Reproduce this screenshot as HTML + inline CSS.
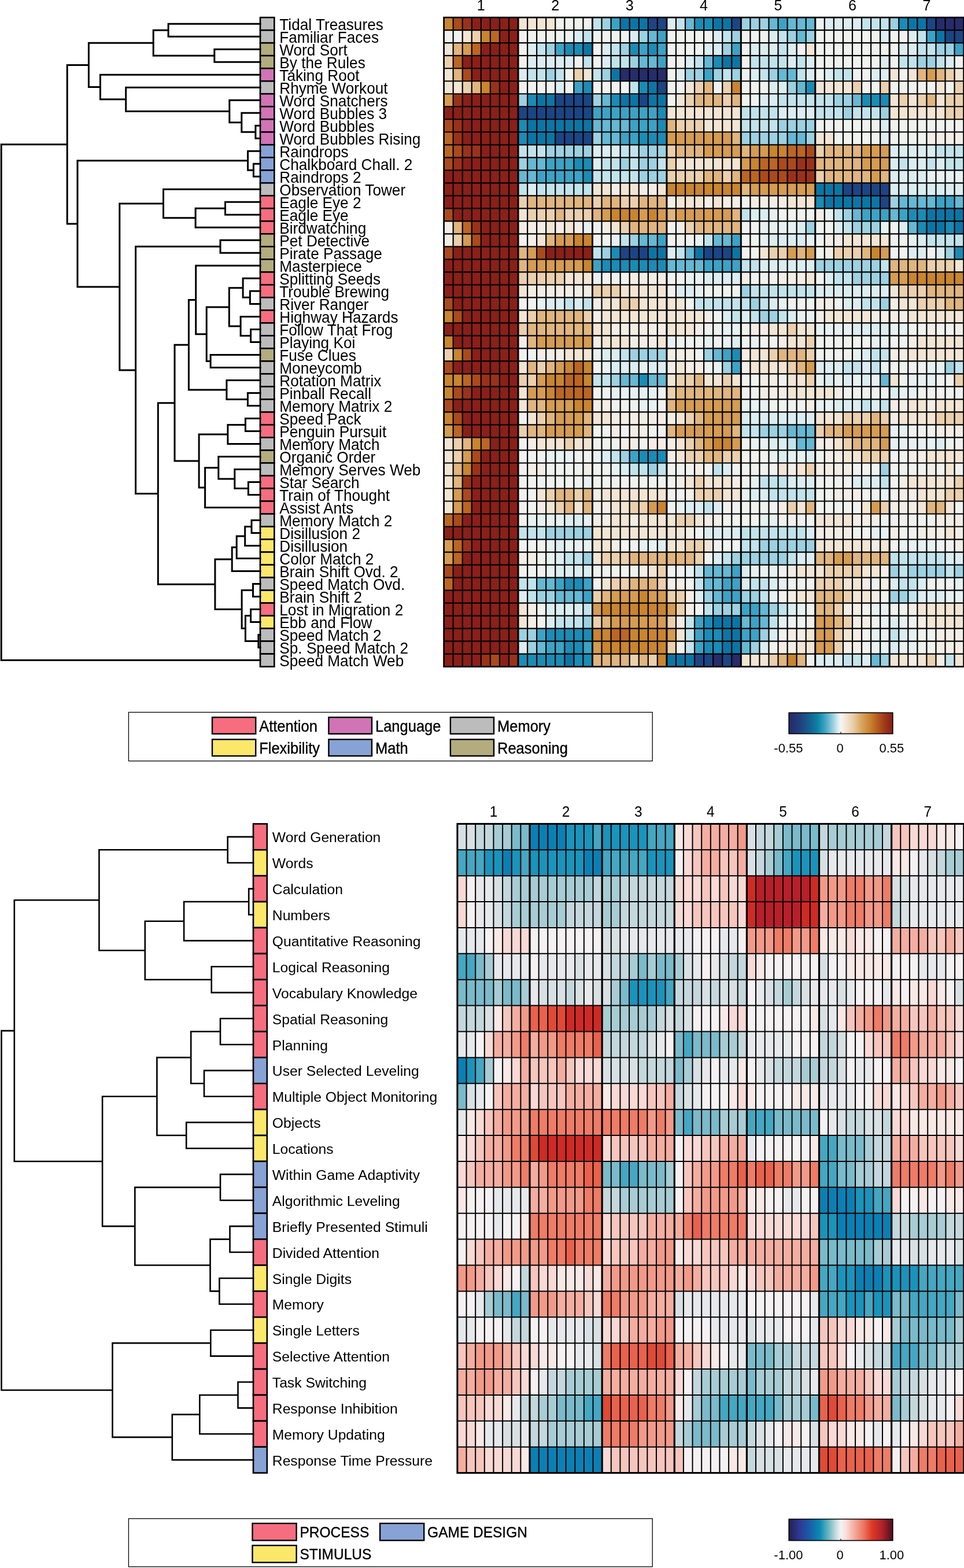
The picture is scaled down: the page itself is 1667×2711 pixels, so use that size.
<!DOCTYPE html><html><head><meta charset="utf-8"><title>Heatmaps</title><style>html,body{margin:0;padding:0;background:#fff;}svg{display:block;}text{font-family:"Liberation Sans", sans-serif;fill:#000;}</style></head><body>
<svg width="1667" height="2711" viewBox="0 0 1667 2711">
<rect width="1667" height="2711" fill="#fff"/>
<rect x="767.60" y="30.20" width="16.05" height="22.01" fill="#c9852f"/>
<rect x="783.65" y="30.20" width="16.05" height="22.01" fill="#ab4a1c"/>
<rect x="799.71" y="30.20" width="16.05" height="22.01" fill="#9a321a"/>
<rect x="815.76" y="30.20" width="80.27" height="22.01" fill="#8b1f19"/>
<rect x="896.03" y="30.20" width="64.22" height="22.01" fill="#f2e5d4"/>
<rect x="960.25" y="30.20" width="64.22" height="22.01" fill="#f0f2f0"/>
<rect x="1024.46" y="30.20" width="16.05" height="22.01" fill="#c2e3ec"/>
<rect x="1040.52" y="30.20" width="16.05" height="22.01" fill="#9dd1e1"/>
<rect x="1056.57" y="30.20" width="16.05" height="22.01" fill="#3ca3c6"/>
<rect x="1072.63" y="30.20" width="48.16" height="22.01" fill="#0b76a6"/>
<rect x="1120.79" y="30.20" width="32.11" height="22.01" fill="#1c4585"/>
<rect x="1152.90" y="30.20" width="16.05" height="22.01" fill="#dcedf1"/>
<rect x="1168.95" y="30.20" width="16.05" height="22.01" fill="#c2e3ec"/>
<rect x="1185.00" y="30.20" width="16.05" height="22.01" fill="#66b8d3"/>
<rect x="1201.06" y="30.20" width="32.11" height="22.01" fill="#1a8cb5"/>
<rect x="1233.17" y="30.20" width="32.11" height="22.01" fill="#0b76a6"/>
<rect x="1265.27" y="30.20" width="16.05" height="22.01" fill="#1c4585"/>
<rect x="1281.33" y="30.20" width="48.16" height="22.01" fill="#9dd1e1"/>
<rect x="1329.49" y="30.20" width="16.05" height="22.01" fill="#66b8d3"/>
<rect x="1345.54" y="30.20" width="16.05" height="22.01" fill="#3ca3c6"/>
<rect x="1361.60" y="30.20" width="48.16" height="22.01" fill="#66b8d3"/>
<rect x="1409.76" y="30.20" width="16.05" height="22.01" fill="#f0f2f0"/>
<rect x="1425.81" y="30.20" width="64.22" height="22.01" fill="#dcedf1"/>
<rect x="1490.03" y="30.20" width="48.16" height="22.01" fill="#c2e3ec"/>
<rect x="1538.19" y="30.20" width="16.05" height="22.01" fill="#9dd1e1"/>
<rect x="1554.25" y="30.20" width="16.05" height="22.01" fill="#1a8cb5"/>
<rect x="1570.30" y="30.20" width="32.11" height="22.01" fill="#0b76a6"/>
<rect x="1602.41" y="30.20" width="16.05" height="22.01" fill="#1c4585"/>
<rect x="1618.46" y="30.20" width="48.16" height="22.01" fill="#272c6a"/>
<rect x="767.60" y="52.21" width="32.11" height="22.01" fill="#f0f2f0"/>
<rect x="799.71" y="52.21" width="16.05" height="22.01" fill="#f2e5d4"/>
<rect x="815.76" y="52.21" width="16.05" height="22.01" fill="#ebd0ae"/>
<rect x="831.82" y="52.21" width="16.05" height="22.01" fill="#c9852f"/>
<rect x="847.87" y="52.21" width="16.05" height="22.01" fill="#bc6623"/>
<rect x="863.92" y="52.21" width="32.11" height="22.01" fill="#8b1f19"/>
<rect x="896.03" y="52.21" width="96.32" height="22.01" fill="#f0f2f0"/>
<rect x="992.36" y="52.21" width="16.05" height="22.01" fill="#dcedf1"/>
<rect x="1008.41" y="52.21" width="16.05" height="22.01" fill="#c2e3ec"/>
<rect x="1024.46" y="52.21" width="64.22" height="22.01" fill="#f0f2f0"/>
<rect x="1088.68" y="52.21" width="16.05" height="22.01" fill="#dcedf1"/>
<rect x="1104.73" y="52.21" width="16.05" height="22.01" fill="#9dd1e1"/>
<rect x="1120.79" y="52.21" width="16.05" height="22.01" fill="#66b8d3"/>
<rect x="1136.84" y="52.21" width="16.05" height="22.01" fill="#3ca3c6"/>
<rect x="1152.90" y="52.21" width="80.27" height="22.01" fill="#f0f2f0"/>
<rect x="1233.17" y="52.21" width="16.05" height="22.01" fill="#dcedf1"/>
<rect x="1249.22" y="52.21" width="16.05" height="22.01" fill="#c2e3ec"/>
<rect x="1265.27" y="52.21" width="16.05" height="22.01" fill="#9dd1e1"/>
<rect x="1281.33" y="52.21" width="48.16" height="22.01" fill="#f0f2f0"/>
<rect x="1329.49" y="52.21" width="16.05" height="22.01" fill="#dcedf1"/>
<rect x="1345.54" y="52.21" width="16.05" height="22.01" fill="#c2e3ec"/>
<rect x="1361.60" y="52.21" width="16.05" height="22.01" fill="#9dd1e1"/>
<rect x="1377.65" y="52.21" width="16.05" height="22.01" fill="#66b8d3"/>
<rect x="1393.71" y="52.21" width="16.05" height="22.01" fill="#9dd1e1"/>
<rect x="1409.76" y="52.21" width="112.38" height="22.01" fill="#f0f2f0"/>
<rect x="1522.14" y="52.21" width="16.05" height="22.01" fill="#dcedf1"/>
<rect x="1538.19" y="52.21" width="32.11" height="22.01" fill="#f0f2f0"/>
<rect x="1570.30" y="52.21" width="16.05" height="22.01" fill="#dcedf1"/>
<rect x="1586.35" y="52.21" width="16.05" height="22.01" fill="#c2e3ec"/>
<rect x="1602.41" y="52.21" width="16.05" height="22.01" fill="#3ca3c6"/>
<rect x="1618.46" y="52.21" width="16.05" height="22.01" fill="#0b76a6"/>
<rect x="1634.52" y="52.21" width="32.11" height="22.01" fill="#1c4585"/>
<rect x="767.60" y="74.22" width="16.05" height="22.01" fill="#f2e5d4"/>
<rect x="783.65" y="74.22" width="16.05" height="22.01" fill="#e0b57f"/>
<rect x="799.71" y="74.22" width="16.05" height="22.01" fill="#d59c52"/>
<rect x="815.76" y="74.22" width="16.05" height="22.01" fill="#bc6623"/>
<rect x="831.82" y="74.22" width="64.22" height="22.01" fill="#8b1f19"/>
<rect x="896.03" y="74.22" width="16.05" height="22.01" fill="#f0f2f0"/>
<rect x="912.09" y="74.22" width="16.05" height="22.01" fill="#dcedf1"/>
<rect x="928.14" y="74.22" width="16.05" height="22.01" fill="#c2e3ec"/>
<rect x="944.19" y="74.22" width="16.05" height="22.01" fill="#9dd1e1"/>
<rect x="960.25" y="74.22" width="16.05" height="22.01" fill="#3ca3c6"/>
<rect x="976.30" y="74.22" width="32.11" height="22.01" fill="#1a8cb5"/>
<rect x="1008.41" y="74.22" width="16.05" height="22.01" fill="#0b76a6"/>
<rect x="1024.46" y="74.22" width="16.05" height="22.01" fill="#f0f2f0"/>
<rect x="1040.52" y="74.22" width="16.05" height="22.01" fill="#dcedf1"/>
<rect x="1056.57" y="74.22" width="16.05" height="22.01" fill="#c2e3ec"/>
<rect x="1072.63" y="74.22" width="16.05" height="22.01" fill="#9dd1e1"/>
<rect x="1088.68" y="74.22" width="16.05" height="22.01" fill="#1a8cb5"/>
<rect x="1104.73" y="74.22" width="16.05" height="22.01" fill="#3ca3c6"/>
<rect x="1120.79" y="74.22" width="16.05" height="22.01" fill="#1a8cb5"/>
<rect x="1136.84" y="74.22" width="16.05" height="22.01" fill="#3ca3c6"/>
<rect x="1152.90" y="74.22" width="64.22" height="22.01" fill="#f0f2f0"/>
<rect x="1217.11" y="74.22" width="32.11" height="22.01" fill="#dcedf1"/>
<rect x="1249.22" y="74.22" width="16.05" height="22.01" fill="#9dd1e1"/>
<rect x="1265.27" y="74.22" width="16.05" height="22.01" fill="#3ca3c6"/>
<rect x="1281.33" y="74.22" width="16.05" height="22.01" fill="#f0f2f0"/>
<rect x="1297.38" y="74.22" width="48.16" height="22.01" fill="#dcedf1"/>
<rect x="1345.54" y="74.22" width="16.05" height="22.01" fill="#c2e3ec"/>
<rect x="1361.60" y="74.22" width="16.05" height="22.01" fill="#dcedf1"/>
<rect x="1377.65" y="74.22" width="16.05" height="22.01" fill="#f0f2f0"/>
<rect x="1393.71" y="74.22" width="16.05" height="22.01" fill="#f2e5d4"/>
<rect x="1409.76" y="74.22" width="144.49" height="22.01" fill="#f0f2f0"/>
<rect x="1554.25" y="74.22" width="32.11" height="22.01" fill="#dcedf1"/>
<rect x="1586.35" y="74.22" width="32.11" height="22.01" fill="#c2e3ec"/>
<rect x="1618.46" y="74.22" width="32.11" height="22.01" fill="#9dd1e1"/>
<rect x="1650.57" y="74.22" width="16.05" height="22.01" fill="#3ca3c6"/>
<rect x="767.60" y="96.22" width="16.05" height="22.01" fill="#ebd0ae"/>
<rect x="783.65" y="96.22" width="16.05" height="22.01" fill="#bc6623"/>
<rect x="799.71" y="96.22" width="96.32" height="22.01" fill="#8b1f19"/>
<rect x="896.03" y="96.22" width="16.05" height="22.01" fill="#f0f2f0"/>
<rect x="912.09" y="96.22" width="80.27" height="22.01" fill="#dcedf1"/>
<rect x="992.36" y="96.22" width="16.05" height="22.01" fill="#f0f2f0"/>
<rect x="1008.41" y="96.22" width="16.05" height="22.01" fill="#c2e3ec"/>
<rect x="1024.46" y="96.22" width="16.05" height="22.01" fill="#f0f2f0"/>
<rect x="1040.52" y="96.22" width="16.05" height="22.01" fill="#dcedf1"/>
<rect x="1056.57" y="96.22" width="32.11" height="22.01" fill="#c2e3ec"/>
<rect x="1088.68" y="96.22" width="16.05" height="22.01" fill="#9dd1e1"/>
<rect x="1104.73" y="96.22" width="32.11" height="22.01" fill="#66b8d3"/>
<rect x="1136.84" y="96.22" width="16.05" height="22.01" fill="#3ca3c6"/>
<rect x="1152.90" y="96.22" width="32.11" height="22.01" fill="#f0f2f0"/>
<rect x="1185.00" y="96.22" width="16.05" height="22.01" fill="#dcedf1"/>
<rect x="1201.06" y="96.22" width="16.05" height="22.01" fill="#c2e3ec"/>
<rect x="1217.11" y="96.22" width="16.05" height="22.01" fill="#66b8d3"/>
<rect x="1233.17" y="96.22" width="16.05" height="22.01" fill="#1a8cb5"/>
<rect x="1249.22" y="96.22" width="32.11" height="22.01" fill="#0b76a6"/>
<rect x="1281.33" y="96.22" width="16.05" height="22.01" fill="#f0f2f0"/>
<rect x="1297.38" y="96.22" width="64.22" height="22.01" fill="#c2e3ec"/>
<rect x="1361.60" y="96.22" width="16.05" height="22.01" fill="#dcedf1"/>
<rect x="1377.65" y="96.22" width="16.05" height="22.01" fill="#c2e3ec"/>
<rect x="1393.71" y="96.22" width="16.05" height="22.01" fill="#dcedf1"/>
<rect x="1409.76" y="96.22" width="112.38" height="22.01" fill="#f0f2f0"/>
<rect x="1522.14" y="96.22" width="16.05" height="22.01" fill="#dcedf1"/>
<rect x="1538.19" y="96.22" width="16.05" height="22.01" fill="#f0f2f0"/>
<rect x="1554.25" y="96.22" width="32.11" height="22.01" fill="#c2e3ec"/>
<rect x="1586.35" y="96.22" width="32.11" height="22.01" fill="#9dd1e1"/>
<rect x="1618.46" y="96.22" width="16.05" height="22.01" fill="#c2e3ec"/>
<rect x="1634.52" y="96.22" width="16.05" height="22.01" fill="#dcedf1"/>
<rect x="1650.57" y="96.22" width="16.05" height="22.01" fill="#f0f2f0"/>
<rect x="767.60" y="118.23" width="16.05" height="22.01" fill="#f2e5d4"/>
<rect x="783.65" y="118.23" width="16.05" height="22.01" fill="#e0b57f"/>
<rect x="799.71" y="118.23" width="16.05" height="22.01" fill="#ab4a1c"/>
<rect x="815.76" y="118.23" width="80.27" height="22.01" fill="#8b1f19"/>
<rect x="896.03" y="118.23" width="16.05" height="22.01" fill="#dcedf1"/>
<rect x="912.09" y="118.23" width="32.11" height="22.01" fill="#c2e3ec"/>
<rect x="944.19" y="118.23" width="16.05" height="22.01" fill="#9dd1e1"/>
<rect x="960.25" y="118.23" width="16.05" height="22.01" fill="#c2e3ec"/>
<rect x="976.30" y="118.23" width="16.05" height="22.01" fill="#f0f2f0"/>
<rect x="992.36" y="118.23" width="16.05" height="22.01" fill="#ebd0ae"/>
<rect x="1008.41" y="118.23" width="16.05" height="22.01" fill="#f2e5d4"/>
<rect x="1024.46" y="118.23" width="16.05" height="22.01" fill="#c2e3ec"/>
<rect x="1040.52" y="118.23" width="16.05" height="22.01" fill="#9dd1e1"/>
<rect x="1056.57" y="118.23" width="16.05" height="22.01" fill="#0b76a6"/>
<rect x="1072.63" y="118.23" width="80.27" height="22.01" fill="#272c6a"/>
<rect x="1152.90" y="118.23" width="16.05" height="22.01" fill="#f0f2f0"/>
<rect x="1168.95" y="118.23" width="16.05" height="22.01" fill="#dcedf1"/>
<rect x="1185.00" y="118.23" width="32.11" height="22.01" fill="#9dd1e1"/>
<rect x="1217.11" y="118.23" width="16.05" height="22.01" fill="#3ca3c6"/>
<rect x="1233.17" y="118.23" width="16.05" height="22.01" fill="#9dd1e1"/>
<rect x="1249.22" y="118.23" width="16.05" height="22.01" fill="#c2e3ec"/>
<rect x="1265.27" y="118.23" width="16.05" height="22.01" fill="#9dd1e1"/>
<rect x="1281.33" y="118.23" width="16.05" height="22.01" fill="#f0f2f0"/>
<rect x="1297.38" y="118.23" width="16.05" height="22.01" fill="#dcedf1"/>
<rect x="1313.44" y="118.23" width="16.05" height="22.01" fill="#c2e3ec"/>
<rect x="1329.49" y="118.23" width="16.05" height="22.01" fill="#9dd1e1"/>
<rect x="1345.54" y="118.23" width="32.11" height="22.01" fill="#66b8d3"/>
<rect x="1377.65" y="118.23" width="16.05" height="22.01" fill="#c2e3ec"/>
<rect x="1393.71" y="118.23" width="16.05" height="22.01" fill="#dcedf1"/>
<rect x="1409.76" y="118.23" width="16.05" height="22.01" fill="#f0f2f0"/>
<rect x="1425.81" y="118.23" width="16.05" height="22.01" fill="#dcedf1"/>
<rect x="1441.87" y="118.23" width="32.11" height="22.01" fill="#c2e3ec"/>
<rect x="1473.98" y="118.23" width="32.11" height="22.01" fill="#f0f2f0"/>
<rect x="1506.08" y="118.23" width="32.11" height="22.01" fill="#dcedf1"/>
<rect x="1538.19" y="118.23" width="16.05" height="22.01" fill="#f2e5d4"/>
<rect x="1554.25" y="118.23" width="16.05" height="22.01" fill="#f0f2f0"/>
<rect x="1570.30" y="118.23" width="16.05" height="22.01" fill="#f2e5d4"/>
<rect x="1586.35" y="118.23" width="16.05" height="22.01" fill="#e0b57f"/>
<rect x="1602.41" y="118.23" width="16.05" height="22.01" fill="#d59c52"/>
<rect x="1618.46" y="118.23" width="16.05" height="22.01" fill="#e0b57f"/>
<rect x="1634.52" y="118.23" width="16.05" height="22.01" fill="#ebd0ae"/>
<rect x="1650.57" y="118.23" width="16.05" height="22.01" fill="#f2e5d4"/>
<rect x="767.60" y="140.24" width="32.11" height="22.01" fill="#f2e5d4"/>
<rect x="799.71" y="140.24" width="16.05" height="22.01" fill="#ebd0ae"/>
<rect x="815.76" y="140.24" width="16.05" height="22.01" fill="#e0b57f"/>
<rect x="831.82" y="140.24" width="16.05" height="22.01" fill="#c9852f"/>
<rect x="847.87" y="140.24" width="16.05" height="22.01" fill="#9a321a"/>
<rect x="863.92" y="140.24" width="32.11" height="22.01" fill="#8b1f19"/>
<rect x="896.03" y="140.24" width="64.22" height="22.01" fill="#f0f2f0"/>
<rect x="960.25" y="140.24" width="16.05" height="22.01" fill="#dcedf1"/>
<rect x="976.30" y="140.24" width="16.05" height="22.01" fill="#f0f2f0"/>
<rect x="992.36" y="140.24" width="16.05" height="22.01" fill="#3ca3c6"/>
<rect x="1008.41" y="140.24" width="16.05" height="22.01" fill="#1a8cb5"/>
<rect x="1024.46" y="140.24" width="64.22" height="22.01" fill="#f0f2f0"/>
<rect x="1088.68" y="140.24" width="16.05" height="22.01" fill="#c2e3ec"/>
<rect x="1104.73" y="140.24" width="16.05" height="22.01" fill="#1a8cb5"/>
<rect x="1120.79" y="140.24" width="16.05" height="22.01" fill="#0b76a6"/>
<rect x="1136.84" y="140.24" width="16.05" height="22.01" fill="#1c4585"/>
<rect x="1152.90" y="140.24" width="32.11" height="22.01" fill="#f0f2f0"/>
<rect x="1185.00" y="140.24" width="16.05" height="22.01" fill="#f2e5d4"/>
<rect x="1201.06" y="140.24" width="16.05" height="22.01" fill="#ebd0ae"/>
<rect x="1217.11" y="140.24" width="16.05" height="22.01" fill="#e0b57f"/>
<rect x="1233.17" y="140.24" width="16.05" height="22.01" fill="#f0f2f0"/>
<rect x="1249.22" y="140.24" width="16.05" height="22.01" fill="#ebd0ae"/>
<rect x="1265.27" y="140.24" width="16.05" height="22.01" fill="#c9852f"/>
<rect x="1281.33" y="140.24" width="48.16" height="22.01" fill="#f0f2f0"/>
<rect x="1329.49" y="140.24" width="32.11" height="22.01" fill="#dcedf1"/>
<rect x="1361.60" y="140.24" width="16.05" height="22.01" fill="#9dd1e1"/>
<rect x="1377.65" y="140.24" width="16.05" height="22.01" fill="#66b8d3"/>
<rect x="1393.71" y="140.24" width="16.05" height="22.01" fill="#1a8cb5"/>
<rect x="1409.76" y="140.24" width="64.22" height="22.01" fill="#f2e5d4"/>
<rect x="1473.98" y="140.24" width="16.05" height="22.01" fill="#ebd0ae"/>
<rect x="1490.03" y="140.24" width="32.11" height="22.01" fill="#f0f2f0"/>
<rect x="1522.14" y="140.24" width="16.05" height="22.01" fill="#ebd0ae"/>
<rect x="1538.19" y="140.24" width="80.27" height="22.01" fill="#f0f2f0"/>
<rect x="1618.46" y="140.24" width="16.05" height="22.01" fill="#f2e5d4"/>
<rect x="1634.52" y="140.24" width="16.05" height="22.01" fill="#f0f2f0"/>
<rect x="1650.57" y="140.24" width="16.05" height="22.01" fill="#ebd0ae"/>
<rect x="767.60" y="162.25" width="16.05" height="22.01" fill="#d59c52"/>
<rect x="783.65" y="162.25" width="16.05" height="22.01" fill="#9a321a"/>
<rect x="799.71" y="162.25" width="96.32" height="22.01" fill="#8b1f19"/>
<rect x="896.03" y="162.25" width="16.05" height="22.01" fill="#9dd1e1"/>
<rect x="912.09" y="162.25" width="16.05" height="22.01" fill="#1a8cb5"/>
<rect x="928.14" y="162.25" width="32.11" height="22.01" fill="#0b76a6"/>
<rect x="960.25" y="162.25" width="64.22" height="22.01" fill="#1c4585"/>
<rect x="1024.46" y="162.25" width="16.05" height="22.01" fill="#9dd1e1"/>
<rect x="1040.52" y="162.25" width="16.05" height="22.01" fill="#66b8d3"/>
<rect x="1056.57" y="162.25" width="16.05" height="22.01" fill="#1a8cb5"/>
<rect x="1072.63" y="162.25" width="32.11" height="22.01" fill="#0b76a6"/>
<rect x="1104.73" y="162.25" width="16.05" height="22.01" fill="#1c4585"/>
<rect x="1120.79" y="162.25" width="32.11" height="22.01" fill="#0b76a6"/>
<rect x="1152.90" y="162.25" width="16.05" height="22.01" fill="#f0f2f0"/>
<rect x="1168.95" y="162.25" width="16.05" height="22.01" fill="#f2e5d4"/>
<rect x="1185.00" y="162.25" width="16.05" height="22.01" fill="#ebd0ae"/>
<rect x="1201.06" y="162.25" width="48.16" height="22.01" fill="#e0b57f"/>
<rect x="1249.22" y="162.25" width="16.05" height="22.01" fill="#ebd0ae"/>
<rect x="1265.27" y="162.25" width="16.05" height="22.01" fill="#e0b57f"/>
<rect x="1281.33" y="162.25" width="32.11" height="22.01" fill="#f0f2f0"/>
<rect x="1313.44" y="162.25" width="32.11" height="22.01" fill="#dcedf1"/>
<rect x="1345.54" y="162.25" width="96.32" height="22.01" fill="#c2e3ec"/>
<rect x="1441.87" y="162.25" width="32.11" height="22.01" fill="#9dd1e1"/>
<rect x="1473.98" y="162.25" width="16.05" height="22.01" fill="#66b8d3"/>
<rect x="1490.03" y="162.25" width="48.16" height="22.01" fill="#1a8cb5"/>
<rect x="1538.19" y="162.25" width="16.05" height="22.01" fill="#f2e5d4"/>
<rect x="1554.25" y="162.25" width="16.05" height="22.01" fill="#ebd0ae"/>
<rect x="1570.30" y="162.25" width="16.05" height="22.01" fill="#f2e5d4"/>
<rect x="1586.35" y="162.25" width="16.05" height="22.01" fill="#ebd0ae"/>
<rect x="1602.41" y="162.25" width="16.05" height="22.01" fill="#e0b57f"/>
<rect x="1618.46" y="162.25" width="16.05" height="22.01" fill="#f2e5d4"/>
<rect x="1634.52" y="162.25" width="32.11" height="22.01" fill="#ebd0ae"/>
<rect x="767.60" y="184.26" width="128.43" height="22.01" fill="#8b1f19"/>
<rect x="896.03" y="184.26" width="128.43" height="22.01" fill="#1c4585"/>
<rect x="1024.46" y="184.26" width="112.38" height="22.01" fill="#3ca3c6"/>
<rect x="1136.84" y="184.26" width="16.05" height="22.01" fill="#1a8cb5"/>
<rect x="1152.90" y="184.26" width="128.43" height="22.01" fill="#f2e5d4"/>
<rect x="1281.33" y="184.26" width="64.22" height="22.01" fill="#c2e3ec"/>
<rect x="1345.54" y="184.26" width="64.22" height="22.01" fill="#dcedf1"/>
<rect x="1409.76" y="184.26" width="48.16" height="22.01" fill="#c2e3ec"/>
<rect x="1457.92" y="184.26" width="16.05" height="22.01" fill="#9dd1e1"/>
<rect x="1473.98" y="184.26" width="48.16" height="22.01" fill="#c2e3ec"/>
<rect x="1522.14" y="184.26" width="16.05" height="22.01" fill="#9dd1e1"/>
<rect x="1538.19" y="184.26" width="96.32" height="22.01" fill="#f2e5d4"/>
<rect x="1634.52" y="184.26" width="32.11" height="22.01" fill="#ebd0ae"/>
<rect x="767.60" y="206.26" width="16.05" height="22.01" fill="#ab4a1c"/>
<rect x="783.65" y="206.26" width="16.05" height="22.01" fill="#9a321a"/>
<rect x="799.71" y="206.26" width="96.32" height="22.01" fill="#8b1f19"/>
<rect x="896.03" y="206.26" width="16.05" height="22.01" fill="#1a8cb5"/>
<rect x="912.09" y="206.26" width="112.38" height="22.01" fill="#0b76a6"/>
<rect x="1024.46" y="206.26" width="64.22" height="22.01" fill="#66b8d3"/>
<rect x="1088.68" y="206.26" width="48.16" height="22.01" fill="#3ca3c6"/>
<rect x="1136.84" y="206.26" width="16.05" height="22.01" fill="#1a8cb5"/>
<rect x="1152.90" y="206.26" width="16.05" height="22.01" fill="#e0b57f"/>
<rect x="1168.95" y="206.26" width="48.16" height="22.01" fill="#ebd0ae"/>
<rect x="1217.11" y="206.26" width="64.22" height="22.01" fill="#f2e5d4"/>
<rect x="1281.33" y="206.26" width="64.22" height="22.01" fill="#c2e3ec"/>
<rect x="1345.54" y="206.26" width="64.22" height="22.01" fill="#9dd1e1"/>
<rect x="1409.76" y="206.26" width="112.38" height="22.01" fill="#f0f2f0"/>
<rect x="1522.14" y="206.26" width="16.05" height="22.01" fill="#dcedf1"/>
<rect x="1538.19" y="206.26" width="128.43" height="22.01" fill="#f0f2f0"/>
<rect x="767.60" y="228.27" width="16.05" height="22.01" fill="#bc6623"/>
<rect x="783.65" y="228.27" width="16.05" height="22.01" fill="#9a321a"/>
<rect x="799.71" y="228.27" width="96.32" height="22.01" fill="#8b1f19"/>
<rect x="896.03" y="228.27" width="16.05" height="22.01" fill="#1a8cb5"/>
<rect x="912.09" y="228.27" width="48.16" height="22.01" fill="#0b76a6"/>
<rect x="960.25" y="228.27" width="64.22" height="22.01" fill="#1c4585"/>
<rect x="1024.46" y="228.27" width="16.05" height="22.01" fill="#9dd1e1"/>
<rect x="1040.52" y="228.27" width="32.11" height="22.01" fill="#66b8d3"/>
<rect x="1072.63" y="228.27" width="32.11" height="22.01" fill="#3ca3c6"/>
<rect x="1104.73" y="228.27" width="48.16" height="22.01" fill="#1a8cb5"/>
<rect x="1152.90" y="228.27" width="112.38" height="22.01" fill="#d59c52"/>
<rect x="1265.27" y="228.27" width="16.05" height="22.01" fill="#e0b57f"/>
<rect x="1281.33" y="228.27" width="80.27" height="22.01" fill="#9dd1e1"/>
<rect x="1361.60" y="228.27" width="32.11" height="22.01" fill="#66b8d3"/>
<rect x="1393.71" y="228.27" width="16.05" height="22.01" fill="#9dd1e1"/>
<rect x="1409.76" y="228.27" width="32.11" height="22.01" fill="#f2e5d4"/>
<rect x="1441.87" y="228.27" width="80.27" height="22.01" fill="#f0f2f0"/>
<rect x="1522.14" y="228.27" width="16.05" height="22.01" fill="#dcedf1"/>
<rect x="1538.19" y="228.27" width="64.22" height="22.01" fill="#f0f2f0"/>
<rect x="1602.41" y="228.27" width="64.22" height="22.01" fill="#f3ede6"/>
<rect x="767.60" y="250.28" width="16.05" height="22.01" fill="#bc6623"/>
<rect x="783.65" y="250.28" width="16.05" height="22.01" fill="#ab4a1c"/>
<rect x="799.71" y="250.28" width="32.11" height="22.01" fill="#9a321a"/>
<rect x="831.82" y="250.28" width="64.22" height="22.01" fill="#8b1f19"/>
<rect x="896.03" y="250.28" width="48.16" height="22.01" fill="#c2e3ec"/>
<rect x="944.19" y="250.28" width="80.27" height="22.01" fill="#9dd1e1"/>
<rect x="1024.46" y="250.28" width="48.16" height="22.01" fill="#dcedf1"/>
<rect x="1072.63" y="250.28" width="32.11" height="22.01" fill="#c2e3ec"/>
<rect x="1104.73" y="250.28" width="48.16" height="22.01" fill="#9dd1e1"/>
<rect x="1152.90" y="250.28" width="16.05" height="22.01" fill="#ebd0ae"/>
<rect x="1168.95" y="250.28" width="48.16" height="22.01" fill="#e0b57f"/>
<rect x="1217.11" y="250.28" width="64.22" height="22.01" fill="#d59c52"/>
<rect x="1281.33" y="250.28" width="16.05" height="22.01" fill="#e0b57f"/>
<rect x="1297.38" y="250.28" width="32.11" height="22.01" fill="#d59c52"/>
<rect x="1329.49" y="250.28" width="32.11" height="22.01" fill="#c9852f"/>
<rect x="1361.60" y="250.28" width="32.11" height="22.01" fill="#bc6623"/>
<rect x="1393.71" y="250.28" width="16.05" height="22.01" fill="#ab4a1c"/>
<rect x="1409.76" y="250.28" width="16.05" height="22.01" fill="#ebd0ae"/>
<rect x="1425.81" y="250.28" width="64.22" height="22.01" fill="#e0b57f"/>
<rect x="1490.03" y="250.28" width="48.16" height="22.01" fill="#d59c52"/>
<rect x="1538.19" y="250.28" width="80.27" height="22.01" fill="#dcedf1"/>
<rect x="1618.46" y="250.28" width="48.16" height="22.01" fill="#c2e3ec"/>
<rect x="767.60" y="272.29" width="16.05" height="22.01" fill="#ab4a1c"/>
<rect x="783.65" y="272.29" width="16.05" height="22.01" fill="#9a321a"/>
<rect x="799.71" y="272.29" width="96.32" height="22.01" fill="#8b1f19"/>
<rect x="896.03" y="272.29" width="16.05" height="22.01" fill="#9dd1e1"/>
<rect x="912.09" y="272.29" width="32.11" height="22.01" fill="#66b8d3"/>
<rect x="944.19" y="272.29" width="48.16" height="22.01" fill="#3ca3c6"/>
<rect x="992.36" y="272.29" width="32.11" height="22.01" fill="#1a8cb5"/>
<rect x="1024.46" y="272.29" width="16.05" height="22.01" fill="#dcedf1"/>
<rect x="1040.52" y="272.29" width="32.11" height="22.01" fill="#c2e3ec"/>
<rect x="1072.63" y="272.29" width="16.05" height="22.01" fill="#9dd1e1"/>
<rect x="1088.68" y="272.29" width="16.05" height="22.01" fill="#c2e3ec"/>
<rect x="1104.73" y="272.29" width="32.11" height="22.01" fill="#9dd1e1"/>
<rect x="1136.84" y="272.29" width="16.05" height="22.01" fill="#c2e3ec"/>
<rect x="1152.90" y="272.29" width="16.05" height="22.01" fill="#ebd0ae"/>
<rect x="1168.95" y="272.29" width="112.38" height="22.01" fill="#f2e5d4"/>
<rect x="1281.33" y="272.29" width="16.05" height="22.01" fill="#d59c52"/>
<rect x="1297.38" y="272.29" width="16.05" height="22.01" fill="#c9852f"/>
<rect x="1313.44" y="272.29" width="32.11" height="22.01" fill="#bc6623"/>
<rect x="1345.54" y="272.29" width="32.11" height="22.01" fill="#ab4a1c"/>
<rect x="1377.65" y="272.29" width="32.11" height="22.01" fill="#9a321a"/>
<rect x="1409.76" y="272.29" width="80.27" height="22.01" fill="#e0b57f"/>
<rect x="1490.03" y="272.29" width="48.16" height="22.01" fill="#d59c52"/>
<rect x="1538.19" y="272.29" width="16.05" height="22.01" fill="#dcedf1"/>
<rect x="1554.25" y="272.29" width="16.05" height="22.01" fill="#c2e3ec"/>
<rect x="1570.30" y="272.29" width="32.11" height="22.01" fill="#dcedf1"/>
<rect x="1602.41" y="272.29" width="16.05" height="22.01" fill="#c2e3ec"/>
<rect x="1618.46" y="272.29" width="16.05" height="22.01" fill="#dcedf1"/>
<rect x="1634.52" y="272.29" width="32.11" height="22.01" fill="#c2e3ec"/>
<rect x="767.60" y="294.30" width="128.43" height="22.01" fill="#8b1f19"/>
<rect x="896.03" y="294.30" width="32.11" height="22.01" fill="#66b8d3"/>
<rect x="928.14" y="294.30" width="80.27" height="22.01" fill="#3ca3c6"/>
<rect x="1008.41" y="294.30" width="16.05" height="22.01" fill="#1a8cb5"/>
<rect x="1024.46" y="294.30" width="80.27" height="22.01" fill="#c2e3ec"/>
<rect x="1104.73" y="294.30" width="48.16" height="22.01" fill="#9dd1e1"/>
<rect x="1152.90" y="294.30" width="64.22" height="22.01" fill="#ebd0ae"/>
<rect x="1217.11" y="294.30" width="32.11" height="22.01" fill="#e0b57f"/>
<rect x="1249.22" y="294.30" width="16.05" height="22.01" fill="#ebd0ae"/>
<rect x="1265.27" y="294.30" width="16.05" height="22.01" fill="#e0b57f"/>
<rect x="1281.33" y="294.30" width="32.11" height="22.01" fill="#bc6623"/>
<rect x="1313.44" y="294.30" width="48.16" height="22.01" fill="#ab4a1c"/>
<rect x="1361.60" y="294.30" width="48.16" height="22.01" fill="#9a321a"/>
<rect x="1409.76" y="294.30" width="16.05" height="22.01" fill="#ebd0ae"/>
<rect x="1425.81" y="294.30" width="80.27" height="22.01" fill="#e0b57f"/>
<rect x="1506.08" y="294.30" width="16.05" height="22.01" fill="#d59c52"/>
<rect x="1522.14" y="294.30" width="16.05" height="22.01" fill="#e0b57f"/>
<rect x="1538.19" y="294.30" width="64.22" height="22.01" fill="#dcedf1"/>
<rect x="1602.41" y="294.30" width="64.22" height="22.01" fill="#e7f1f2"/>
<rect x="767.60" y="316.30" width="128.43" height="22.01" fill="#8b1f19"/>
<rect x="896.03" y="316.30" width="16.05" height="22.01" fill="#c2e3ec"/>
<rect x="912.09" y="316.30" width="16.05" height="22.01" fill="#dcedf1"/>
<rect x="928.14" y="316.30" width="96.32" height="22.01" fill="#c2e3ec"/>
<rect x="1024.46" y="316.30" width="32.11" height="22.01" fill="#f2e5d4"/>
<rect x="1056.57" y="316.30" width="16.05" height="22.01" fill="#f3ede6"/>
<rect x="1072.63" y="316.30" width="32.11" height="22.01" fill="#f2e5d4"/>
<rect x="1104.73" y="316.30" width="32.11" height="22.01" fill="#f3ede6"/>
<rect x="1136.84" y="316.30" width="16.05" height="22.01" fill="#f2e5d4"/>
<rect x="1152.90" y="316.30" width="128.43" height="22.01" fill="#c9852f"/>
<rect x="1281.33" y="316.30" width="16.05" height="22.01" fill="#e0b57f"/>
<rect x="1297.38" y="316.30" width="112.38" height="22.01" fill="#d59c52"/>
<rect x="1409.76" y="316.30" width="48.16" height="22.01" fill="#0b76a6"/>
<rect x="1457.92" y="316.30" width="80.27" height="22.01" fill="#1c4585"/>
<rect x="1538.19" y="316.30" width="128.43" height="22.01" fill="#dcedf1"/>
<rect x="767.60" y="338.31" width="128.43" height="22.01" fill="#8b1f19"/>
<rect x="896.03" y="338.31" width="16.05" height="22.01" fill="#ebd0ae"/>
<rect x="912.09" y="338.31" width="112.38" height="22.01" fill="#e0b57f"/>
<rect x="1024.46" y="338.31" width="16.05" height="22.01" fill="#ebd0ae"/>
<rect x="1040.52" y="338.31" width="32.11" height="22.01" fill="#e0b57f"/>
<rect x="1072.63" y="338.31" width="32.11" height="22.01" fill="#ebd0ae"/>
<rect x="1104.73" y="338.31" width="48.16" height="22.01" fill="#e0b57f"/>
<rect x="1152.90" y="338.31" width="16.05" height="22.01" fill="#f3ede6"/>
<rect x="1168.95" y="338.31" width="48.16" height="22.01" fill="#f2e5d4"/>
<rect x="1217.11" y="338.31" width="16.05" height="22.01" fill="#f3ede6"/>
<rect x="1233.17" y="338.31" width="16.05" height="22.01" fill="#f2e5d4"/>
<rect x="1249.22" y="338.31" width="32.11" height="22.01" fill="#f3ede6"/>
<rect x="1281.33" y="338.31" width="16.05" height="22.01" fill="#f0f2f0"/>
<rect x="1297.38" y="338.31" width="64.22" height="22.01" fill="#f3ede6"/>
<rect x="1361.60" y="338.31" width="48.16" height="22.01" fill="#f2e5d4"/>
<rect x="1409.76" y="338.31" width="16.05" height="22.01" fill="#1a8cb5"/>
<rect x="1425.81" y="338.31" width="96.32" height="22.01" fill="#0b76a6"/>
<rect x="1522.14" y="338.31" width="16.05" height="22.01" fill="#1c4585"/>
<rect x="1538.19" y="338.31" width="16.05" height="22.01" fill="#9dd1e1"/>
<rect x="1554.25" y="338.31" width="64.22" height="22.01" fill="#66b8d3"/>
<rect x="1618.46" y="338.31" width="32.11" height="22.01" fill="#3ca3c6"/>
<rect x="1650.57" y="338.31" width="16.05" height="22.01" fill="#66b8d3"/>
<rect x="767.60" y="360.32" width="16.05" height="22.01" fill="#ab4a1c"/>
<rect x="783.65" y="360.32" width="112.38" height="22.01" fill="#8b1f19"/>
<rect x="896.03" y="360.32" width="16.05" height="22.01" fill="#f2e5d4"/>
<rect x="912.09" y="360.32" width="48.16" height="22.01" fill="#ebd0ae"/>
<rect x="960.25" y="360.32" width="16.05" height="22.01" fill="#e0b57f"/>
<rect x="976.30" y="360.32" width="48.16" height="22.01" fill="#ebd0ae"/>
<rect x="1024.46" y="360.32" width="16.05" height="22.01" fill="#e0b57f"/>
<rect x="1040.52" y="360.32" width="16.05" height="22.01" fill="#d59c52"/>
<rect x="1056.57" y="360.32" width="48.16" height="22.01" fill="#c9852f"/>
<rect x="1104.73" y="360.32" width="16.05" height="22.01" fill="#d59c52"/>
<rect x="1120.79" y="360.32" width="16.05" height="22.01" fill="#c9852f"/>
<rect x="1136.84" y="360.32" width="16.05" height="22.01" fill="#d59c52"/>
<rect x="1152.90" y="360.32" width="16.05" height="22.01" fill="#e0b57f"/>
<rect x="1168.95" y="360.32" width="96.32" height="22.01" fill="#d59c52"/>
<rect x="1265.27" y="360.32" width="16.05" height="22.01" fill="#e0b57f"/>
<rect x="1281.33" y="360.32" width="16.05" height="22.01" fill="#c2e3ec"/>
<rect x="1297.38" y="360.32" width="32.11" height="22.01" fill="#dcedf1"/>
<rect x="1329.49" y="360.32" width="16.05" height="22.01" fill="#e7f1f2"/>
<rect x="1345.54" y="360.32" width="64.22" height="22.01" fill="#f0f2f0"/>
<rect x="1409.76" y="360.32" width="16.05" height="22.01" fill="#f3ede6"/>
<rect x="1425.81" y="360.32" width="16.05" height="22.01" fill="#e7f1f2"/>
<rect x="1441.87" y="360.32" width="16.05" height="22.01" fill="#c2e3ec"/>
<rect x="1457.92" y="360.32" width="16.05" height="22.01" fill="#9dd1e1"/>
<rect x="1473.98" y="360.32" width="16.05" height="22.01" fill="#66b8d3"/>
<rect x="1490.03" y="360.32" width="48.16" height="22.01" fill="#3ca3c6"/>
<rect x="1538.19" y="360.32" width="16.05" height="22.01" fill="#66b8d3"/>
<rect x="1554.25" y="360.32" width="16.05" height="22.01" fill="#3ca3c6"/>
<rect x="1570.30" y="360.32" width="32.11" height="22.01" fill="#1a8cb5"/>
<rect x="1602.41" y="360.32" width="64.22" height="22.01" fill="#0b76a6"/>
<rect x="767.60" y="382.33" width="16.05" height="22.01" fill="#f3ede6"/>
<rect x="783.65" y="382.33" width="16.05" height="22.01" fill="#e0b57f"/>
<rect x="799.71" y="382.33" width="16.05" height="22.01" fill="#bc6623"/>
<rect x="815.76" y="382.33" width="16.05" height="22.01" fill="#9a321a"/>
<rect x="831.82" y="382.33" width="64.22" height="22.01" fill="#8b1f19"/>
<rect x="896.03" y="382.33" width="48.16" height="22.01" fill="#f3ede6"/>
<rect x="944.19" y="382.33" width="16.05" height="22.01" fill="#f2e5d4"/>
<rect x="960.25" y="382.33" width="16.05" height="22.01" fill="#f3ede6"/>
<rect x="976.30" y="382.33" width="16.05" height="22.01" fill="#f2e5d4"/>
<rect x="992.36" y="382.33" width="16.05" height="22.01" fill="#f3ede6"/>
<rect x="1008.41" y="382.33" width="16.05" height="22.01" fill="#e7f1f2"/>
<rect x="1024.46" y="382.33" width="16.05" height="22.01" fill="#f0f2f0"/>
<rect x="1040.52" y="382.33" width="16.05" height="22.01" fill="#f3ede6"/>
<rect x="1056.57" y="382.33" width="16.05" height="22.01" fill="#f2e5d4"/>
<rect x="1072.63" y="382.33" width="16.05" height="22.01" fill="#ebd0ae"/>
<rect x="1088.68" y="382.33" width="64.22" height="22.01" fill="#e0b57f"/>
<rect x="1152.90" y="382.33" width="16.05" height="22.01" fill="#f0f2f0"/>
<rect x="1168.95" y="382.33" width="16.05" height="22.01" fill="#f3ede6"/>
<rect x="1185.00" y="382.33" width="16.05" height="22.01" fill="#ebd0ae"/>
<rect x="1201.06" y="382.33" width="80.27" height="22.01" fill="#e0b57f"/>
<rect x="1281.33" y="382.33" width="32.11" height="22.01" fill="#f0f2f0"/>
<rect x="1313.44" y="382.33" width="64.22" height="22.01" fill="#e7f1f2"/>
<rect x="1377.65" y="382.33" width="16.05" height="22.01" fill="#dcedf1"/>
<rect x="1393.71" y="382.33" width="16.05" height="22.01" fill="#9dd1e1"/>
<rect x="1409.76" y="382.33" width="32.11" height="22.01" fill="#f0f2f0"/>
<rect x="1441.87" y="382.33" width="16.05" height="22.01" fill="#dcedf1"/>
<rect x="1457.92" y="382.33" width="16.05" height="22.01" fill="#c2e3ec"/>
<rect x="1473.98" y="382.33" width="48.16" height="22.01" fill="#9dd1e1"/>
<rect x="1522.14" y="382.33" width="16.05" height="22.01" fill="#e7f1f2"/>
<rect x="1538.19" y="382.33" width="16.05" height="22.01" fill="#f0f2f0"/>
<rect x="1554.25" y="382.33" width="16.05" height="22.01" fill="#dcedf1"/>
<rect x="1570.30" y="382.33" width="16.05" height="22.01" fill="#66b8d3"/>
<rect x="1586.35" y="382.33" width="16.05" height="22.01" fill="#1a8cb5"/>
<rect x="1602.41" y="382.33" width="32.11" height="22.01" fill="#0b76a6"/>
<rect x="1634.52" y="382.33" width="16.05" height="22.01" fill="#1a8cb5"/>
<rect x="1650.57" y="382.33" width="16.05" height="22.01" fill="#0b76a6"/>
<rect x="767.60" y="404.34" width="16.05" height="22.01" fill="#f3ede6"/>
<rect x="783.65" y="404.34" width="16.05" height="22.01" fill="#ebd0ae"/>
<rect x="799.71" y="404.34" width="16.05" height="22.01" fill="#d59c52"/>
<rect x="815.76" y="404.34" width="16.05" height="22.01" fill="#ab4a1c"/>
<rect x="831.82" y="404.34" width="64.22" height="22.01" fill="#8b1f19"/>
<rect x="896.03" y="404.34" width="16.05" height="22.01" fill="#f0f2f0"/>
<rect x="912.09" y="404.34" width="16.05" height="22.01" fill="#f3ede6"/>
<rect x="928.14" y="404.34" width="16.05" height="22.01" fill="#f2e5d4"/>
<rect x="944.19" y="404.34" width="16.05" height="22.01" fill="#e0b57f"/>
<rect x="960.25" y="404.34" width="32.11" height="22.01" fill="#d59c52"/>
<rect x="992.36" y="404.34" width="32.11" height="22.01" fill="#c9852f"/>
<rect x="1024.46" y="404.34" width="32.11" height="22.01" fill="#f0f2f0"/>
<rect x="1056.57" y="404.34" width="16.05" height="22.01" fill="#e7f1f2"/>
<rect x="1072.63" y="404.34" width="16.05" height="22.01" fill="#c2e3ec"/>
<rect x="1088.68" y="404.34" width="16.05" height="22.01" fill="#9dd1e1"/>
<rect x="1104.73" y="404.34" width="32.11" height="22.01" fill="#66b8d3"/>
<rect x="1136.84" y="404.34" width="16.05" height="22.01" fill="#3ca3c6"/>
<rect x="1152.90" y="404.34" width="48.16" height="22.01" fill="#f0f2f0"/>
<rect x="1201.06" y="404.34" width="16.05" height="22.01" fill="#e7f1f2"/>
<rect x="1217.11" y="404.34" width="16.05" height="22.01" fill="#c2e3ec"/>
<rect x="1233.17" y="404.34" width="32.11" height="22.01" fill="#66b8d3"/>
<rect x="1265.27" y="404.34" width="16.05" height="22.01" fill="#3ca3c6"/>
<rect x="1281.33" y="404.34" width="32.11" height="22.01" fill="#f0f2f0"/>
<rect x="1313.44" y="404.34" width="16.05" height="22.01" fill="#e7f1f2"/>
<rect x="1329.49" y="404.34" width="64.22" height="22.01" fill="#dcedf1"/>
<rect x="1393.71" y="404.34" width="16.05" height="22.01" fill="#e7f1f2"/>
<rect x="1409.76" y="404.34" width="16.05" height="22.01" fill="#f0f2f0"/>
<rect x="1425.81" y="404.34" width="32.11" height="22.01" fill="#f3ede6"/>
<rect x="1457.92" y="404.34" width="80.27" height="22.01" fill="#f2e5d4"/>
<rect x="1538.19" y="404.34" width="32.11" height="22.01" fill="#f0f2f0"/>
<rect x="1570.30" y="404.34" width="16.05" height="22.01" fill="#e7f1f2"/>
<rect x="1586.35" y="404.34" width="16.05" height="22.01" fill="#dcedf1"/>
<rect x="1602.41" y="404.34" width="64.22" height="22.01" fill="#c2e3ec"/>
<rect x="767.60" y="426.34" width="16.05" height="22.01" fill="#ab4a1c"/>
<rect x="783.65" y="426.34" width="112.38" height="22.01" fill="#8b1f19"/>
<rect x="896.03" y="426.34" width="16.05" height="22.01" fill="#e0b57f"/>
<rect x="912.09" y="426.34" width="16.05" height="22.01" fill="#d59c52"/>
<rect x="928.14" y="426.34" width="16.05" height="22.01" fill="#ab4a1c"/>
<rect x="944.19" y="426.34" width="80.27" height="22.01" fill="#8b1f19"/>
<rect x="1024.46" y="426.34" width="16.05" height="22.01" fill="#c2e3ec"/>
<rect x="1040.52" y="426.34" width="16.05" height="22.01" fill="#9dd1e1"/>
<rect x="1056.57" y="426.34" width="16.05" height="22.01" fill="#1a8cb5"/>
<rect x="1072.63" y="426.34" width="48.16" height="22.01" fill="#1c4585"/>
<rect x="1120.79" y="426.34" width="32.11" height="22.01" fill="#0b76a6"/>
<rect x="1152.90" y="426.34" width="16.05" height="22.01" fill="#dcedf1"/>
<rect x="1168.95" y="426.34" width="16.05" height="22.01" fill="#c2e3ec"/>
<rect x="1185.00" y="426.34" width="16.05" height="22.01" fill="#66b8d3"/>
<rect x="1201.06" y="426.34" width="16.05" height="22.01" fill="#0b76a6"/>
<rect x="1217.11" y="426.34" width="48.16" height="22.01" fill="#1c4585"/>
<rect x="1265.27" y="426.34" width="16.05" height="22.01" fill="#0b76a6"/>
<rect x="1281.33" y="426.34" width="32.11" height="22.01" fill="#f0f2f0"/>
<rect x="1313.44" y="426.34" width="16.05" height="22.01" fill="#f2e5d4"/>
<rect x="1329.49" y="426.34" width="32.11" height="22.01" fill="#ebd0ae"/>
<rect x="1361.60" y="426.34" width="16.05" height="22.01" fill="#d59c52"/>
<rect x="1377.65" y="426.34" width="16.05" height="22.01" fill="#e0b57f"/>
<rect x="1393.71" y="426.34" width="16.05" height="22.01" fill="#d59c52"/>
<rect x="1409.76" y="426.34" width="16.05" height="22.01" fill="#f0f2f0"/>
<rect x="1425.81" y="426.34" width="16.05" height="22.01" fill="#f3ede6"/>
<rect x="1441.87" y="426.34" width="48.16" height="22.01" fill="#ebd0ae"/>
<rect x="1490.03" y="426.34" width="16.05" height="22.01" fill="#e0b57f"/>
<rect x="1506.08" y="426.34" width="16.05" height="22.01" fill="#c9852f"/>
<rect x="1522.14" y="426.34" width="16.05" height="22.01" fill="#d59c52"/>
<rect x="1538.19" y="426.34" width="32.11" height="22.01" fill="#f0f2f0"/>
<rect x="1570.30" y="426.34" width="32.11" height="22.01" fill="#dcedf1"/>
<rect x="1602.41" y="426.34" width="16.05" height="22.01" fill="#f0f2f0"/>
<rect x="1618.46" y="426.34" width="16.05" height="22.01" fill="#dcedf1"/>
<rect x="1634.52" y="426.34" width="16.05" height="22.01" fill="#9dd1e1"/>
<rect x="1650.57" y="426.34" width="16.05" height="22.01" fill="#1a8cb5"/>
<rect x="767.60" y="448.35" width="128.43" height="22.01" fill="#8b1f19"/>
<rect x="896.03" y="448.35" width="16.05" height="22.01" fill="#e0b57f"/>
<rect x="912.09" y="448.35" width="96.32" height="22.01" fill="#d59c52"/>
<rect x="1008.41" y="448.35" width="16.05" height="22.01" fill="#c9852f"/>
<rect x="1024.46" y="448.35" width="16.05" height="22.01" fill="#3ca3c6"/>
<rect x="1040.52" y="448.35" width="112.38" height="22.01" fill="#1a8cb5"/>
<rect x="1152.90" y="448.35" width="64.22" height="22.01" fill="#66b8d3"/>
<rect x="1217.11" y="448.35" width="64.22" height="22.01" fill="#3ca3c6"/>
<rect x="1281.33" y="448.35" width="32.11" height="22.01" fill="#c2e3ec"/>
<rect x="1313.44" y="448.35" width="96.32" height="22.01" fill="#dcedf1"/>
<rect x="1409.76" y="448.35" width="112.38" height="22.01" fill="#9dd1e1"/>
<rect x="1522.14" y="448.35" width="16.05" height="22.01" fill="#c2e3ec"/>
<rect x="1538.19" y="448.35" width="64.22" height="22.01" fill="#e0b57f"/>
<rect x="1602.41" y="448.35" width="48.16" height="22.01" fill="#ebd0ae"/>
<rect x="1650.57" y="448.35" width="16.05" height="22.01" fill="#f2e5d4"/>
<rect x="767.60" y="470.36" width="128.43" height="22.01" fill="#8b1f19"/>
<rect x="896.03" y="470.36" width="80.27" height="22.01" fill="#ebd0ae"/>
<rect x="976.30" y="470.36" width="48.16" height="22.01" fill="#f2e5d4"/>
<rect x="1024.46" y="470.36" width="16.05" height="22.01" fill="#e7f1f2"/>
<rect x="1040.52" y="470.36" width="48.16" height="22.01" fill="#f0f2f0"/>
<rect x="1088.68" y="470.36" width="64.22" height="22.01" fill="#f3ede6"/>
<rect x="1152.90" y="470.36" width="32.11" height="22.01" fill="#f0f2f0"/>
<rect x="1185.00" y="470.36" width="32.11" height="22.01" fill="#e7f1f2"/>
<rect x="1217.11" y="470.36" width="64.22" height="22.01" fill="#dcedf1"/>
<rect x="1281.33" y="470.36" width="16.05" height="22.01" fill="#f3ede6"/>
<rect x="1297.38" y="470.36" width="48.16" height="22.01" fill="#f0f2f0"/>
<rect x="1345.54" y="470.36" width="48.16" height="22.01" fill="#f3ede6"/>
<rect x="1393.71" y="470.36" width="16.05" height="22.01" fill="#f2e5d4"/>
<rect x="1409.76" y="470.36" width="16.05" height="22.01" fill="#f0f2f0"/>
<rect x="1425.81" y="470.36" width="16.05" height="22.01" fill="#dcedf1"/>
<rect x="1441.87" y="470.36" width="32.11" height="22.01" fill="#c2e3ec"/>
<rect x="1473.98" y="470.36" width="64.22" height="22.01" fill="#9dd1e1"/>
<rect x="1538.19" y="470.36" width="32.11" height="22.01" fill="#d59c52"/>
<rect x="1570.30" y="470.36" width="96.32" height="22.01" fill="#c9852f"/>
<rect x="767.60" y="492.37" width="128.43" height="22.01" fill="#8b1f19"/>
<rect x="896.03" y="492.37" width="16.05" height="22.01" fill="#f2e5d4"/>
<rect x="912.09" y="492.37" width="112.38" height="22.01" fill="#f3ede6"/>
<rect x="1024.46" y="492.37" width="48.16" height="22.01" fill="#ebd0ae"/>
<rect x="1072.63" y="492.37" width="80.27" height="22.01" fill="#f2e5d4"/>
<rect x="1152.90" y="492.37" width="16.05" height="22.01" fill="#f0f2f0"/>
<rect x="1168.95" y="492.37" width="32.11" height="22.01" fill="#dcedf1"/>
<rect x="1201.06" y="492.37" width="16.05" height="22.01" fill="#e7f1f2"/>
<rect x="1217.11" y="492.37" width="64.22" height="22.01" fill="#f0f2f0"/>
<rect x="1281.33" y="492.37" width="16.05" height="22.01" fill="#9dd1e1"/>
<rect x="1297.38" y="492.37" width="112.38" height="22.01" fill="#c2e3ec"/>
<rect x="1409.76" y="492.37" width="128.43" height="22.01" fill="#dcedf1"/>
<rect x="1538.19" y="492.37" width="16.05" height="22.01" fill="#f2e5d4"/>
<rect x="1554.25" y="492.37" width="48.16" height="22.01" fill="#ebd0ae"/>
<rect x="1602.41" y="492.37" width="64.22" height="22.01" fill="#e0b57f"/>
<rect x="767.60" y="514.38" width="16.05" height="22.01" fill="#ab4a1c"/>
<rect x="783.65" y="514.38" width="112.38" height="22.01" fill="#8b1f19"/>
<rect x="896.03" y="514.38" width="32.11" height="22.01" fill="#f0f2f0"/>
<rect x="928.14" y="514.38" width="16.05" height="22.01" fill="#e7f1f2"/>
<rect x="944.19" y="514.38" width="32.11" height="22.01" fill="#dcedf1"/>
<rect x="976.30" y="514.38" width="16.05" height="22.01" fill="#c2e3ec"/>
<rect x="992.36" y="514.38" width="16.05" height="22.01" fill="#dcedf1"/>
<rect x="1008.41" y="514.38" width="16.05" height="22.01" fill="#c2e3ec"/>
<rect x="1024.46" y="514.38" width="16.05" height="22.01" fill="#f3ede6"/>
<rect x="1040.52" y="514.38" width="32.11" height="22.01" fill="#f2e5d4"/>
<rect x="1072.63" y="514.38" width="32.11" height="22.01" fill="#ebd0ae"/>
<rect x="1104.73" y="514.38" width="80.27" height="22.01" fill="#f2e5d4"/>
<rect x="1185.00" y="514.38" width="16.05" height="22.01" fill="#f0f2f0"/>
<rect x="1201.06" y="514.38" width="96.32" height="22.01" fill="#c2e3ec"/>
<rect x="1297.38" y="514.38" width="16.05" height="22.01" fill="#9dd1e1"/>
<rect x="1313.44" y="514.38" width="16.05" height="22.01" fill="#c2e3ec"/>
<rect x="1329.49" y="514.38" width="16.05" height="22.01" fill="#dcedf1"/>
<rect x="1345.54" y="514.38" width="16.05" height="22.01" fill="#e7f1f2"/>
<rect x="1361.60" y="514.38" width="48.16" height="22.01" fill="#f0f2f0"/>
<rect x="1409.76" y="514.38" width="32.11" height="22.01" fill="#f3ede6"/>
<rect x="1441.87" y="514.38" width="16.05" height="22.01" fill="#f0f2f0"/>
<rect x="1457.92" y="514.38" width="32.11" height="22.01" fill="#dcedf1"/>
<rect x="1490.03" y="514.38" width="32.11" height="22.01" fill="#c2e3ec"/>
<rect x="1522.14" y="514.38" width="16.05" height="22.01" fill="#9dd1e1"/>
<rect x="1538.19" y="514.38" width="16.05" height="22.01" fill="#f3ede6"/>
<rect x="1554.25" y="514.38" width="32.11" height="22.01" fill="#f2e5d4"/>
<rect x="1586.35" y="514.38" width="48.16" height="22.01" fill="#ebd0ae"/>
<rect x="1634.52" y="514.38" width="32.11" height="22.01" fill="#e0b57f"/>
<rect x="767.60" y="536.38" width="16.05" height="22.01" fill="#c9852f"/>
<rect x="783.65" y="536.38" width="16.05" height="22.01" fill="#ab4a1c"/>
<rect x="799.71" y="536.38" width="96.32" height="22.01" fill="#8b1f19"/>
<rect x="896.03" y="536.38" width="16.05" height="22.01" fill="#f2e5d4"/>
<rect x="912.09" y="536.38" width="16.05" height="22.01" fill="#ebd0ae"/>
<rect x="928.14" y="536.38" width="80.27" height="22.01" fill="#e0b57f"/>
<rect x="1008.41" y="536.38" width="16.05" height="22.01" fill="#ebd0ae"/>
<rect x="1024.46" y="536.38" width="16.05" height="22.01" fill="#f3ede6"/>
<rect x="1040.52" y="536.38" width="176.59" height="22.01" fill="#f2e5d4"/>
<rect x="1217.11" y="536.38" width="16.05" height="22.01" fill="#f3ede6"/>
<rect x="1233.17" y="536.38" width="16.05" height="22.01" fill="#f0f2f0"/>
<rect x="1249.22" y="536.38" width="16.05" height="22.01" fill="#dcedf1"/>
<rect x="1265.27" y="536.38" width="16.05" height="22.01" fill="#c2e3ec"/>
<rect x="1281.33" y="536.38" width="16.05" height="22.01" fill="#dcedf1"/>
<rect x="1297.38" y="536.38" width="16.05" height="22.01" fill="#c2e3ec"/>
<rect x="1313.44" y="536.38" width="32.11" height="22.01" fill="#9dd1e1"/>
<rect x="1345.54" y="536.38" width="16.05" height="22.01" fill="#c2e3ec"/>
<rect x="1361.60" y="536.38" width="16.05" height="22.01" fill="#dcedf1"/>
<rect x="1377.65" y="536.38" width="32.11" height="22.01" fill="#e7f1f2"/>
<rect x="1409.76" y="536.38" width="16.05" height="22.01" fill="#f3ede6"/>
<rect x="1425.81" y="536.38" width="80.27" height="22.01" fill="#f2e5d4"/>
<rect x="1506.08" y="536.38" width="64.22" height="22.01" fill="#f3ede6"/>
<rect x="1570.30" y="536.38" width="96.32" height="22.01" fill="#f2e5d4"/>
<rect x="767.60" y="558.39" width="128.43" height="22.01" fill="#8b1f19"/>
<rect x="896.03" y="558.39" width="16.05" height="22.01" fill="#ebd0ae"/>
<rect x="912.09" y="558.39" width="112.38" height="22.01" fill="#e0b57f"/>
<rect x="1024.46" y="558.39" width="32.11" height="22.01" fill="#f2e5d4"/>
<rect x="1056.57" y="558.39" width="96.32" height="22.01" fill="#f3ede6"/>
<rect x="1152.90" y="558.39" width="48.16" height="22.01" fill="#f2e5d4"/>
<rect x="1201.06" y="558.39" width="16.05" height="22.01" fill="#f3ede6"/>
<rect x="1217.11" y="558.39" width="32.11" height="22.01" fill="#f0f2f0"/>
<rect x="1249.22" y="558.39" width="32.11" height="22.01" fill="#e7f1f2"/>
<rect x="1281.33" y="558.39" width="16.05" height="22.01" fill="#f0f2f0"/>
<rect x="1297.38" y="558.39" width="32.11" height="22.01" fill="#f3ede6"/>
<rect x="1329.49" y="558.39" width="32.11" height="22.01" fill="#f2e5d4"/>
<rect x="1361.60" y="558.39" width="16.05" height="22.01" fill="#ebd0ae"/>
<rect x="1377.65" y="558.39" width="32.11" height="22.01" fill="#f2e5d4"/>
<rect x="1409.76" y="558.39" width="64.22" height="22.01" fill="#e7f1f2"/>
<rect x="1473.98" y="558.39" width="64.22" height="22.01" fill="#dcedf1"/>
<rect x="1538.19" y="558.39" width="32.11" height="22.01" fill="#e7f1f2"/>
<rect x="1570.30" y="558.39" width="32.11" height="22.01" fill="#f0f2f0"/>
<rect x="1602.41" y="558.39" width="16.05" height="22.01" fill="#f3ede6"/>
<rect x="1618.46" y="558.39" width="32.11" height="22.01" fill="#f0f2f0"/>
<rect x="1650.57" y="558.39" width="16.05" height="22.01" fill="#f3ede6"/>
<rect x="767.60" y="580.40" width="16.05" height="22.01" fill="#c9852f"/>
<rect x="783.65" y="580.40" width="112.38" height="22.01" fill="#8b1f19"/>
<rect x="896.03" y="580.40" width="16.05" height="22.01" fill="#f3ede6"/>
<rect x="912.09" y="580.40" width="16.05" height="22.01" fill="#e0b57f"/>
<rect x="928.14" y="580.40" width="96.32" height="22.01" fill="#d59c52"/>
<rect x="1024.46" y="580.40" width="16.05" height="22.01" fill="#f3ede6"/>
<rect x="1040.52" y="580.40" width="48.16" height="22.01" fill="#f2e5d4"/>
<rect x="1088.68" y="580.40" width="48.16" height="22.01" fill="#f3ede6"/>
<rect x="1136.84" y="580.40" width="16.05" height="22.01" fill="#f2e5d4"/>
<rect x="1152.90" y="580.40" width="16.05" height="22.01" fill="#e7f1f2"/>
<rect x="1168.95" y="580.40" width="48.16" height="22.01" fill="#f0f2f0"/>
<rect x="1217.11" y="580.40" width="16.05" height="22.01" fill="#e7f1f2"/>
<rect x="1233.17" y="580.40" width="16.05" height="22.01" fill="#f0f2f0"/>
<rect x="1249.22" y="580.40" width="16.05" height="22.01" fill="#e7f1f2"/>
<rect x="1265.27" y="580.40" width="16.05" height="22.01" fill="#dcedf1"/>
<rect x="1281.33" y="580.40" width="16.05" height="22.01" fill="#f0f2f0"/>
<rect x="1297.38" y="580.40" width="16.05" height="22.01" fill="#e7f1f2"/>
<rect x="1313.44" y="580.40" width="32.11" height="22.01" fill="#f0f2f0"/>
<rect x="1345.54" y="580.40" width="16.05" height="22.01" fill="#f3ede6"/>
<rect x="1361.60" y="580.40" width="32.11" height="22.01" fill="#f2e5d4"/>
<rect x="1393.71" y="580.40" width="16.05" height="22.01" fill="#ebd0ae"/>
<rect x="1409.76" y="580.40" width="96.32" height="22.01" fill="#f0f2f0"/>
<rect x="1506.08" y="580.40" width="32.11" height="22.01" fill="#e7f1f2"/>
<rect x="1538.19" y="580.40" width="32.11" height="22.01" fill="#f0f2f0"/>
<rect x="1570.30" y="580.40" width="16.05" height="22.01" fill="#f3ede6"/>
<rect x="1586.35" y="580.40" width="80.27" height="22.01" fill="#f2e5d4"/>
<rect x="767.60" y="602.41" width="16.05" height="22.01" fill="#ebd0ae"/>
<rect x="783.65" y="602.41" width="16.05" height="22.01" fill="#c9852f"/>
<rect x="799.71" y="602.41" width="16.05" height="22.01" fill="#ab4a1c"/>
<rect x="815.76" y="602.41" width="80.27" height="22.01" fill="#8b1f19"/>
<rect x="896.03" y="602.41" width="32.11" height="22.01" fill="#f0f2f0"/>
<rect x="928.14" y="602.41" width="48.16" height="22.01" fill="#f3ede6"/>
<rect x="976.30" y="602.41" width="48.16" height="22.01" fill="#f2e5d4"/>
<rect x="1024.46" y="602.41" width="16.05" height="22.01" fill="#e7f1f2"/>
<rect x="1040.52" y="602.41" width="32.11" height="22.01" fill="#dcedf1"/>
<rect x="1072.63" y="602.41" width="16.05" height="22.01" fill="#c2e3ec"/>
<rect x="1088.68" y="602.41" width="64.22" height="22.01" fill="#9dd1e1"/>
<rect x="1152.90" y="602.41" width="48.16" height="22.01" fill="#f3ede6"/>
<rect x="1201.06" y="602.41" width="16.05" height="22.01" fill="#f0f2f0"/>
<rect x="1217.11" y="602.41" width="16.05" height="22.01" fill="#9dd1e1"/>
<rect x="1233.17" y="602.41" width="16.05" height="22.01" fill="#66b8d3"/>
<rect x="1249.22" y="602.41" width="16.05" height="22.01" fill="#3ca3c6"/>
<rect x="1265.27" y="602.41" width="16.05" height="22.01" fill="#1a8cb5"/>
<rect x="1281.33" y="602.41" width="16.05" height="22.01" fill="#f3ede6"/>
<rect x="1297.38" y="602.41" width="32.11" height="22.01" fill="#f2e5d4"/>
<rect x="1329.49" y="602.41" width="16.05" height="22.01" fill="#ebd0ae"/>
<rect x="1345.54" y="602.41" width="48.16" height="22.01" fill="#e0b57f"/>
<rect x="1393.71" y="602.41" width="16.05" height="22.01" fill="#ebd0ae"/>
<rect x="1409.76" y="602.41" width="64.22" height="22.01" fill="#f0f2f0"/>
<rect x="1473.98" y="602.41" width="16.05" height="22.01" fill="#e7f1f2"/>
<rect x="1490.03" y="602.41" width="16.05" height="22.01" fill="#dcedf1"/>
<rect x="1506.08" y="602.41" width="32.11" height="22.01" fill="#c2e3ec"/>
<rect x="1538.19" y="602.41" width="32.11" height="22.01" fill="#f3ede6"/>
<rect x="1570.30" y="602.41" width="96.32" height="22.01" fill="#f2e5d4"/>
<rect x="767.60" y="624.42" width="16.05" height="22.01" fill="#ab4a1c"/>
<rect x="783.65" y="624.42" width="112.38" height="22.01" fill="#8b1f19"/>
<rect x="896.03" y="624.42" width="16.05" height="22.01" fill="#f2e5d4"/>
<rect x="912.09" y="624.42" width="16.05" height="22.01" fill="#e0b57f"/>
<rect x="928.14" y="624.42" width="16.05" height="22.01" fill="#ebd0ae"/>
<rect x="944.19" y="624.42" width="16.05" height="22.01" fill="#e0b57f"/>
<rect x="960.25" y="624.42" width="16.05" height="22.01" fill="#d59c52"/>
<rect x="976.30" y="624.42" width="16.05" height="22.01" fill="#c9852f"/>
<rect x="992.36" y="624.42" width="16.05" height="22.01" fill="#bc6623"/>
<rect x="1008.41" y="624.42" width="16.05" height="22.01" fill="#c9852f"/>
<rect x="1024.46" y="624.42" width="16.05" height="22.01" fill="#f0f2f0"/>
<rect x="1040.52" y="624.42" width="16.05" height="22.01" fill="#e7f1f2"/>
<rect x="1056.57" y="624.42" width="48.16" height="22.01" fill="#dcedf1"/>
<rect x="1104.73" y="624.42" width="16.05" height="22.01" fill="#e7f1f2"/>
<rect x="1120.79" y="624.42" width="32.11" height="22.01" fill="#dcedf1"/>
<rect x="1152.90" y="624.42" width="16.05" height="22.01" fill="#f3ede6"/>
<rect x="1168.95" y="624.42" width="16.05" height="22.01" fill="#f2e5d4"/>
<rect x="1185.00" y="624.42" width="32.11" height="22.01" fill="#f3ede6"/>
<rect x="1217.11" y="624.42" width="16.05" height="22.01" fill="#f0f2f0"/>
<rect x="1233.17" y="624.42" width="16.05" height="22.01" fill="#e7f1f2"/>
<rect x="1249.22" y="624.42" width="16.05" height="22.01" fill="#9dd1e1"/>
<rect x="1265.27" y="624.42" width="16.05" height="22.01" fill="#3ca3c6"/>
<rect x="1281.33" y="624.42" width="16.05" height="22.01" fill="#f3ede6"/>
<rect x="1297.38" y="624.42" width="64.22" height="22.01" fill="#f2e5d4"/>
<rect x="1361.60" y="624.42" width="16.05" height="22.01" fill="#ebd0ae"/>
<rect x="1377.65" y="624.42" width="16.05" height="22.01" fill="#e0b57f"/>
<rect x="1393.71" y="624.42" width="16.05" height="22.01" fill="#d59c52"/>
<rect x="1409.76" y="624.42" width="48.16" height="22.01" fill="#dcedf1"/>
<rect x="1457.92" y="624.42" width="32.11" height="22.01" fill="#c2e3ec"/>
<rect x="1490.03" y="624.42" width="16.05" height="22.01" fill="#dcedf1"/>
<rect x="1506.08" y="624.42" width="16.05" height="22.01" fill="#c2e3ec"/>
<rect x="1522.14" y="624.42" width="16.05" height="22.01" fill="#e7f1f2"/>
<rect x="1538.19" y="624.42" width="64.22" height="22.01" fill="#f0f2f0"/>
<rect x="1602.41" y="624.42" width="32.11" height="22.01" fill="#e7f1f2"/>
<rect x="1634.52" y="624.42" width="16.05" height="22.01" fill="#9dd1e1"/>
<rect x="1650.57" y="624.42" width="16.05" height="22.01" fill="#c2e3ec"/>
<rect x="767.60" y="646.42" width="32.11" height="22.01" fill="#c9852f"/>
<rect x="799.71" y="646.42" width="16.05" height="22.01" fill="#bc6623"/>
<rect x="815.76" y="646.42" width="16.05" height="22.01" fill="#ab4a1c"/>
<rect x="831.82" y="646.42" width="32.11" height="22.01" fill="#9a321a"/>
<rect x="863.92" y="646.42" width="32.11" height="22.01" fill="#8b1f19"/>
<rect x="896.03" y="646.42" width="32.11" height="22.01" fill="#ebd0ae"/>
<rect x="928.14" y="646.42" width="16.05" height="22.01" fill="#d59c52"/>
<rect x="944.19" y="646.42" width="32.11" height="22.01" fill="#c9852f"/>
<rect x="976.30" y="646.42" width="32.11" height="22.01" fill="#bc6623"/>
<rect x="1008.41" y="646.42" width="16.05" height="22.01" fill="#c9852f"/>
<rect x="1024.46" y="646.42" width="32.11" height="22.01" fill="#c2e3ec"/>
<rect x="1056.57" y="646.42" width="16.05" height="22.01" fill="#9dd1e1"/>
<rect x="1072.63" y="646.42" width="32.11" height="22.01" fill="#66b8d3"/>
<rect x="1104.73" y="646.42" width="16.05" height="22.01" fill="#1a8cb5"/>
<rect x="1120.79" y="646.42" width="32.11" height="22.01" fill="#66b8d3"/>
<rect x="1152.90" y="646.42" width="16.05" height="22.01" fill="#f2e5d4"/>
<rect x="1168.95" y="646.42" width="32.11" height="22.01" fill="#ebd0ae"/>
<rect x="1201.06" y="646.42" width="16.05" height="22.01" fill="#e0b57f"/>
<rect x="1217.11" y="646.42" width="32.11" height="22.01" fill="#f2e5d4"/>
<rect x="1249.22" y="646.42" width="16.05" height="22.01" fill="#ebd0ae"/>
<rect x="1265.27" y="646.42" width="16.05" height="22.01" fill="#f2e5d4"/>
<rect x="1281.33" y="646.42" width="32.11" height="22.01" fill="#f0f2f0"/>
<rect x="1313.44" y="646.42" width="32.11" height="22.01" fill="#f3ede6"/>
<rect x="1345.54" y="646.42" width="16.05" height="22.01" fill="#f0f2f0"/>
<rect x="1361.60" y="646.42" width="32.11" height="22.01" fill="#f2e5d4"/>
<rect x="1393.71" y="646.42" width="16.05" height="22.01" fill="#ebd0ae"/>
<rect x="1409.76" y="646.42" width="16.05" height="22.01" fill="#e7f1f2"/>
<rect x="1425.81" y="646.42" width="16.05" height="22.01" fill="#dcedf1"/>
<rect x="1441.87" y="646.42" width="16.05" height="22.01" fill="#e7f1f2"/>
<rect x="1457.92" y="646.42" width="16.05" height="22.01" fill="#dcedf1"/>
<rect x="1473.98" y="646.42" width="16.05" height="22.01" fill="#e7f1f2"/>
<rect x="1490.03" y="646.42" width="16.05" height="22.01" fill="#dcedf1"/>
<rect x="1506.08" y="646.42" width="16.05" height="22.01" fill="#e7f1f2"/>
<rect x="1522.14" y="646.42" width="16.05" height="22.01" fill="#66b8d3"/>
<rect x="1538.19" y="646.42" width="16.05" height="22.01" fill="#f2e5d4"/>
<rect x="1554.25" y="646.42" width="16.05" height="22.01" fill="#f0f2f0"/>
<rect x="1570.30" y="646.42" width="48.16" height="22.01" fill="#e7f1f2"/>
<rect x="1618.46" y="646.42" width="32.11" height="22.01" fill="#f0f2f0"/>
<rect x="1650.57" y="646.42" width="16.05" height="22.01" fill="#ebd0ae"/>
<rect x="767.60" y="668.43" width="16.05" height="22.01" fill="#c9852f"/>
<rect x="783.65" y="668.43" width="16.05" height="22.01" fill="#ab4a1c"/>
<rect x="799.71" y="668.43" width="16.05" height="22.01" fill="#9a321a"/>
<rect x="815.76" y="668.43" width="80.27" height="22.01" fill="#8b1f19"/>
<rect x="896.03" y="668.43" width="16.05" height="22.01" fill="#f2e5d4"/>
<rect x="912.09" y="668.43" width="32.11" height="22.01" fill="#d59c52"/>
<rect x="944.19" y="668.43" width="16.05" height="22.01" fill="#c9852f"/>
<rect x="960.25" y="668.43" width="64.22" height="22.01" fill="#bc6623"/>
<rect x="1024.46" y="668.43" width="32.11" height="22.01" fill="#f0f2f0"/>
<rect x="1056.57" y="668.43" width="80.27" height="22.01" fill="#e7f1f2"/>
<rect x="1136.84" y="668.43" width="16.05" height="22.01" fill="#f0f2f0"/>
<rect x="1152.90" y="668.43" width="16.05" height="22.01" fill="#ebd0ae"/>
<rect x="1168.95" y="668.43" width="112.38" height="22.01" fill="#e0b57f"/>
<rect x="1281.33" y="668.43" width="32.11" height="22.01" fill="#f0f2f0"/>
<rect x="1313.44" y="668.43" width="48.16" height="22.01" fill="#f3ede6"/>
<rect x="1361.60" y="668.43" width="80.27" height="22.01" fill="#f2e5d4"/>
<rect x="1441.87" y="668.43" width="16.05" height="22.01" fill="#f3ede6"/>
<rect x="1457.92" y="668.43" width="80.27" height="22.01" fill="#f0f2f0"/>
<rect x="1538.19" y="668.43" width="16.05" height="22.01" fill="#dcedf1"/>
<rect x="1554.25" y="668.43" width="32.11" height="22.01" fill="#e7f1f2"/>
<rect x="1586.35" y="668.43" width="80.27" height="22.01" fill="#f0f2f0"/>
<rect x="767.60" y="690.44" width="16.05" height="22.01" fill="#ab4a1c"/>
<rect x="783.65" y="690.44" width="112.38" height="22.01" fill="#8b1f19"/>
<rect x="896.03" y="690.44" width="16.05" height="22.01" fill="#f2e5d4"/>
<rect x="912.09" y="690.44" width="32.11" height="22.01" fill="#e0b57f"/>
<rect x="944.19" y="690.44" width="48.16" height="22.01" fill="#d59c52"/>
<rect x="992.36" y="690.44" width="32.11" height="22.01" fill="#c9852f"/>
<rect x="1024.46" y="690.44" width="32.11" height="22.01" fill="#f3ede6"/>
<rect x="1056.57" y="690.44" width="48.16" height="22.01" fill="#f0f2f0"/>
<rect x="1104.73" y="690.44" width="32.11" height="22.01" fill="#e7f1f2"/>
<rect x="1136.84" y="690.44" width="16.05" height="22.01" fill="#f0f2f0"/>
<rect x="1152.90" y="690.44" width="16.05" height="22.01" fill="#e0b57f"/>
<rect x="1168.95" y="690.44" width="112.38" height="22.01" fill="#d59c52"/>
<rect x="1281.33" y="690.44" width="48.16" height="22.01" fill="#e7f1f2"/>
<rect x="1329.49" y="690.44" width="64.22" height="22.01" fill="#f0f2f0"/>
<rect x="1393.71" y="690.44" width="16.05" height="22.01" fill="#f3ede6"/>
<rect x="1409.76" y="690.44" width="32.11" height="22.01" fill="#e7f1f2"/>
<rect x="1441.87" y="690.44" width="48.16" height="22.01" fill="#dcedf1"/>
<rect x="1490.03" y="690.44" width="16.05" height="22.01" fill="#c2e3ec"/>
<rect x="1506.08" y="690.44" width="16.05" height="22.01" fill="#dcedf1"/>
<rect x="1522.14" y="690.44" width="16.05" height="22.01" fill="#c2e3ec"/>
<rect x="1538.19" y="690.44" width="32.11" height="22.01" fill="#f3ede6"/>
<rect x="1570.30" y="690.44" width="32.11" height="22.01" fill="#f2e5d4"/>
<rect x="1602.41" y="690.44" width="16.05" height="22.01" fill="#f3ede6"/>
<rect x="1618.46" y="690.44" width="48.16" height="22.01" fill="#f2e5d4"/>
<rect x="767.60" y="712.45" width="16.05" height="22.01" fill="#c9852f"/>
<rect x="783.65" y="712.45" width="16.05" height="22.01" fill="#ab4a1c"/>
<rect x="799.71" y="712.45" width="96.32" height="22.01" fill="#8b1f19"/>
<rect x="896.03" y="712.45" width="16.05" height="22.01" fill="#f0f2f0"/>
<rect x="912.09" y="712.45" width="16.05" height="22.01" fill="#f2e5d4"/>
<rect x="928.14" y="712.45" width="16.05" height="22.01" fill="#ebd0ae"/>
<rect x="944.19" y="712.45" width="16.05" height="22.01" fill="#e0b57f"/>
<rect x="960.25" y="712.45" width="48.16" height="22.01" fill="#d59c52"/>
<rect x="1008.41" y="712.45" width="16.05" height="22.01" fill="#e0b57f"/>
<rect x="1024.46" y="712.45" width="32.11" height="22.01" fill="#f2e5d4"/>
<rect x="1056.57" y="712.45" width="112.38" height="22.01" fill="#f3ede6"/>
<rect x="1168.95" y="712.45" width="16.05" height="22.01" fill="#f2e5d4"/>
<rect x="1185.00" y="712.45" width="16.05" height="22.01" fill="#ebd0ae"/>
<rect x="1201.06" y="712.45" width="16.05" height="22.01" fill="#e0b57f"/>
<rect x="1217.11" y="712.45" width="64.22" height="22.01" fill="#d59c52"/>
<rect x="1281.33" y="712.45" width="128.43" height="22.01" fill="#dcedf1"/>
<rect x="1409.76" y="712.45" width="48.16" height="22.01" fill="#f2e5d4"/>
<rect x="1457.92" y="712.45" width="48.16" height="22.01" fill="#ebd0ae"/>
<rect x="1506.08" y="712.45" width="16.05" height="22.01" fill="#e0b57f"/>
<rect x="1522.14" y="712.45" width="16.05" height="22.01" fill="#ebd0ae"/>
<rect x="1538.19" y="712.45" width="16.05" height="22.01" fill="#f3ede6"/>
<rect x="1554.25" y="712.45" width="64.22" height="22.01" fill="#f2e5d4"/>
<rect x="1618.46" y="712.45" width="48.16" height="22.01" fill="#ebd0ae"/>
<rect x="767.60" y="734.46" width="16.05" height="22.01" fill="#d59c52"/>
<rect x="783.65" y="734.46" width="16.05" height="22.01" fill="#bc6623"/>
<rect x="799.71" y="734.46" width="96.32" height="22.01" fill="#8b1f19"/>
<rect x="896.03" y="734.46" width="16.05" height="22.01" fill="#ebd0ae"/>
<rect x="912.09" y="734.46" width="32.11" height="22.01" fill="#e0b57f"/>
<rect x="944.19" y="734.46" width="64.22" height="22.01" fill="#d59c52"/>
<rect x="1008.41" y="734.46" width="16.05" height="22.01" fill="#e0b57f"/>
<rect x="1024.46" y="734.46" width="32.11" height="22.01" fill="#f0f2f0"/>
<rect x="1056.57" y="734.46" width="16.05" height="22.01" fill="#f3ede6"/>
<rect x="1072.63" y="734.46" width="16.05" height="22.01" fill="#f0f2f0"/>
<rect x="1088.68" y="734.46" width="32.11" height="22.01" fill="#f3ede6"/>
<rect x="1120.79" y="734.46" width="32.11" height="22.01" fill="#f0f2f0"/>
<rect x="1152.90" y="734.46" width="16.05" height="22.01" fill="#e0b57f"/>
<rect x="1168.95" y="734.46" width="96.32" height="22.01" fill="#d59c52"/>
<rect x="1265.27" y="734.46" width="16.05" height="22.01" fill="#e0b57f"/>
<rect x="1281.33" y="734.46" width="32.11" height="22.01" fill="#c2e3ec"/>
<rect x="1313.44" y="734.46" width="48.16" height="22.01" fill="#9dd1e1"/>
<rect x="1361.60" y="734.46" width="48.16" height="22.01" fill="#66b8d3"/>
<rect x="1409.76" y="734.46" width="16.05" height="22.01" fill="#ebd0ae"/>
<rect x="1425.81" y="734.46" width="32.11" height="22.01" fill="#e0b57f"/>
<rect x="1457.92" y="734.46" width="80.27" height="22.01" fill="#d59c52"/>
<rect x="1538.19" y="734.46" width="32.11" height="22.01" fill="#e7f1f2"/>
<rect x="1570.30" y="734.46" width="48.16" height="22.01" fill="#f0f2f0"/>
<rect x="1618.46" y="734.46" width="48.16" height="22.01" fill="#f3ede6"/>
<rect x="767.60" y="756.46" width="16.05" height="22.01" fill="#f2e5d4"/>
<rect x="783.65" y="756.46" width="16.05" height="22.01" fill="#ebd0ae"/>
<rect x="799.71" y="756.46" width="16.05" height="22.01" fill="#e0b57f"/>
<rect x="815.76" y="756.46" width="16.05" height="22.01" fill="#c9852f"/>
<rect x="831.82" y="756.46" width="16.05" height="22.01" fill="#bc6623"/>
<rect x="847.87" y="756.46" width="48.16" height="22.01" fill="#8b1f19"/>
<rect x="896.03" y="756.46" width="16.05" height="22.01" fill="#f0f2f0"/>
<rect x="912.09" y="756.46" width="16.05" height="22.01" fill="#f3ede6"/>
<rect x="928.14" y="756.46" width="48.16" height="22.01" fill="#f2e5d4"/>
<rect x="976.30" y="756.46" width="16.05" height="22.01" fill="#ebd0ae"/>
<rect x="992.36" y="756.46" width="32.11" height="22.01" fill="#f2e5d4"/>
<rect x="1024.46" y="756.46" width="48.16" height="22.01" fill="#f0f2f0"/>
<rect x="1072.63" y="756.46" width="32.11" height="22.01" fill="#f3ede6"/>
<rect x="1104.73" y="756.46" width="16.05" height="22.01" fill="#f0f2f0"/>
<rect x="1120.79" y="756.46" width="48.16" height="22.01" fill="#f3ede6"/>
<rect x="1168.95" y="756.46" width="16.05" height="22.01" fill="#f2e5d4"/>
<rect x="1185.00" y="756.46" width="16.05" height="22.01" fill="#ebd0ae"/>
<rect x="1201.06" y="756.46" width="16.05" height="22.01" fill="#e0b57f"/>
<rect x="1217.11" y="756.46" width="16.05" height="22.01" fill="#d59c52"/>
<rect x="1233.17" y="756.46" width="32.11" height="22.01" fill="#c9852f"/>
<rect x="1265.27" y="756.46" width="16.05" height="22.01" fill="#d59c52"/>
<rect x="1281.33" y="756.46" width="16.05" height="22.01" fill="#f0f2f0"/>
<rect x="1297.38" y="756.46" width="32.11" height="22.01" fill="#e7f1f2"/>
<rect x="1329.49" y="756.46" width="32.11" height="22.01" fill="#dcedf1"/>
<rect x="1361.60" y="756.46" width="16.05" height="22.01" fill="#c2e3ec"/>
<rect x="1377.65" y="756.46" width="32.11" height="22.01" fill="#66b8d3"/>
<rect x="1409.76" y="756.46" width="32.11" height="22.01" fill="#f3ede6"/>
<rect x="1441.87" y="756.46" width="16.05" height="22.01" fill="#f2e5d4"/>
<rect x="1457.92" y="756.46" width="16.05" height="22.01" fill="#ebd0ae"/>
<rect x="1473.98" y="756.46" width="48.16" height="22.01" fill="#e0b57f"/>
<rect x="1522.14" y="756.46" width="16.05" height="22.01" fill="#d59c52"/>
<rect x="1538.19" y="756.46" width="80.27" height="22.01" fill="#e7f1f2"/>
<rect x="1618.46" y="756.46" width="16.05" height="22.01" fill="#dcedf1"/>
<rect x="1634.52" y="756.46" width="32.11" height="22.01" fill="#f0f2f0"/>
<rect x="767.60" y="778.47" width="16.05" height="22.01" fill="#f2e5d4"/>
<rect x="783.65" y="778.47" width="16.05" height="22.01" fill="#ebd0ae"/>
<rect x="799.71" y="778.47" width="16.05" height="22.01" fill="#d59c52"/>
<rect x="815.76" y="778.47" width="16.05" height="22.01" fill="#ab4a1c"/>
<rect x="831.82" y="778.47" width="64.22" height="22.01" fill="#8b1f19"/>
<rect x="896.03" y="778.47" width="48.16" height="22.01" fill="#f0f2f0"/>
<rect x="944.19" y="778.47" width="48.16" height="22.01" fill="#e7f1f2"/>
<rect x="992.36" y="778.47" width="32.11" height="22.01" fill="#f0f2f0"/>
<rect x="1024.46" y="778.47" width="16.05" height="22.01" fill="#e7f1f2"/>
<rect x="1040.52" y="778.47" width="16.05" height="22.01" fill="#dcedf1"/>
<rect x="1056.57" y="778.47" width="16.05" height="22.01" fill="#c2e3ec"/>
<rect x="1072.63" y="778.47" width="16.05" height="22.01" fill="#9dd1e1"/>
<rect x="1088.68" y="778.47" width="16.05" height="22.01" fill="#3ca3c6"/>
<rect x="1104.73" y="778.47" width="48.16" height="22.01" fill="#1a8cb5"/>
<rect x="1152.90" y="778.47" width="16.05" height="22.01" fill="#f3ede6"/>
<rect x="1168.95" y="778.47" width="16.05" height="22.01" fill="#f2e5d4"/>
<rect x="1185.00" y="778.47" width="32.11" height="22.01" fill="#ebd0ae"/>
<rect x="1217.11" y="778.47" width="32.11" height="22.01" fill="#e0b57f"/>
<rect x="1249.22" y="778.47" width="32.11" height="22.01" fill="#ebd0ae"/>
<rect x="1281.33" y="778.47" width="48.16" height="22.01" fill="#f0f2f0"/>
<rect x="1329.49" y="778.47" width="16.05" height="22.01" fill="#e7f1f2"/>
<rect x="1345.54" y="778.47" width="16.05" height="22.01" fill="#dcedf1"/>
<rect x="1361.60" y="778.47" width="32.11" height="22.01" fill="#e7f1f2"/>
<rect x="1393.71" y="778.47" width="16.05" height="22.01" fill="#dcedf1"/>
<rect x="1409.76" y="778.47" width="16.05" height="22.01" fill="#f0f2f0"/>
<rect x="1425.81" y="778.47" width="32.11" height="22.01" fill="#f3ede6"/>
<rect x="1457.92" y="778.47" width="32.11" height="22.01" fill="#f2e5d4"/>
<rect x="1490.03" y="778.47" width="48.16" height="22.01" fill="#ebd0ae"/>
<rect x="1538.19" y="778.47" width="32.11" height="22.01" fill="#f0f2f0"/>
<rect x="1570.30" y="778.47" width="32.11" height="22.01" fill="#f3ede6"/>
<rect x="1602.41" y="778.47" width="64.22" height="22.01" fill="#f2e5d4"/>
<rect x="767.60" y="800.48" width="16.05" height="22.01" fill="#f2e5d4"/>
<rect x="783.65" y="800.48" width="16.05" height="22.01" fill="#e0b57f"/>
<rect x="799.71" y="800.48" width="16.05" height="22.01" fill="#c9852f"/>
<rect x="815.76" y="800.48" width="16.05" height="22.01" fill="#9a321a"/>
<rect x="831.82" y="800.48" width="64.22" height="22.01" fill="#8b1f19"/>
<rect x="896.03" y="800.48" width="16.05" height="22.01" fill="#f0f2f0"/>
<rect x="912.09" y="800.48" width="32.11" height="22.01" fill="#f3ede6"/>
<rect x="944.19" y="800.48" width="64.22" height="22.01" fill="#f0f2f0"/>
<rect x="1008.41" y="800.48" width="16.05" height="22.01" fill="#f3ede6"/>
<rect x="1024.46" y="800.48" width="32.11" height="22.01" fill="#f0f2f0"/>
<rect x="1056.57" y="800.48" width="16.05" height="22.01" fill="#e7f1f2"/>
<rect x="1072.63" y="800.48" width="16.05" height="22.01" fill="#dcedf1"/>
<rect x="1088.68" y="800.48" width="32.11" height="22.01" fill="#c2e3ec"/>
<rect x="1120.79" y="800.48" width="16.05" height="22.01" fill="#9dd1e1"/>
<rect x="1136.84" y="800.48" width="16.05" height="22.01" fill="#c2e3ec"/>
<rect x="1152.90" y="800.48" width="48.16" height="22.01" fill="#f0f2f0"/>
<rect x="1201.06" y="800.48" width="16.05" height="22.01" fill="#f3ede6"/>
<rect x="1217.11" y="800.48" width="16.05" height="22.01" fill="#f0f2f0"/>
<rect x="1233.17" y="800.48" width="16.05" height="22.01" fill="#c2e3ec"/>
<rect x="1249.22" y="800.48" width="16.05" height="22.01" fill="#dcedf1"/>
<rect x="1265.27" y="800.48" width="80.27" height="22.01" fill="#f0f2f0"/>
<rect x="1345.54" y="800.48" width="16.05" height="22.01" fill="#f2e5d4"/>
<rect x="1361.60" y="800.48" width="16.05" height="22.01" fill="#f3ede6"/>
<rect x="1377.65" y="800.48" width="16.05" height="22.01" fill="#f2e5d4"/>
<rect x="1393.71" y="800.48" width="16.05" height="22.01" fill="#ebd0ae"/>
<rect x="1409.76" y="800.48" width="64.22" height="22.01" fill="#f3ede6"/>
<rect x="1473.98" y="800.48" width="48.16" height="22.01" fill="#f0f2f0"/>
<rect x="1522.14" y="800.48" width="16.05" height="22.01" fill="#9dd1e1"/>
<rect x="1538.19" y="800.48" width="64.22" height="22.01" fill="#f0f2f0"/>
<rect x="1602.41" y="800.48" width="16.05" height="22.01" fill="#f3ede6"/>
<rect x="1618.46" y="800.48" width="16.05" height="22.01" fill="#f0f2f0"/>
<rect x="1634.52" y="800.48" width="16.05" height="22.01" fill="#f2e5d4"/>
<rect x="1650.57" y="800.48" width="16.05" height="22.01" fill="#f0f2f0"/>
<rect x="767.60" y="822.49" width="16.05" height="22.01" fill="#f2e5d4"/>
<rect x="783.65" y="822.49" width="16.05" height="22.01" fill="#e0b57f"/>
<rect x="799.71" y="822.49" width="16.05" height="22.01" fill="#9a321a"/>
<rect x="815.76" y="822.49" width="80.27" height="22.01" fill="#8b1f19"/>
<rect x="896.03" y="822.49" width="112.38" height="22.01" fill="#f0f2f0"/>
<rect x="1008.41" y="822.49" width="16.05" height="22.01" fill="#e7f1f2"/>
<rect x="1024.46" y="822.49" width="144.49" height="22.01" fill="#f0f2f0"/>
<rect x="1168.95" y="822.49" width="16.05" height="22.01" fill="#f3ede6"/>
<rect x="1185.00" y="822.49" width="16.05" height="22.01" fill="#f2e5d4"/>
<rect x="1201.06" y="822.49" width="16.05" height="22.01" fill="#ebd0ae"/>
<rect x="1217.11" y="822.49" width="48.16" height="22.01" fill="#f2e5d4"/>
<rect x="1265.27" y="822.49" width="16.05" height="22.01" fill="#f3ede6"/>
<rect x="1281.33" y="822.49" width="16.05" height="22.01" fill="#f0f2f0"/>
<rect x="1297.38" y="822.49" width="16.05" height="22.01" fill="#e7f1f2"/>
<rect x="1313.44" y="822.49" width="48.16" height="22.01" fill="#c2e3ec"/>
<rect x="1361.60" y="822.49" width="48.16" height="22.01" fill="#dcedf1"/>
<rect x="1409.76" y="822.49" width="64.22" height="22.01" fill="#f0f2f0"/>
<rect x="1473.98" y="822.49" width="48.16" height="22.01" fill="#dcedf1"/>
<rect x="1522.14" y="822.49" width="16.05" height="22.01" fill="#c2e3ec"/>
<rect x="1538.19" y="822.49" width="16.05" height="22.01" fill="#f0f2f0"/>
<rect x="1554.25" y="822.49" width="16.05" height="22.01" fill="#f3ede6"/>
<rect x="1570.30" y="822.49" width="80.27" height="22.01" fill="#f2e5d4"/>
<rect x="1650.57" y="822.49" width="16.05" height="22.01" fill="#ebd0ae"/>
<rect x="767.60" y="844.50" width="16.05" height="22.01" fill="#f2e5d4"/>
<rect x="783.65" y="844.50" width="16.05" height="22.01" fill="#d59c52"/>
<rect x="799.71" y="844.50" width="16.05" height="22.01" fill="#ab4a1c"/>
<rect x="815.76" y="844.50" width="80.27" height="22.01" fill="#8b1f19"/>
<rect x="896.03" y="844.50" width="32.11" height="22.01" fill="#f0f2f0"/>
<rect x="928.14" y="844.50" width="16.05" height="22.01" fill="#f2e5d4"/>
<rect x="944.19" y="844.50" width="16.05" height="22.01" fill="#ebd0ae"/>
<rect x="960.25" y="844.50" width="32.11" height="22.01" fill="#e0b57f"/>
<rect x="992.36" y="844.50" width="16.05" height="22.01" fill="#ebd0ae"/>
<rect x="1008.41" y="844.50" width="16.05" height="22.01" fill="#e0b57f"/>
<rect x="1024.46" y="844.50" width="16.05" height="22.01" fill="#f3ede6"/>
<rect x="1040.52" y="844.50" width="112.38" height="22.01" fill="#f2e5d4"/>
<rect x="1152.90" y="844.50" width="32.11" height="22.01" fill="#f0f2f0"/>
<rect x="1185.00" y="844.50" width="16.05" height="22.01" fill="#f3ede6"/>
<rect x="1201.06" y="844.50" width="48.16" height="22.01" fill="#ebd0ae"/>
<rect x="1249.22" y="844.50" width="32.11" height="22.01" fill="#f2e5d4"/>
<rect x="1281.33" y="844.50" width="16.05" height="22.01" fill="#e7f1f2"/>
<rect x="1297.38" y="844.50" width="32.11" height="22.01" fill="#dcedf1"/>
<rect x="1329.49" y="844.50" width="80.27" height="22.01" fill="#c2e3ec"/>
<rect x="1409.76" y="844.50" width="32.11" height="22.01" fill="#f0f2f0"/>
<rect x="1441.87" y="844.50" width="48.16" height="22.01" fill="#f3ede6"/>
<rect x="1490.03" y="844.50" width="32.11" height="22.01" fill="#f0f2f0"/>
<rect x="1522.14" y="844.50" width="16.05" height="22.01" fill="#e7f1f2"/>
<rect x="1538.19" y="844.50" width="16.05" height="22.01" fill="#f0f2f0"/>
<rect x="1554.25" y="844.50" width="32.11" height="22.01" fill="#f3ede6"/>
<rect x="1586.35" y="844.50" width="48.16" height="22.01" fill="#f2e5d4"/>
<rect x="1634.52" y="844.50" width="32.11" height="22.01" fill="#ebd0ae"/>
<rect x="767.60" y="866.50" width="16.05" height="22.01" fill="#f2e5d4"/>
<rect x="783.65" y="866.50" width="16.05" height="22.01" fill="#d59c52"/>
<rect x="799.71" y="866.50" width="16.05" height="22.01" fill="#bc6623"/>
<rect x="815.76" y="866.50" width="80.27" height="22.01" fill="#8b1f19"/>
<rect x="896.03" y="866.50" width="32.11" height="22.01" fill="#f0f2f0"/>
<rect x="928.14" y="866.50" width="16.05" height="22.01" fill="#f3ede6"/>
<rect x="944.19" y="866.50" width="16.05" height="22.01" fill="#f2e5d4"/>
<rect x="960.25" y="866.50" width="16.05" height="22.01" fill="#ebd0ae"/>
<rect x="976.30" y="866.50" width="16.05" height="22.01" fill="#e0b57f"/>
<rect x="992.36" y="866.50" width="16.05" height="22.01" fill="#f2e5d4"/>
<rect x="1008.41" y="866.50" width="16.05" height="22.01" fill="#e0b57f"/>
<rect x="1024.46" y="866.50" width="32.11" height="22.01" fill="#f3ede6"/>
<rect x="1056.57" y="866.50" width="32.11" height="22.01" fill="#f2e5d4"/>
<rect x="1088.68" y="866.50" width="32.11" height="22.01" fill="#ebd0ae"/>
<rect x="1120.79" y="866.50" width="16.05" height="22.01" fill="#d59c52"/>
<rect x="1136.84" y="866.50" width="16.05" height="22.01" fill="#c9852f"/>
<rect x="1152.90" y="866.50" width="16.05" height="22.01" fill="#f0f2f0"/>
<rect x="1168.95" y="866.50" width="16.05" height="22.01" fill="#e7f1f2"/>
<rect x="1185.00" y="866.50" width="32.11" height="22.01" fill="#dcedf1"/>
<rect x="1217.11" y="866.50" width="16.05" height="22.01" fill="#c2e3ec"/>
<rect x="1233.17" y="866.50" width="16.05" height="22.01" fill="#dcedf1"/>
<rect x="1249.22" y="866.50" width="96.32" height="22.01" fill="#f0f2f0"/>
<rect x="1345.54" y="866.50" width="16.05" height="22.01" fill="#f3ede6"/>
<rect x="1361.60" y="866.50" width="16.05" height="22.01" fill="#ebd0ae"/>
<rect x="1377.65" y="866.50" width="16.05" height="22.01" fill="#f2e5d4"/>
<rect x="1393.71" y="866.50" width="16.05" height="22.01" fill="#e0b57f"/>
<rect x="1409.76" y="866.50" width="80.27" height="22.01" fill="#f0f2f0"/>
<rect x="1490.03" y="866.50" width="16.05" height="22.01" fill="#f2e5d4"/>
<rect x="1506.08" y="866.50" width="16.05" height="22.01" fill="#d59c52"/>
<rect x="1522.14" y="866.50" width="16.05" height="22.01" fill="#ebd0ae"/>
<rect x="1538.19" y="866.50" width="48.16" height="22.01" fill="#f3ede6"/>
<rect x="1586.35" y="866.50" width="16.05" height="22.01" fill="#f2e5d4"/>
<rect x="1602.41" y="866.50" width="32.11" height="22.01" fill="#e0b57f"/>
<rect x="1634.52" y="866.50" width="16.05" height="22.01" fill="#f2e5d4"/>
<rect x="1650.57" y="866.50" width="16.05" height="22.01" fill="#f0f2f0"/>
<rect x="767.60" y="888.51" width="16.05" height="22.01" fill="#bc6623"/>
<rect x="783.65" y="888.51" width="16.05" height="22.01" fill="#ab4a1c"/>
<rect x="799.71" y="888.51" width="96.32" height="22.01" fill="#8b1f19"/>
<rect x="896.03" y="888.51" width="16.05" height="22.01" fill="#f0f2f0"/>
<rect x="912.09" y="888.51" width="64.22" height="22.01" fill="#e7f1f2"/>
<rect x="976.30" y="888.51" width="32.11" height="22.01" fill="#dcedf1"/>
<rect x="1008.41" y="888.51" width="16.05" height="22.01" fill="#e7f1f2"/>
<rect x="1024.46" y="888.51" width="32.11" height="22.01" fill="#f3ede6"/>
<rect x="1056.57" y="888.51" width="32.11" height="22.01" fill="#f2e5d4"/>
<rect x="1088.68" y="888.51" width="16.05" height="22.01" fill="#f3ede6"/>
<rect x="1104.73" y="888.51" width="64.22" height="22.01" fill="#f2e5d4"/>
<rect x="1168.95" y="888.51" width="32.11" height="22.01" fill="#ebd0ae"/>
<rect x="1201.06" y="888.51" width="16.05" height="22.01" fill="#f2e5d4"/>
<rect x="1217.11" y="888.51" width="32.11" height="22.01" fill="#f3ede6"/>
<rect x="1249.22" y="888.51" width="64.22" height="22.01" fill="#f0f2f0"/>
<rect x="1313.44" y="888.51" width="32.11" height="22.01" fill="#e7f1f2"/>
<rect x="1345.54" y="888.51" width="64.22" height="22.01" fill="#f0f2f0"/>
<rect x="1409.76" y="888.51" width="64.22" height="22.01" fill="#f2e5d4"/>
<rect x="1473.98" y="888.51" width="48.16" height="22.01" fill="#f3ede6"/>
<rect x="1522.14" y="888.51" width="96.32" height="22.01" fill="#f0f2f0"/>
<rect x="1618.46" y="888.51" width="48.16" height="22.01" fill="#f3ede6"/>
<rect x="767.60" y="910.52" width="128.43" height="22.01" fill="#8b1f19"/>
<rect x="896.03" y="910.52" width="48.16" height="22.01" fill="#c2e3ec"/>
<rect x="944.19" y="910.52" width="80.27" height="22.01" fill="#9dd1e1"/>
<rect x="1024.46" y="910.52" width="160.54" height="22.01" fill="#f2e5d4"/>
<rect x="1185.00" y="910.52" width="16.05" height="22.01" fill="#f3ede6"/>
<rect x="1201.06" y="910.52" width="16.05" height="22.01" fill="#f0f2f0"/>
<rect x="1217.11" y="910.52" width="64.22" height="22.01" fill="#dcedf1"/>
<rect x="1281.33" y="910.52" width="112.38" height="22.01" fill="#c2e3ec"/>
<rect x="1393.71" y="910.52" width="16.05" height="22.01" fill="#dcedf1"/>
<rect x="1409.76" y="910.52" width="64.22" height="22.01" fill="#f3ede6"/>
<rect x="1473.98" y="910.52" width="32.11" height="22.01" fill="#f0f2f0"/>
<rect x="1506.08" y="910.52" width="32.11" height="22.01" fill="#e7f1f2"/>
<rect x="1538.19" y="910.52" width="16.05" height="22.01" fill="#f3ede6"/>
<rect x="1554.25" y="910.52" width="32.11" height="22.01" fill="#f0f2f0"/>
<rect x="1586.35" y="910.52" width="48.16" height="22.01" fill="#f3ede6"/>
<rect x="1634.52" y="910.52" width="16.05" height="22.01" fill="#f2e5d4"/>
<rect x="1650.57" y="910.52" width="16.05" height="22.01" fill="#f3ede6"/>
<rect x="767.60" y="932.53" width="16.05" height="22.01" fill="#d59c52"/>
<rect x="783.65" y="932.53" width="16.05" height="22.01" fill="#bc6623"/>
<rect x="799.71" y="932.53" width="16.05" height="22.01" fill="#9a321a"/>
<rect x="815.76" y="932.53" width="80.27" height="22.01" fill="#8b1f19"/>
<rect x="896.03" y="932.53" width="48.16" height="22.01" fill="#f0f2f0"/>
<rect x="944.19" y="932.53" width="16.05" height="22.01" fill="#e7f1f2"/>
<rect x="960.25" y="932.53" width="16.05" height="22.01" fill="#dcedf1"/>
<rect x="976.30" y="932.53" width="48.16" height="22.01" fill="#e7f1f2"/>
<rect x="1024.46" y="932.53" width="32.11" height="22.01" fill="#f2e5d4"/>
<rect x="1056.57" y="932.53" width="16.05" height="22.01" fill="#f3ede6"/>
<rect x="1072.63" y="932.53" width="32.11" height="22.01" fill="#f0f2f0"/>
<rect x="1104.73" y="932.53" width="32.11" height="22.01" fill="#e7f1f2"/>
<rect x="1136.84" y="932.53" width="16.05" height="22.01" fill="#dcedf1"/>
<rect x="1152.90" y="932.53" width="32.11" height="22.01" fill="#f2e5d4"/>
<rect x="1185.00" y="932.53" width="32.11" height="22.01" fill="#ebd0ae"/>
<rect x="1217.11" y="932.53" width="16.05" height="22.01" fill="#f2e5d4"/>
<rect x="1233.17" y="932.53" width="48.16" height="22.01" fill="#f0f2f0"/>
<rect x="1281.33" y="932.53" width="32.11" height="22.01" fill="#c2e3ec"/>
<rect x="1313.44" y="932.53" width="96.32" height="22.01" fill="#9dd1e1"/>
<rect x="1409.76" y="932.53" width="96.32" height="22.01" fill="#f2e5d4"/>
<rect x="1506.08" y="932.53" width="16.05" height="22.01" fill="#f3ede6"/>
<rect x="1522.14" y="932.53" width="16.05" height="22.01" fill="#f2e5d4"/>
<rect x="1538.19" y="932.53" width="16.05" height="22.01" fill="#f0f2f0"/>
<rect x="1554.25" y="932.53" width="64.22" height="22.01" fill="#e7f1f2"/>
<rect x="1618.46" y="932.53" width="32.11" height="22.01" fill="#f0f2f0"/>
<rect x="1650.57" y="932.53" width="16.05" height="22.01" fill="#f3ede6"/>
<rect x="767.60" y="954.54" width="16.05" height="22.01" fill="#d59c52"/>
<rect x="783.65" y="954.54" width="16.05" height="22.01" fill="#bc6623"/>
<rect x="799.71" y="954.54" width="96.32" height="22.01" fill="#8b1f19"/>
<rect x="896.03" y="954.54" width="32.11" height="22.01" fill="#f3ede6"/>
<rect x="928.14" y="954.54" width="16.05" height="22.01" fill="#f0f2f0"/>
<rect x="944.19" y="954.54" width="16.05" height="22.01" fill="#e7f1f2"/>
<rect x="960.25" y="954.54" width="16.05" height="22.01" fill="#dcedf1"/>
<rect x="976.30" y="954.54" width="32.11" height="22.01" fill="#c2e3ec"/>
<rect x="1008.41" y="954.54" width="16.05" height="22.01" fill="#9dd1e1"/>
<rect x="1024.46" y="954.54" width="16.05" height="22.01" fill="#f2e5d4"/>
<rect x="1040.52" y="954.54" width="48.16" height="22.01" fill="#ebd0ae"/>
<rect x="1088.68" y="954.54" width="112.38" height="22.01" fill="#e0b57f"/>
<rect x="1201.06" y="954.54" width="16.05" height="22.01" fill="#ebd0ae"/>
<rect x="1217.11" y="954.54" width="16.05" height="22.01" fill="#f0f2f0"/>
<rect x="1233.17" y="954.54" width="16.05" height="22.01" fill="#dcedf1"/>
<rect x="1249.22" y="954.54" width="16.05" height="22.01" fill="#c2e3ec"/>
<rect x="1265.27" y="954.54" width="96.32" height="22.01" fill="#9dd1e1"/>
<rect x="1361.60" y="954.54" width="16.05" height="22.01" fill="#c2e3ec"/>
<rect x="1377.65" y="954.54" width="32.11" height="22.01" fill="#dcedf1"/>
<rect x="1409.76" y="954.54" width="32.11" height="22.01" fill="#e0b57f"/>
<rect x="1441.87" y="954.54" width="32.11" height="22.01" fill="#d59c52"/>
<rect x="1473.98" y="954.54" width="64.22" height="22.01" fill="#e0b57f"/>
<rect x="1538.19" y="954.54" width="96.32" height="22.01" fill="#c2e3ec"/>
<rect x="1634.52" y="954.54" width="32.11" height="22.01" fill="#dcedf1"/>
<rect x="767.60" y="976.54" width="16.05" height="22.01" fill="#ab4a1c"/>
<rect x="783.65" y="976.54" width="112.38" height="22.01" fill="#8b1f19"/>
<rect x="896.03" y="976.54" width="48.16" height="22.01" fill="#f0f2f0"/>
<rect x="944.19" y="976.54" width="16.05" height="22.01" fill="#e7f1f2"/>
<rect x="960.25" y="976.54" width="64.22" height="22.01" fill="#dcedf1"/>
<rect x="1024.46" y="976.54" width="80.27" height="22.01" fill="#f0f2f0"/>
<rect x="1104.73" y="976.54" width="16.05" height="22.01" fill="#f3ede6"/>
<rect x="1120.79" y="976.54" width="16.05" height="22.01" fill="#f2e5d4"/>
<rect x="1136.84" y="976.54" width="16.05" height="22.01" fill="#ebd0ae"/>
<rect x="1152.90" y="976.54" width="32.11" height="22.01" fill="#f0f2f0"/>
<rect x="1185.00" y="976.54" width="16.05" height="22.01" fill="#e7f1f2"/>
<rect x="1201.06" y="976.54" width="16.05" height="22.01" fill="#c2e3ec"/>
<rect x="1217.11" y="976.54" width="48.16" height="22.01" fill="#66b8d3"/>
<rect x="1265.27" y="976.54" width="16.05" height="22.01" fill="#3ca3c6"/>
<rect x="1281.33" y="976.54" width="16.05" height="22.01" fill="#dcedf1"/>
<rect x="1297.38" y="976.54" width="48.16" height="22.01" fill="#e7f1f2"/>
<rect x="1345.54" y="976.54" width="16.05" height="22.01" fill="#f0f2f0"/>
<rect x="1361.60" y="976.54" width="16.05" height="22.01" fill="#f3ede6"/>
<rect x="1377.65" y="976.54" width="48.16" height="22.01" fill="#f2e5d4"/>
<rect x="1425.81" y="976.54" width="64.22" height="22.01" fill="#ebd0ae"/>
<rect x="1490.03" y="976.54" width="32.11" height="22.01" fill="#f2e5d4"/>
<rect x="1522.14" y="976.54" width="16.05" height="22.01" fill="#f3ede6"/>
<rect x="1538.19" y="976.54" width="16.05" height="22.01" fill="#9dd1e1"/>
<rect x="1554.25" y="976.54" width="16.05" height="22.01" fill="#c2e3ec"/>
<rect x="1570.30" y="976.54" width="64.22" height="22.01" fill="#9dd1e1"/>
<rect x="1634.52" y="976.54" width="16.05" height="22.01" fill="#c2e3ec"/>
<rect x="1650.57" y="976.54" width="16.05" height="22.01" fill="#9dd1e1"/>
<rect x="767.60" y="998.55" width="16.05" height="22.01" fill="#bc6623"/>
<rect x="783.65" y="998.55" width="112.38" height="22.01" fill="#8b1f19"/>
<rect x="896.03" y="998.55" width="32.11" height="22.01" fill="#c2e3ec"/>
<rect x="928.14" y="998.55" width="32.11" height="22.01" fill="#66b8d3"/>
<rect x="960.25" y="998.55" width="16.05" height="22.01" fill="#3ca3c6"/>
<rect x="976.30" y="998.55" width="32.11" height="22.01" fill="#1a8cb5"/>
<rect x="1008.41" y="998.55" width="16.05" height="22.01" fill="#3ca3c6"/>
<rect x="1024.46" y="998.55" width="16.05" height="22.01" fill="#f0f2f0"/>
<rect x="1040.52" y="998.55" width="16.05" height="22.01" fill="#f2e5d4"/>
<rect x="1056.57" y="998.55" width="32.11" height="22.01" fill="#ebd0ae"/>
<rect x="1088.68" y="998.55" width="48.16" height="22.01" fill="#e0b57f"/>
<rect x="1136.84" y="998.55" width="16.05" height="22.01" fill="#ebd0ae"/>
<rect x="1152.90" y="998.55" width="32.11" height="22.01" fill="#f3ede6"/>
<rect x="1185.00" y="998.55" width="16.05" height="22.01" fill="#f0f2f0"/>
<rect x="1201.06" y="998.55" width="16.05" height="22.01" fill="#c2e3ec"/>
<rect x="1217.11" y="998.55" width="32.11" height="22.01" fill="#66b8d3"/>
<rect x="1249.22" y="998.55" width="32.11" height="22.01" fill="#3ca3c6"/>
<rect x="1281.33" y="998.55" width="16.05" height="22.01" fill="#dcedf1"/>
<rect x="1297.38" y="998.55" width="32.11" height="22.01" fill="#c2e3ec"/>
<rect x="1329.49" y="998.55" width="16.05" height="22.01" fill="#dcedf1"/>
<rect x="1345.54" y="998.55" width="16.05" height="22.01" fill="#e7f1f2"/>
<rect x="1361.60" y="998.55" width="48.16" height="22.01" fill="#f0f2f0"/>
<rect x="1409.76" y="998.55" width="48.16" height="22.01" fill="#ebd0ae"/>
<rect x="1457.92" y="998.55" width="32.11" height="22.01" fill="#f2e5d4"/>
<rect x="1490.03" y="998.55" width="16.05" height="22.01" fill="#f3ede6"/>
<rect x="1506.08" y="998.55" width="16.05" height="22.01" fill="#f0f2f0"/>
<rect x="1522.14" y="998.55" width="16.05" height="22.01" fill="#f3ede6"/>
<rect x="1538.19" y="998.55" width="16.05" height="22.01" fill="#dcedf1"/>
<rect x="1554.25" y="998.55" width="32.11" height="22.01" fill="#c2e3ec"/>
<rect x="1586.35" y="998.55" width="16.05" height="22.01" fill="#dcedf1"/>
<rect x="1602.41" y="998.55" width="48.16" height="22.01" fill="#f0f2f0"/>
<rect x="1650.57" y="998.55" width="16.05" height="22.01" fill="#e7f1f2"/>
<rect x="767.60" y="1020.56" width="128.43" height="22.01" fill="#8b1f19"/>
<rect x="896.03" y="1020.56" width="16.05" height="22.01" fill="#dcedf1"/>
<rect x="912.09" y="1020.56" width="16.05" height="22.01" fill="#c2e3ec"/>
<rect x="928.14" y="1020.56" width="32.11" height="22.01" fill="#9dd1e1"/>
<rect x="960.25" y="1020.56" width="48.16" height="22.01" fill="#66b8d3"/>
<rect x="1008.41" y="1020.56" width="16.05" height="22.01" fill="#3ca3c6"/>
<rect x="1024.46" y="1020.56" width="16.05" height="22.01" fill="#ebd0ae"/>
<rect x="1040.52" y="1020.56" width="16.05" height="22.01" fill="#e0b57f"/>
<rect x="1056.57" y="1020.56" width="48.16" height="22.01" fill="#d59c52"/>
<rect x="1104.73" y="1020.56" width="16.05" height="22.01" fill="#c9852f"/>
<rect x="1120.79" y="1020.56" width="32.11" height="22.01" fill="#d59c52"/>
<rect x="1152.90" y="1020.56" width="32.11" height="22.01" fill="#ebd0ae"/>
<rect x="1185.00" y="1020.56" width="16.05" height="22.01" fill="#f3ede6"/>
<rect x="1201.06" y="1020.56" width="16.05" height="22.01" fill="#dcedf1"/>
<rect x="1217.11" y="1020.56" width="16.05" height="22.01" fill="#9dd1e1"/>
<rect x="1233.17" y="1020.56" width="16.05" height="22.01" fill="#66b8d3"/>
<rect x="1249.22" y="1020.56" width="32.11" height="22.01" fill="#3ca3c6"/>
<rect x="1281.33" y="1020.56" width="32.11" height="22.01" fill="#9dd1e1"/>
<rect x="1313.44" y="1020.56" width="16.05" height="22.01" fill="#c2e3ec"/>
<rect x="1329.49" y="1020.56" width="16.05" height="22.01" fill="#e7f1f2"/>
<rect x="1345.54" y="1020.56" width="16.05" height="22.01" fill="#f0f2f0"/>
<rect x="1361.60" y="1020.56" width="16.05" height="22.01" fill="#f3ede6"/>
<rect x="1377.65" y="1020.56" width="32.11" height="22.01" fill="#f2e5d4"/>
<rect x="1409.76" y="1020.56" width="48.16" height="22.01" fill="#e0b57f"/>
<rect x="1457.92" y="1020.56" width="16.05" height="22.01" fill="#ebd0ae"/>
<rect x="1473.98" y="1020.56" width="32.11" height="22.01" fill="#f2e5d4"/>
<rect x="1506.08" y="1020.56" width="16.05" height="22.01" fill="#f3ede6"/>
<rect x="1522.14" y="1020.56" width="16.05" height="22.01" fill="#f0f2f0"/>
<rect x="1538.19" y="1020.56" width="32.11" height="22.01" fill="#9dd1e1"/>
<rect x="1570.30" y="1020.56" width="16.05" height="22.01" fill="#c2e3ec"/>
<rect x="1586.35" y="1020.56" width="48.16" height="22.01" fill="#dcedf1"/>
<rect x="1634.52" y="1020.56" width="32.11" height="22.01" fill="#e7f1f2"/>
<rect x="767.60" y="1042.57" width="128.43" height="22.01" fill="#8b1f19"/>
<rect x="896.03" y="1042.57" width="16.05" height="22.01" fill="#f2e5d4"/>
<rect x="912.09" y="1042.57" width="16.05" height="22.01" fill="#f3ede6"/>
<rect x="928.14" y="1042.57" width="16.05" height="22.01" fill="#f0f2f0"/>
<rect x="944.19" y="1042.57" width="64.22" height="22.01" fill="#dcedf1"/>
<rect x="1008.41" y="1042.57" width="16.05" height="22.01" fill="#c2e3ec"/>
<rect x="1024.46" y="1042.57" width="16.05" height="22.01" fill="#d59c52"/>
<rect x="1040.52" y="1042.57" width="112.38" height="22.01" fill="#c9852f"/>
<rect x="1152.90" y="1042.57" width="16.05" height="22.01" fill="#d59c52"/>
<rect x="1168.95" y="1042.57" width="16.05" height="22.01" fill="#ebd0ae"/>
<rect x="1185.00" y="1042.57" width="16.05" height="22.01" fill="#f3ede6"/>
<rect x="1201.06" y="1042.57" width="16.05" height="22.01" fill="#f0f2f0"/>
<rect x="1217.11" y="1042.57" width="16.05" height="22.01" fill="#c2e3ec"/>
<rect x="1233.17" y="1042.57" width="48.16" height="22.01" fill="#9dd1e1"/>
<rect x="1281.33" y="1042.57" width="32.11" height="22.01" fill="#3ca3c6"/>
<rect x="1313.44" y="1042.57" width="16.05" height="22.01" fill="#66b8d3"/>
<rect x="1329.49" y="1042.57" width="16.05" height="22.01" fill="#9dd1e1"/>
<rect x="1345.54" y="1042.57" width="16.05" height="22.01" fill="#c2e3ec"/>
<rect x="1361.60" y="1042.57" width="16.05" height="22.01" fill="#dcedf1"/>
<rect x="1377.65" y="1042.57" width="16.05" height="22.01" fill="#e7f1f2"/>
<rect x="1393.71" y="1042.57" width="16.05" height="22.01" fill="#f0f2f0"/>
<rect x="1409.76" y="1042.57" width="32.11" height="22.01" fill="#e0b57f"/>
<rect x="1441.87" y="1042.57" width="16.05" height="22.01" fill="#ebd0ae"/>
<rect x="1457.92" y="1042.57" width="32.11" height="22.01" fill="#f3ede6"/>
<rect x="1490.03" y="1042.57" width="16.05" height="22.01" fill="#f0f2f0"/>
<rect x="1506.08" y="1042.57" width="32.11" height="22.01" fill="#e7f1f2"/>
<rect x="1538.19" y="1042.57" width="32.11" height="22.01" fill="#f0f2f0"/>
<rect x="1570.30" y="1042.57" width="16.05" height="22.01" fill="#f3ede6"/>
<rect x="1586.35" y="1042.57" width="80.27" height="22.01" fill="#f2e5d4"/>
<rect x="767.60" y="1064.58" width="128.43" height="22.01" fill="#8b1f19"/>
<rect x="896.03" y="1064.58" width="16.05" height="22.01" fill="#f2e5d4"/>
<rect x="912.09" y="1064.58" width="16.05" height="22.01" fill="#f3ede6"/>
<rect x="928.14" y="1064.58" width="16.05" height="22.01" fill="#f0f2f0"/>
<rect x="944.19" y="1064.58" width="16.05" height="22.01" fill="#dcedf1"/>
<rect x="960.25" y="1064.58" width="48.16" height="22.01" fill="#c2e3ec"/>
<rect x="1008.41" y="1064.58" width="16.05" height="22.01" fill="#9dd1e1"/>
<rect x="1024.46" y="1064.58" width="16.05" height="22.01" fill="#ebd0ae"/>
<rect x="1040.52" y="1064.58" width="16.05" height="22.01" fill="#e0b57f"/>
<rect x="1056.57" y="1064.58" width="96.32" height="22.01" fill="#d59c52"/>
<rect x="1152.90" y="1064.58" width="16.05" height="22.01" fill="#ebd0ae"/>
<rect x="1168.95" y="1064.58" width="16.05" height="22.01" fill="#f3ede6"/>
<rect x="1185.00" y="1064.58" width="16.05" height="22.01" fill="#c2e3ec"/>
<rect x="1201.06" y="1064.58" width="16.05" height="22.01" fill="#3ca3c6"/>
<rect x="1217.11" y="1064.58" width="16.05" height="22.01" fill="#1a8cb5"/>
<rect x="1233.17" y="1064.58" width="48.16" height="22.01" fill="#0b76a6"/>
<rect x="1281.33" y="1064.58" width="16.05" height="22.01" fill="#66b8d3"/>
<rect x="1297.38" y="1064.58" width="16.05" height="22.01" fill="#3ca3c6"/>
<rect x="1313.44" y="1064.58" width="16.05" height="22.01" fill="#66b8d3"/>
<rect x="1329.49" y="1064.58" width="16.05" height="22.01" fill="#c2e3ec"/>
<rect x="1345.54" y="1064.58" width="16.05" height="22.01" fill="#e7f1f2"/>
<rect x="1361.60" y="1064.58" width="32.11" height="22.01" fill="#f0f2f0"/>
<rect x="1393.71" y="1064.58" width="16.05" height="22.01" fill="#f3ede6"/>
<rect x="1409.76" y="1064.58" width="32.11" height="22.01" fill="#d59c52"/>
<rect x="1441.87" y="1064.58" width="16.05" height="22.01" fill="#e0b57f"/>
<rect x="1457.92" y="1064.58" width="16.05" height="22.01" fill="#ebd0ae"/>
<rect x="1473.98" y="1064.58" width="32.11" height="22.01" fill="#f3ede6"/>
<rect x="1506.08" y="1064.58" width="16.05" height="22.01" fill="#f0f2f0"/>
<rect x="1522.14" y="1064.58" width="16.05" height="22.01" fill="#e7f1f2"/>
<rect x="1538.19" y="1064.58" width="16.05" height="22.01" fill="#dcedf1"/>
<rect x="1554.25" y="1064.58" width="16.05" height="22.01" fill="#e7f1f2"/>
<rect x="1570.30" y="1064.58" width="16.05" height="22.01" fill="#f0f2f0"/>
<rect x="1586.35" y="1064.58" width="16.05" height="22.01" fill="#f3ede6"/>
<rect x="1602.41" y="1064.58" width="64.22" height="22.01" fill="#f2e5d4"/>
<rect x="767.60" y="1086.58" width="128.43" height="22.01" fill="#8b1f19"/>
<rect x="896.03" y="1086.58" width="32.11" height="22.01" fill="#9dd1e1"/>
<rect x="928.14" y="1086.58" width="16.05" height="22.01" fill="#3ca3c6"/>
<rect x="944.19" y="1086.58" width="80.27" height="22.01" fill="#1a8cb5"/>
<rect x="1024.46" y="1086.58" width="32.11" height="22.01" fill="#c9852f"/>
<rect x="1056.57" y="1086.58" width="32.11" height="22.01" fill="#bc6623"/>
<rect x="1088.68" y="1086.58" width="64.22" height="22.01" fill="#c9852f"/>
<rect x="1152.90" y="1086.58" width="16.05" height="22.01" fill="#d59c52"/>
<rect x="1168.95" y="1086.58" width="16.05" height="22.01" fill="#f2e5d4"/>
<rect x="1185.00" y="1086.58" width="16.05" height="22.01" fill="#c2e3ec"/>
<rect x="1201.06" y="1086.58" width="16.05" height="22.01" fill="#3ca3c6"/>
<rect x="1217.11" y="1086.58" width="32.11" height="22.01" fill="#1a8cb5"/>
<rect x="1249.22" y="1086.58" width="32.11" height="22.01" fill="#0b76a6"/>
<rect x="1281.33" y="1086.58" width="32.11" height="22.01" fill="#3ca3c6"/>
<rect x="1313.44" y="1086.58" width="16.05" height="22.01" fill="#9dd1e1"/>
<rect x="1329.49" y="1086.58" width="16.05" height="22.01" fill="#dcedf1"/>
<rect x="1345.54" y="1086.58" width="16.05" height="22.01" fill="#f0f2f0"/>
<rect x="1361.60" y="1086.58" width="32.11" height="22.01" fill="#f3ede6"/>
<rect x="1393.71" y="1086.58" width="16.05" height="22.01" fill="#f2e5d4"/>
<rect x="1409.76" y="1086.58" width="32.11" height="22.01" fill="#d59c52"/>
<rect x="1441.87" y="1086.58" width="16.05" height="22.01" fill="#ebd0ae"/>
<rect x="1457.92" y="1086.58" width="16.05" height="22.01" fill="#f2e5d4"/>
<rect x="1473.98" y="1086.58" width="16.05" height="22.01" fill="#f3ede6"/>
<rect x="1490.03" y="1086.58" width="16.05" height="22.01" fill="#f0f2f0"/>
<rect x="1506.08" y="1086.58" width="32.11" height="22.01" fill="#e7f1f2"/>
<rect x="1538.19" y="1086.58" width="16.05" height="22.01" fill="#c2e3ec"/>
<rect x="1554.25" y="1086.58" width="16.05" height="22.01" fill="#dcedf1"/>
<rect x="1570.30" y="1086.58" width="16.05" height="22.01" fill="#e7f1f2"/>
<rect x="1586.35" y="1086.58" width="32.11" height="22.01" fill="#f0f2f0"/>
<rect x="1618.46" y="1086.58" width="48.16" height="22.01" fill="#f3ede6"/>
<rect x="767.60" y="1108.59" width="128.43" height="22.01" fill="#8b1f19"/>
<rect x="896.03" y="1108.59" width="16.05" height="22.01" fill="#dcedf1"/>
<rect x="912.09" y="1108.59" width="16.05" height="22.01" fill="#9dd1e1"/>
<rect x="928.14" y="1108.59" width="16.05" height="22.01" fill="#66b8d3"/>
<rect x="944.19" y="1108.59" width="32.11" height="22.01" fill="#3ca3c6"/>
<rect x="976.30" y="1108.59" width="32.11" height="22.01" fill="#1a8cb5"/>
<rect x="1008.41" y="1108.59" width="16.05" height="22.01" fill="#3ca3c6"/>
<rect x="1024.46" y="1108.59" width="16.05" height="22.01" fill="#d59c52"/>
<rect x="1040.52" y="1108.59" width="112.38" height="22.01" fill="#c9852f"/>
<rect x="1152.90" y="1108.59" width="16.05" height="22.01" fill="#ebd0ae"/>
<rect x="1168.95" y="1108.59" width="16.05" height="22.01" fill="#f0f2f0"/>
<rect x="1185.00" y="1108.59" width="16.05" height="22.01" fill="#c2e3ec"/>
<rect x="1201.06" y="1108.59" width="16.05" height="22.01" fill="#3ca3c6"/>
<rect x="1217.11" y="1108.59" width="32.11" height="22.01" fill="#1a8cb5"/>
<rect x="1249.22" y="1108.59" width="32.11" height="22.01" fill="#0b76a6"/>
<rect x="1281.33" y="1108.59" width="16.05" height="22.01" fill="#66b8d3"/>
<rect x="1297.38" y="1108.59" width="16.05" height="22.01" fill="#9dd1e1"/>
<rect x="1313.44" y="1108.59" width="16.05" height="22.01" fill="#dcedf1"/>
<rect x="1329.49" y="1108.59" width="16.05" height="22.01" fill="#f0f2f0"/>
<rect x="1345.54" y="1108.59" width="32.11" height="22.01" fill="#f3ede6"/>
<rect x="1377.65" y="1108.59" width="32.11" height="22.01" fill="#f2e5d4"/>
<rect x="1409.76" y="1108.59" width="32.11" height="22.01" fill="#d59c52"/>
<rect x="1441.87" y="1108.59" width="16.05" height="22.01" fill="#ebd0ae"/>
<rect x="1457.92" y="1108.59" width="32.11" height="22.01" fill="#f3ede6"/>
<rect x="1490.03" y="1108.59" width="16.05" height="22.01" fill="#f0f2f0"/>
<rect x="1506.08" y="1108.59" width="32.11" height="22.01" fill="#e7f1f2"/>
<rect x="1538.19" y="1108.59" width="16.05" height="22.01" fill="#dcedf1"/>
<rect x="1554.25" y="1108.59" width="32.11" height="22.01" fill="#e7f1f2"/>
<rect x="1586.35" y="1108.59" width="32.11" height="22.01" fill="#f0f2f0"/>
<rect x="1618.46" y="1108.59" width="48.16" height="22.01" fill="#f3ede6"/>
<rect x="767.60" y="1130.60" width="64.22" height="22.01" fill="#8b1f19"/>
<rect x="831.82" y="1130.60" width="16.05" height="22.01" fill="#9a321a"/>
<rect x="847.87" y="1130.60" width="16.05" height="22.01" fill="#ab4a1c"/>
<rect x="863.92" y="1130.60" width="16.05" height="22.01" fill="#8b1f19"/>
<rect x="879.98" y="1130.60" width="16.05" height="22.01" fill="#9a321a"/>
<rect x="896.03" y="1130.60" width="80.27" height="22.01" fill="#1a8cb5"/>
<rect x="976.30" y="1130.60" width="16.05" height="22.01" fill="#0b76a6"/>
<rect x="992.36" y="1130.60" width="32.11" height="22.01" fill="#1a8cb5"/>
<rect x="1024.46" y="1130.60" width="64.22" height="22.01" fill="#e0b57f"/>
<rect x="1088.68" y="1130.60" width="16.05" height="22.01" fill="#ebd0ae"/>
<rect x="1104.73" y="1130.60" width="16.05" height="22.01" fill="#e0b57f"/>
<rect x="1120.79" y="1130.60" width="16.05" height="22.01" fill="#ebd0ae"/>
<rect x="1136.84" y="1130.60" width="16.05" height="22.01" fill="#c9852f"/>
<rect x="1152.90" y="1130.60" width="48.16" height="22.01" fill="#0b76a6"/>
<rect x="1201.06" y="1130.60" width="32.11" height="22.01" fill="#1c4585"/>
<rect x="1233.17" y="1130.60" width="16.05" height="22.01" fill="#272c6a"/>
<rect x="1249.22" y="1130.60" width="16.05" height="22.01" fill="#1c4585"/>
<rect x="1265.27" y="1130.60" width="16.05" height="22.01" fill="#272c6a"/>
<rect x="1281.33" y="1130.60" width="48.16" height="22.01" fill="#f2e5d4"/>
<rect x="1329.49" y="1130.60" width="16.05" height="22.01" fill="#ebd0ae"/>
<rect x="1345.54" y="1130.60" width="16.05" height="22.01" fill="#e0b57f"/>
<rect x="1361.60" y="1130.60" width="16.05" height="22.01" fill="#c9852f"/>
<rect x="1377.65" y="1130.60" width="16.05" height="22.01" fill="#e0b57f"/>
<rect x="1393.71" y="1130.60" width="16.05" height="22.01" fill="#f0f2f0"/>
<rect x="1409.76" y="1130.60" width="48.16" height="22.01" fill="#dcedf1"/>
<rect x="1457.92" y="1130.60" width="32.11" height="22.01" fill="#c2e3ec"/>
<rect x="1490.03" y="1130.60" width="16.05" height="22.01" fill="#dcedf1"/>
<rect x="1506.08" y="1130.60" width="16.05" height="22.01" fill="#66b8d3"/>
<rect x="1522.14" y="1130.60" width="16.05" height="22.01" fill="#9dd1e1"/>
<rect x="1538.19" y="1130.60" width="32.11" height="22.01" fill="#f2e5d4"/>
<rect x="1570.30" y="1130.60" width="16.05" height="22.01" fill="#f3ede6"/>
<rect x="1586.35" y="1130.60" width="16.05" height="22.01" fill="#f2e5d4"/>
<rect x="1602.41" y="1130.60" width="16.05" height="22.01" fill="#ebd0ae"/>
<rect x="1618.46" y="1130.60" width="16.05" height="22.01" fill="#f3ede6"/>
<rect x="1634.52" y="1130.60" width="16.05" height="22.01" fill="#c2e3ec"/>
<rect x="1650.57" y="1130.60" width="16.05" height="22.01" fill="#f2e5d4"/>
<path d="M767.60 52.21H1666.62M767.60 74.22H1666.62M767.60 96.22H1666.62M767.60 118.23H1666.62M767.60 140.24H1666.62M767.60 162.25H1666.62M767.60 184.26H1666.62M767.60 206.26H1666.62M767.60 228.27H1666.62M767.60 250.28H1666.62M767.60 272.29H1666.62M767.60 294.30H1666.62M767.60 316.30H1666.62M767.60 338.31H1666.62M767.60 360.32H1666.62M767.60 382.33H1666.62M767.60 404.34H1666.62M767.60 426.34H1666.62M767.60 448.35H1666.62M767.60 470.36H1666.62M767.60 492.37H1666.62M767.60 514.38H1666.62M767.60 536.38H1666.62M767.60 558.39H1666.62M767.60 580.40H1666.62M767.60 602.41H1666.62M767.60 624.42H1666.62M767.60 646.42H1666.62M767.60 668.43H1666.62M767.60 690.44H1666.62M767.60 712.45H1666.62M767.60 734.46H1666.62M767.60 756.46H1666.62M767.60 778.47H1666.62M767.60 800.48H1666.62M767.60 822.49H1666.62M767.60 844.50H1666.62M767.60 866.50H1666.62M767.60 888.51H1666.62M767.60 910.52H1666.62M767.60 932.53H1666.62M767.60 954.54H1666.62M767.60 976.54H1666.62M767.60 998.55H1666.62M767.60 1020.56H1666.62M767.60 1042.57H1666.62M767.60 1064.58H1666.62M767.60 1086.58H1666.62M767.60 1108.59H1666.62M767.60 1130.60H1666.62M783.65 30.20V1152.61M799.71 30.20V1152.61M815.76 30.20V1152.61M831.82 30.20V1152.61M847.87 30.20V1152.61M863.92 30.20V1152.61M879.98 30.20V1152.61M912.09 30.20V1152.61M928.14 30.20V1152.61M944.19 30.20V1152.61M960.25 30.20V1152.61M976.30 30.20V1152.61M992.36 30.20V1152.61M1008.41 30.20V1152.61M1040.52 30.20V1152.61M1056.57 30.20V1152.61M1072.63 30.20V1152.61M1088.68 30.20V1152.61M1104.73 30.20V1152.61M1120.79 30.20V1152.61M1136.84 30.20V1152.61M1168.95 30.20V1152.61M1185.00 30.20V1152.61M1201.06 30.20V1152.61M1217.11 30.20V1152.61M1233.17 30.20V1152.61M1249.22 30.20V1152.61M1265.27 30.20V1152.61M1297.38 30.20V1152.61M1313.44 30.20V1152.61M1329.49 30.20V1152.61M1345.54 30.20V1152.61M1361.60 30.20V1152.61M1377.65 30.20V1152.61M1393.71 30.20V1152.61M1425.81 30.20V1152.61M1441.87 30.20V1152.61M1457.92 30.20V1152.61M1473.98 30.20V1152.61M1490.03 30.20V1152.61M1506.08 30.20V1152.61M1522.14 30.20V1152.61M1554.25 30.20V1152.61M1570.30 30.20V1152.61M1586.35 30.20V1152.61M1602.41 30.20V1152.61M1618.46 30.20V1152.61M1634.52 30.20V1152.61M1650.57 30.20V1152.61" stroke="#000" stroke-width="2.20" fill="none"/>
<path d="M896.03 30.20V1152.61M1024.46 30.20V1152.61M1152.90 30.20V1152.61M1281.33 30.20V1152.61M1409.76 30.20V1152.61M1538.19 30.20V1152.61" stroke="#000" stroke-width="3.00" fill="none"/>
<rect x="767.60" y="30.20" width="899.02" height="1122.41" fill="none" stroke="#000" stroke-width="2.70"/>
<text transform="translate(831.82 18.00) scale(1 1.040)" font-size="25.20" text-anchor="middle">1</text>
<text transform="translate(960.25 18.00) scale(1 1.040)" font-size="25.20" text-anchor="middle">2</text>
<text transform="translate(1088.68 18.00) scale(1 1.040)" font-size="25.20" text-anchor="middle">3</text>
<text transform="translate(1217.11 18.00) scale(1 1.040)" font-size="25.20" text-anchor="middle">4</text>
<text transform="translate(1345.54 18.00) scale(1 1.040)" font-size="25.20" text-anchor="middle">5</text>
<text transform="translate(1473.98 18.00) scale(1 1.040)" font-size="25.20" text-anchor="middle">6</text>
<text transform="translate(1602.41 18.00) scale(1 1.040)" font-size="25.20" text-anchor="middle">7</text>
<rect x="450.00" y="30.20" width="24.30" height="22.01" fill="#bcbcbc" stroke="#000" stroke-width="2.60"/>
<rect x="450.00" y="52.21" width="24.30" height="22.01" fill="#bcbcbc" stroke="#000" stroke-width="2.60"/>
<rect x="450.00" y="74.22" width="24.30" height="22.01" fill="#b3ac7e" stroke="#000" stroke-width="2.60"/>
<rect x="450.00" y="96.22" width="24.30" height="22.01" fill="#b3ac7e" stroke="#000" stroke-width="2.60"/>
<rect x="450.00" y="118.23" width="24.30" height="22.01" fill="#d174b6" stroke="#000" stroke-width="2.60"/>
<rect x="450.00" y="140.24" width="24.30" height="22.01" fill="#bcbcbc" stroke="#000" stroke-width="2.60"/>
<rect x="450.00" y="162.25" width="24.30" height="22.01" fill="#d174b6" stroke="#000" stroke-width="2.60"/>
<rect x="450.00" y="184.26" width="24.30" height="22.01" fill="#d174b6" stroke="#000" stroke-width="2.60"/>
<rect x="450.00" y="206.26" width="24.30" height="22.01" fill="#d174b6" stroke="#000" stroke-width="2.60"/>
<rect x="450.00" y="228.27" width="24.30" height="22.01" fill="#d174b6" stroke="#000" stroke-width="2.60"/>
<rect x="450.00" y="250.28" width="24.30" height="22.01" fill="#87a3d6" stroke="#000" stroke-width="2.60"/>
<rect x="450.00" y="272.29" width="24.30" height="22.01" fill="#87a3d6" stroke="#000" stroke-width="2.60"/>
<rect x="450.00" y="294.30" width="24.30" height="22.01" fill="#87a3d6" stroke="#000" stroke-width="2.60"/>
<rect x="450.00" y="316.30" width="24.30" height="22.01" fill="#bcbcbc" stroke="#000" stroke-width="2.60"/>
<rect x="450.00" y="338.31" width="24.30" height="22.01" fill="#f76d80" stroke="#000" stroke-width="2.60"/>
<rect x="450.00" y="360.32" width="24.30" height="22.01" fill="#f76d80" stroke="#000" stroke-width="2.60"/>
<rect x="450.00" y="382.33" width="24.30" height="22.01" fill="#f76d80" stroke="#000" stroke-width="2.60"/>
<rect x="450.00" y="404.34" width="24.30" height="22.01" fill="#b3ac7e" stroke="#000" stroke-width="2.60"/>
<rect x="450.00" y="426.34" width="24.30" height="22.01" fill="#b3ac7e" stroke="#000" stroke-width="2.60"/>
<rect x="450.00" y="448.35" width="24.30" height="22.01" fill="#b3ac7e" stroke="#000" stroke-width="2.60"/>
<rect x="450.00" y="470.36" width="24.30" height="22.01" fill="#f76d80" stroke="#000" stroke-width="2.60"/>
<rect x="450.00" y="492.37" width="24.30" height="22.01" fill="#f76d80" stroke="#000" stroke-width="2.60"/>
<rect x="450.00" y="514.38" width="24.30" height="22.01" fill="#bcbcbc" stroke="#000" stroke-width="2.60"/>
<rect x="450.00" y="536.38" width="24.30" height="22.01" fill="#f76d80" stroke="#000" stroke-width="2.60"/>
<rect x="450.00" y="558.39" width="24.30" height="22.01" fill="#bcbcbc" stroke="#000" stroke-width="2.60"/>
<rect x="450.00" y="580.40" width="24.30" height="22.01" fill="#bcbcbc" stroke="#000" stroke-width="2.60"/>
<rect x="450.00" y="602.41" width="24.30" height="22.01" fill="#b3ac7e" stroke="#000" stroke-width="2.60"/>
<rect x="450.00" y="624.42" width="24.30" height="22.01" fill="#bcbcbc" stroke="#000" stroke-width="2.60"/>
<rect x="450.00" y="646.42" width="24.30" height="22.01" fill="#bcbcbc" stroke="#000" stroke-width="2.60"/>
<rect x="450.00" y="668.43" width="24.30" height="22.01" fill="#bcbcbc" stroke="#000" stroke-width="2.60"/>
<rect x="450.00" y="690.44" width="24.30" height="22.01" fill="#bcbcbc" stroke="#000" stroke-width="2.60"/>
<rect x="450.00" y="712.45" width="24.30" height="22.01" fill="#f76d80" stroke="#000" stroke-width="2.60"/>
<rect x="450.00" y="734.46" width="24.30" height="22.01" fill="#f76d80" stroke="#000" stroke-width="2.60"/>
<rect x="450.00" y="756.46" width="24.30" height="22.01" fill="#bcbcbc" stroke="#000" stroke-width="2.60"/>
<rect x="450.00" y="778.47" width="24.30" height="22.01" fill="#b3ac7e" stroke="#000" stroke-width="2.60"/>
<rect x="450.00" y="800.48" width="24.30" height="22.01" fill="#bcbcbc" stroke="#000" stroke-width="2.60"/>
<rect x="450.00" y="822.49" width="24.30" height="22.01" fill="#f76d80" stroke="#000" stroke-width="2.60"/>
<rect x="450.00" y="844.50" width="24.30" height="22.01" fill="#f76d80" stroke="#000" stroke-width="2.60"/>
<rect x="450.00" y="866.50" width="24.30" height="22.01" fill="#f76d80" stroke="#000" stroke-width="2.60"/>
<rect x="450.00" y="888.51" width="24.30" height="22.01" fill="#bcbcbc" stroke="#000" stroke-width="2.60"/>
<rect x="450.00" y="910.52" width="24.30" height="22.01" fill="#fbe86b" stroke="#000" stroke-width="2.60"/>
<rect x="450.00" y="932.53" width="24.30" height="22.01" fill="#fbe86b" stroke="#000" stroke-width="2.60"/>
<rect x="450.00" y="954.54" width="24.30" height="22.01" fill="#fbe86b" stroke="#000" stroke-width="2.60"/>
<rect x="450.00" y="976.54" width="24.30" height="22.01" fill="#fbe86b" stroke="#000" stroke-width="2.60"/>
<rect x="450.00" y="998.55" width="24.30" height="22.01" fill="#bcbcbc" stroke="#000" stroke-width="2.60"/>
<rect x="450.00" y="1020.56" width="24.30" height="22.01" fill="#fbe86b" stroke="#000" stroke-width="2.60"/>
<rect x="450.00" y="1042.57" width="24.30" height="22.01" fill="#f76d80" stroke="#000" stroke-width="2.60"/>
<rect x="450.00" y="1064.58" width="24.30" height="22.01" fill="#fbe86b" stroke="#000" stroke-width="2.60"/>
<rect x="450.00" y="1086.58" width="24.30" height="22.01" fill="#bcbcbc" stroke="#000" stroke-width="2.60"/>
<rect x="450.00" y="1108.59" width="24.30" height="22.01" fill="#bcbcbc" stroke="#000" stroke-width="2.60"/>
<rect x="450.00" y="1130.60" width="24.30" height="22.01" fill="#bcbcbc" stroke="#000" stroke-width="2.60"/>
<text transform="translate(483.30 51.90) scale(1 1.045)" font-size="26.20">Tidal Treasures</text>
<text transform="translate(483.30 73.91) scale(1 1.045)" font-size="26.20">Familiar Faces</text>
<text transform="translate(483.30 95.92) scale(1 1.045)" font-size="26.20">Word Sort</text>
<text transform="translate(483.30 117.92) scale(1 1.045)" font-size="26.20">By the Rules</text>
<text transform="translate(483.30 139.93) scale(1 1.045)" font-size="26.20">Taking Root</text>
<text transform="translate(483.30 161.94) scale(1 1.045)" font-size="26.20">Rhyme Workout</text>
<text transform="translate(483.30 183.95) scale(1 1.045)" font-size="26.20">Word Snatchers</text>
<text transform="translate(483.30 205.96) scale(1 1.045)" font-size="26.20">Word Bubbles 3</text>
<text transform="translate(483.30 227.96) scale(1 1.045)" font-size="26.20">Word Bubbles</text>
<text transform="translate(483.30 249.97) scale(1 1.045)" font-size="26.20">Word Bubbles Rising</text>
<text transform="translate(483.30 271.98) scale(1 1.045)" font-size="26.20">Raindrops</text>
<text transform="translate(483.30 293.99) scale(1 1.045)" font-size="26.20">Chalkboard Chall. 2</text>
<text transform="translate(483.30 316.00) scale(1 1.045)" font-size="26.20">Raindrops 2</text>
<text transform="translate(483.30 338.00) scale(1 1.045)" font-size="26.20">Observation Tower</text>
<text transform="translate(483.30 360.01) scale(1 1.045)" font-size="26.20">Eagle Eye 2</text>
<text transform="translate(483.30 382.02) scale(1 1.045)" font-size="26.20">Eagle Eye</text>
<text transform="translate(483.30 404.03) scale(1 1.045)" font-size="26.20">Birdwatching</text>
<text transform="translate(483.30 426.04) scale(1 1.045)" font-size="26.20">Pet Detective</text>
<text transform="translate(483.30 448.04) scale(1 1.045)" font-size="26.20">Pirate Passage</text>
<text transform="translate(483.30 470.05) scale(1 1.045)" font-size="26.20">Masterpiece</text>
<text transform="translate(483.30 492.06) scale(1 1.045)" font-size="26.20">Splitting Seeds</text>
<text transform="translate(483.30 514.07) scale(1 1.045)" font-size="26.20">Trouble Brewing</text>
<text transform="translate(483.30 536.08) scale(1 1.045)" font-size="26.20">River Ranger</text>
<text transform="translate(483.30 558.08) scale(1 1.045)" font-size="26.20">Highway Hazards</text>
<text transform="translate(483.30 580.09) scale(1 1.045)" font-size="26.20">Follow That Frog</text>
<text transform="translate(483.30 602.10) scale(1 1.045)" font-size="26.20">Playing Koi</text>
<text transform="translate(483.30 624.11) scale(1 1.045)" font-size="26.20">Fuse Clues</text>
<text transform="translate(483.30 646.12) scale(1 1.045)" font-size="26.20">Moneycomb</text>
<text transform="translate(483.30 668.12) scale(1 1.045)" font-size="26.20">Rotation Matrix</text>
<text transform="translate(483.30 690.13) scale(1 1.045)" font-size="26.20">Pinball Recall</text>
<text transform="translate(483.30 712.14) scale(1 1.045)" font-size="26.20">Memory Matrix 2</text>
<text transform="translate(483.30 734.15) scale(1 1.045)" font-size="26.20">Speed Pack</text>
<text transform="translate(483.30 756.16) scale(1 1.045)" font-size="26.20">Penguin Pursuit</text>
<text transform="translate(483.30 778.16) scale(1 1.045)" font-size="26.20">Memory Match</text>
<text transform="translate(483.30 800.17) scale(1 1.045)" font-size="26.20">Organic Order</text>
<text transform="translate(483.30 822.18) scale(1 1.045)" font-size="26.20">Memory Serves Web</text>
<text transform="translate(483.30 844.19) scale(1 1.045)" font-size="26.20">Star Search</text>
<text transform="translate(483.30 866.20) scale(1 1.045)" font-size="26.20">Train of Thought</text>
<text transform="translate(483.30 888.20) scale(1 1.045)" font-size="26.20">Assist Ants</text>
<text transform="translate(483.30 910.21) scale(1 1.045)" font-size="26.20">Memory Match 2</text>
<text transform="translate(483.30 932.22) scale(1 1.045)" font-size="26.20">Disillusion 2</text>
<text transform="translate(483.30 954.23) scale(1 1.045)" font-size="26.20">Disillusion</text>
<text transform="translate(483.30 976.24) scale(1 1.045)" font-size="26.20">Color Match 2</text>
<text transform="translate(483.30 998.24) scale(1 1.045)" font-size="26.20">Brain Shift Ovd. 2</text>
<text transform="translate(483.30 1020.25) scale(1 1.045)" font-size="26.20">Speed Match Ovd.</text>
<text transform="translate(483.30 1042.26) scale(1 1.045)" font-size="26.20">Brain Shift 2</text>
<text transform="translate(483.30 1064.27) scale(1 1.045)" font-size="26.20">Lost in Migration 2</text>
<text transform="translate(483.30 1086.28) scale(1 1.045)" font-size="26.20">Ebb and Flow</text>
<text transform="translate(483.30 1108.28) scale(1 1.045)" font-size="26.20">Speed Match 2</text>
<text transform="translate(483.30 1130.29) scale(1 1.045)" font-size="26.20">Sp. Speed Match 2</text>
<text transform="translate(483.30 1152.30) scale(1 1.045)" font-size="26.20">Speed Match Web</text>
<path d="M450.00 41.20H291.10V63.21H450.00M450.00 85.22H370.80V107.22H450.00M291.10 52.20H265.20V96.22H370.80M450.00 217.26H441.90V239.27H450.00M450.00 195.26H417.80V228.27H441.90M450.00 173.25H396.80V211.76H417.80M450.00 151.24H217.70V192.50H396.80M450.00 129.23H173.40V171.87H217.70M265.20 74.21H153.40V150.55H173.40M450.00 283.29H438.40V305.30H450.00M450.00 261.28H428.60V294.29H438.40M450.00 349.31H389.50V371.32H450.00M389.50 360.32H338.10V393.33H450.00M450.00 327.30H282.50V376.82H338.10M450.00 415.34H381.00V437.34H450.00M450.00 503.37H432.40V525.38H450.00M450.00 481.36H420.10V514.37H432.40M450.00 569.39H433.60V591.40H450.00M450.00 547.38H416.10V580.40H433.60M420.10 497.87H396.30V563.89H416.10M450.00 613.41H364.10V635.42H450.00M396.30 530.88H357.20V624.41H364.10M450.00 459.35H338.70V577.64H357.20M450.00 679.43H428.40V701.44H450.00M450.00 657.42H391.90V690.44H428.40M338.70 518.50H326.40V673.93H391.90M450.00 723.45H424.40V745.46H450.00M424.40 734.45H393.90V767.46H450.00M450.00 833.49H429.40V855.50H450.00M450.00 811.48H405.80V844.49H429.40M450.00 789.47H377.80V827.99H405.80M377.80 808.73H354.60V877.50H450.00M393.90 750.96H344.10V843.12H354.60M326.40 596.21H302.00V797.04H344.10M450.00 899.51H435.00V921.52H450.00M435.00 910.52H423.70V943.53H450.00M423.70 927.02H409.20V965.54H450.00M409.20 946.28H401.20V987.54H450.00M450.00 1009.55H437.50V1031.56H450.00M450.00 1053.57H433.60V1075.58H450.00M450.00 1097.58H446.90V1119.59H450.00M433.60 1064.57H424.40V1108.59H446.90M437.50 1020.56H418.10V1086.58H424.40M401.20 966.91H371.90V1053.57H418.10M302.00 696.63H273.30V1010.24H371.90M381.00 426.34H234.60V853.43H273.30M282.50 352.06H206.80V639.89H234.60M428.60 277.79H134.00V495.97H206.80M153.40 112.38H116.20V386.88H134.00M116.20 249.63H2.20V1141.60H450.00" stroke="#000" stroke-width="3.00" fill="none" stroke-linejoin="miter" stroke-linecap="square"/>
<rect x="790.90" y="1424.40" width="31.28" height="44.89" fill="#d8e0e4"/>
<rect x="822.18" y="1424.40" width="31.28" height="44.89" fill="#c4d7dc"/>
<rect x="853.46" y="1424.40" width="31.28" height="44.89" fill="#a8ccd4"/>
<rect x="884.74" y="1424.40" width="31.28" height="44.89" fill="#7bbaca"/>
<rect x="916.02" y="1424.40" width="62.56" height="44.89" fill="#0b80b4"/>
<rect x="978.58" y="1424.40" width="46.92" height="44.89" fill="#1a94bb"/>
<rect x="1025.50" y="1424.40" width="15.64" height="44.89" fill="#45a7c2"/>
<rect x="1041.14" y="1424.40" width="78.20" height="44.89" fill="#1a94bb"/>
<rect x="1119.34" y="1424.40" width="46.92" height="44.89" fill="#45a7c2"/>
<rect x="1166.26" y="1424.40" width="15.64" height="44.89" fill="#f8e8e6"/>
<rect x="1181.90" y="1424.40" width="15.64" height="44.89" fill="#f8d9d5"/>
<rect x="1197.54" y="1424.40" width="15.64" height="44.89" fill="#f6c6be"/>
<rect x="1213.18" y="1424.40" width="62.56" height="44.89" fill="#f4aea1"/>
<rect x="1275.74" y="1424.40" width="15.64" height="44.89" fill="#f29a89"/>
<rect x="1291.38" y="1424.40" width="15.64" height="44.89" fill="#d8e0e4"/>
<rect x="1307.02" y="1424.40" width="31.28" height="44.89" fill="#c4d7dc"/>
<rect x="1338.30" y="1424.40" width="15.64" height="44.89" fill="#a8ccd4"/>
<rect x="1353.94" y="1424.40" width="62.56" height="44.89" fill="#7bbaca"/>
<rect x="1416.50" y="1424.40" width="15.64" height="44.89" fill="#c4d7dc"/>
<rect x="1432.14" y="1424.40" width="93.84" height="44.89" fill="#a8ccd4"/>
<rect x="1525.98" y="1424.40" width="15.64" height="44.89" fill="#c4d7dc"/>
<rect x="1541.62" y="1424.40" width="31.28" height="44.89" fill="#f6c6be"/>
<rect x="1572.90" y="1424.40" width="46.92" height="44.89" fill="#f8d9d5"/>
<rect x="1619.82" y="1424.40" width="31.28" height="44.89" fill="#f8e8e6"/>
<rect x="1651.10" y="1424.40" width="15.64" height="44.89" fill="#f5f1f2"/>
<rect x="790.90" y="1469.29" width="46.92" height="44.89" fill="#45a7c2"/>
<rect x="837.82" y="1469.29" width="31.28" height="44.89" fill="#1a94bb"/>
<rect x="869.10" y="1469.29" width="15.64" height="44.89" fill="#0b80b4"/>
<rect x="884.74" y="1469.29" width="15.64" height="44.89" fill="#1a94bb"/>
<rect x="900.38" y="1469.29" width="15.64" height="44.89" fill="#45a7c2"/>
<rect x="916.02" y="1469.29" width="93.84" height="44.89" fill="#1a94bb"/>
<rect x="1009.86" y="1469.29" width="31.28" height="44.89" fill="#0b80b4"/>
<rect x="1041.14" y="1469.29" width="78.20" height="44.89" fill="#45a7c2"/>
<rect x="1119.34" y="1469.29" width="46.92" height="44.89" fill="#1a94bb"/>
<rect x="1166.26" y="1469.29" width="15.64" height="44.89" fill="#f5f1f2"/>
<rect x="1181.90" y="1469.29" width="15.64" height="44.89" fill="#f8d9d5"/>
<rect x="1197.54" y="1469.29" width="15.64" height="44.89" fill="#f6c6be"/>
<rect x="1213.18" y="1469.29" width="31.28" height="44.89" fill="#f4aea1"/>
<rect x="1244.46" y="1469.29" width="31.28" height="44.89" fill="#f6c6be"/>
<rect x="1275.74" y="1469.29" width="15.64" height="44.89" fill="#f4aea1"/>
<rect x="1291.38" y="1469.29" width="15.64" height="44.89" fill="#d8e0e4"/>
<rect x="1307.02" y="1469.29" width="15.64" height="44.89" fill="#c4d7dc"/>
<rect x="1322.66" y="1469.29" width="15.64" height="44.89" fill="#a8ccd4"/>
<rect x="1338.30" y="1469.29" width="15.64" height="44.89" fill="#7bbaca"/>
<rect x="1353.94" y="1469.29" width="15.64" height="44.89" fill="#45a7c2"/>
<rect x="1369.58" y="1469.29" width="46.92" height="44.89" fill="#1a94bb"/>
<rect x="1416.50" y="1469.29" width="15.64" height="44.89" fill="#d8e0e4"/>
<rect x="1432.14" y="1469.29" width="109.48" height="44.89" fill="#e6e8ec"/>
<rect x="1541.62" y="1469.29" width="31.28" height="44.89" fill="#f8e8e6"/>
<rect x="1572.90" y="1469.29" width="15.64" height="44.89" fill="#f5f1f2"/>
<rect x="1588.54" y="1469.29" width="15.64" height="44.89" fill="#e6e8ec"/>
<rect x="1604.18" y="1469.29" width="15.64" height="44.89" fill="#d8e0e4"/>
<rect x="1619.82" y="1469.29" width="15.64" height="44.89" fill="#c4d7dc"/>
<rect x="1635.46" y="1469.29" width="31.28" height="44.89" fill="#a8ccd4"/>
<rect x="790.90" y="1514.18" width="15.64" height="44.89" fill="#f8d9d5"/>
<rect x="806.54" y="1514.18" width="15.64" height="44.89" fill="#f5f1f2"/>
<rect x="822.18" y="1514.18" width="31.28" height="44.89" fill="#e6e8ec"/>
<rect x="853.46" y="1514.18" width="15.64" height="44.89" fill="#d8e0e4"/>
<rect x="869.10" y="1514.18" width="15.64" height="44.89" fill="#c4d7dc"/>
<rect x="884.74" y="1514.18" width="140.76" height="44.89" fill="#a8ccd4"/>
<rect x="1025.50" y="1514.18" width="15.64" height="44.89" fill="#c4d7dc"/>
<rect x="1041.14" y="1514.18" width="31.28" height="44.89" fill="#a8ccd4"/>
<rect x="1072.42" y="1514.18" width="93.84" height="44.89" fill="#c4d7dc"/>
<rect x="1166.26" y="1514.18" width="46.92" height="44.89" fill="#f8d9d5"/>
<rect x="1213.18" y="1514.18" width="15.64" height="44.89" fill="#f6c6be"/>
<rect x="1228.82" y="1514.18" width="15.64" height="44.89" fill="#f8d9d5"/>
<rect x="1244.46" y="1514.18" width="15.64" height="44.89" fill="#f6c6be"/>
<rect x="1260.10" y="1514.18" width="31.28" height="44.89" fill="#f8d9d5"/>
<rect x="1291.38" y="1514.18" width="15.64" height="44.89" fill="#cf2a25"/>
<rect x="1307.02" y="1514.18" width="93.84" height="44.89" fill="#b81f2a"/>
<rect x="1400.86" y="1514.18" width="15.64" height="44.89" fill="#cf2a25"/>
<rect x="1416.50" y="1514.18" width="46.92" height="44.89" fill="#f29a89"/>
<rect x="1463.42" y="1514.18" width="31.28" height="44.89" fill="#ee7c67"/>
<rect x="1494.70" y="1514.18" width="31.28" height="44.89" fill="#f29a89"/>
<rect x="1525.98" y="1514.18" width="15.64" height="44.89" fill="#ee7c67"/>
<rect x="1541.62" y="1514.18" width="31.28" height="44.89" fill="#d8e0e4"/>
<rect x="1572.90" y="1514.18" width="93.84" height="44.89" fill="#e6e8ec"/>
<rect x="790.90" y="1559.06" width="15.64" height="44.89" fill="#f8d9d5"/>
<rect x="806.54" y="1559.06" width="15.64" height="44.89" fill="#f5f1f2"/>
<rect x="822.18" y="1559.06" width="31.28" height="44.89" fill="#e6e8ec"/>
<rect x="853.46" y="1559.06" width="15.64" height="44.89" fill="#d8e0e4"/>
<rect x="869.10" y="1559.06" width="15.64" height="44.89" fill="#c4d7dc"/>
<rect x="884.74" y="1559.06" width="93.84" height="44.89" fill="#a8ccd4"/>
<rect x="978.58" y="1559.06" width="62.56" height="44.89" fill="#c4d7dc"/>
<rect x="1041.14" y="1559.06" width="31.28" height="44.89" fill="#a8ccd4"/>
<rect x="1072.42" y="1559.06" width="93.84" height="44.89" fill="#c4d7dc"/>
<rect x="1166.26" y="1559.06" width="31.28" height="44.89" fill="#f8d9d5"/>
<rect x="1197.54" y="1559.06" width="78.20" height="44.89" fill="#f6c6be"/>
<rect x="1275.74" y="1559.06" width="15.64" height="44.89" fill="#f8d9d5"/>
<rect x="1291.38" y="1559.06" width="15.64" height="44.89" fill="#cf2a25"/>
<rect x="1307.02" y="1559.06" width="78.20" height="44.89" fill="#b81f2a"/>
<rect x="1385.22" y="1559.06" width="31.28" height="44.89" fill="#cf2a25"/>
<rect x="1416.50" y="1559.06" width="15.64" height="44.89" fill="#f4aea1"/>
<rect x="1432.14" y="1559.06" width="31.28" height="44.89" fill="#f29a89"/>
<rect x="1463.42" y="1559.06" width="31.28" height="44.89" fill="#ee7c67"/>
<rect x="1494.70" y="1559.06" width="31.28" height="44.89" fill="#f29a89"/>
<rect x="1525.98" y="1559.06" width="15.64" height="44.89" fill="#ee7c67"/>
<rect x="1541.62" y="1559.06" width="15.64" height="44.89" fill="#c4d7dc"/>
<rect x="1557.26" y="1559.06" width="15.64" height="44.89" fill="#d8e0e4"/>
<rect x="1572.90" y="1559.06" width="93.84" height="44.89" fill="#e6e8ec"/>
<rect x="790.90" y="1603.95" width="46.92" height="44.89" fill="#e6e8ec"/>
<rect x="837.82" y="1603.95" width="15.64" height="44.89" fill="#f5f1f2"/>
<rect x="853.46" y="1603.95" width="15.64" height="44.89" fill="#f8e8e6"/>
<rect x="869.10" y="1603.95" width="46.92" height="44.89" fill="#f8d9d5"/>
<rect x="916.02" y="1603.95" width="125.12" height="44.89" fill="#f5f1f2"/>
<rect x="1041.14" y="1603.95" width="31.28" height="44.89" fill="#d8e0e4"/>
<rect x="1072.42" y="1603.95" width="125.12" height="44.89" fill="#e6e8ec"/>
<rect x="1197.54" y="1603.95" width="46.92" height="44.89" fill="#f5f1f2"/>
<rect x="1244.46" y="1603.95" width="31.28" height="44.89" fill="#e6e8ec"/>
<rect x="1275.74" y="1603.95" width="15.64" height="44.89" fill="#f5f1f2"/>
<rect x="1291.38" y="1603.95" width="46.92" height="44.89" fill="#f29a89"/>
<rect x="1338.30" y="1603.95" width="31.28" height="44.89" fill="#ee7c67"/>
<rect x="1369.58" y="1603.95" width="31.28" height="44.89" fill="#f29a89"/>
<rect x="1400.86" y="1603.95" width="15.64" height="44.89" fill="#ee7c67"/>
<rect x="1416.50" y="1603.95" width="46.92" height="44.89" fill="#f8e8e6"/>
<rect x="1463.42" y="1603.95" width="15.64" height="44.89" fill="#f8d9d5"/>
<rect x="1479.06" y="1603.95" width="31.28" height="44.89" fill="#f8e8e6"/>
<rect x="1510.34" y="1603.95" width="31.28" height="44.89" fill="#f5f1f2"/>
<rect x="1541.62" y="1603.95" width="62.56" height="44.89" fill="#f4aea1"/>
<rect x="1604.18" y="1603.95" width="31.28" height="44.89" fill="#f6c6be"/>
<rect x="1635.46" y="1603.95" width="15.64" height="44.89" fill="#f4aea1"/>
<rect x="1651.10" y="1603.95" width="15.64" height="44.89" fill="#f6c6be"/>
<rect x="790.90" y="1648.84" width="31.28" height="44.89" fill="#45a7c2"/>
<rect x="822.18" y="1648.84" width="15.64" height="44.89" fill="#7bbaca"/>
<rect x="837.82" y="1648.84" width="15.64" height="44.89" fill="#a8ccd4"/>
<rect x="853.46" y="1648.84" width="62.56" height="44.89" fill="#e6e8ec"/>
<rect x="916.02" y="1648.84" width="15.64" height="44.89" fill="#f5f1f2"/>
<rect x="931.66" y="1648.84" width="62.56" height="44.89" fill="#e6e8ec"/>
<rect x="994.22" y="1648.84" width="15.64" height="44.89" fill="#d8e0e4"/>
<rect x="1009.86" y="1648.84" width="31.28" height="44.89" fill="#e6e8ec"/>
<rect x="1041.14" y="1648.84" width="15.64" height="44.89" fill="#d8e0e4"/>
<rect x="1056.78" y="1648.84" width="31.28" height="44.89" fill="#c4d7dc"/>
<rect x="1088.06" y="1648.84" width="15.64" height="44.89" fill="#a8ccd4"/>
<rect x="1103.70" y="1648.84" width="15.64" height="44.89" fill="#7bbaca"/>
<rect x="1119.34" y="1648.84" width="15.64" height="44.89" fill="#a8ccd4"/>
<rect x="1134.98" y="1648.84" width="31.28" height="44.89" fill="#7bbaca"/>
<rect x="1166.26" y="1648.84" width="15.64" height="44.89" fill="#a8ccd4"/>
<rect x="1181.90" y="1648.84" width="15.64" height="44.89" fill="#d8e0e4"/>
<rect x="1197.54" y="1648.84" width="15.64" height="44.89" fill="#e6e8ec"/>
<rect x="1213.18" y="1648.84" width="15.64" height="44.89" fill="#f5f1f2"/>
<rect x="1228.82" y="1648.84" width="15.64" height="44.89" fill="#e6e8ec"/>
<rect x="1244.46" y="1648.84" width="15.64" height="44.89" fill="#d8e0e4"/>
<rect x="1260.10" y="1648.84" width="31.28" height="44.89" fill="#c4d7dc"/>
<rect x="1291.38" y="1648.84" width="15.64" height="44.89" fill="#f8d9d5"/>
<rect x="1307.02" y="1648.84" width="15.64" height="44.89" fill="#f8e8e6"/>
<rect x="1322.66" y="1648.84" width="93.84" height="44.89" fill="#f5f1f2"/>
<rect x="1416.50" y="1648.84" width="15.64" height="44.89" fill="#d8e0e4"/>
<rect x="1432.14" y="1648.84" width="31.28" height="44.89" fill="#f5f1f2"/>
<rect x="1463.42" y="1648.84" width="78.20" height="44.89" fill="#f8e8e6"/>
<rect x="1541.62" y="1648.84" width="46.92" height="44.89" fill="#f5f1f2"/>
<rect x="1588.54" y="1648.84" width="46.92" height="44.89" fill="#e6e8ec"/>
<rect x="1635.46" y="1648.84" width="31.28" height="44.89" fill="#f5f1f2"/>
<rect x="790.90" y="1693.73" width="62.56" height="44.89" fill="#7bbaca"/>
<rect x="853.46" y="1693.73" width="15.64" height="44.89" fill="#a8ccd4"/>
<rect x="869.10" y="1693.73" width="31.28" height="44.89" fill="#7bbaca"/>
<rect x="900.38" y="1693.73" width="15.64" height="44.89" fill="#a8ccd4"/>
<rect x="916.02" y="1693.73" width="15.64" height="44.89" fill="#e6e8ec"/>
<rect x="931.66" y="1693.73" width="46.92" height="44.89" fill="#d8e0e4"/>
<rect x="978.58" y="1693.73" width="15.64" height="44.89" fill="#c4d7dc"/>
<rect x="994.22" y="1693.73" width="15.64" height="44.89" fill="#d8e0e4"/>
<rect x="1009.86" y="1693.73" width="15.64" height="44.89" fill="#e6e8ec"/>
<rect x="1025.50" y="1693.73" width="31.28" height="44.89" fill="#d8e0e4"/>
<rect x="1056.78" y="1693.73" width="15.64" height="44.89" fill="#a8ccd4"/>
<rect x="1072.42" y="1693.73" width="15.64" height="44.89" fill="#7bbaca"/>
<rect x="1088.06" y="1693.73" width="62.56" height="44.89" fill="#1a94bb"/>
<rect x="1150.62" y="1693.73" width="15.64" height="44.89" fill="#45a7c2"/>
<rect x="1166.26" y="1693.73" width="46.92" height="44.89" fill="#c4d7dc"/>
<rect x="1213.18" y="1693.73" width="15.64" height="44.89" fill="#d8e0e4"/>
<rect x="1228.82" y="1693.73" width="15.64" height="44.89" fill="#c4d7dc"/>
<rect x="1244.46" y="1693.73" width="31.28" height="44.89" fill="#d8e0e4"/>
<rect x="1275.74" y="1693.73" width="15.64" height="44.89" fill="#c4d7dc"/>
<rect x="1291.38" y="1693.73" width="15.64" height="44.89" fill="#f5f1f2"/>
<rect x="1307.02" y="1693.73" width="15.64" height="44.89" fill="#e6e8ec"/>
<rect x="1322.66" y="1693.73" width="15.64" height="44.89" fill="#d8e0e4"/>
<rect x="1338.30" y="1693.73" width="15.64" height="44.89" fill="#c4d7dc"/>
<rect x="1353.94" y="1693.73" width="15.64" height="44.89" fill="#a8ccd4"/>
<rect x="1369.58" y="1693.73" width="15.64" height="44.89" fill="#c4d7dc"/>
<rect x="1385.22" y="1693.73" width="15.64" height="44.89" fill="#d8e0e4"/>
<rect x="1400.86" y="1693.73" width="46.92" height="44.89" fill="#e6e8ec"/>
<rect x="1447.78" y="1693.73" width="15.64" height="44.89" fill="#d8e0e4"/>
<rect x="1463.42" y="1693.73" width="15.64" height="44.89" fill="#e6e8ec"/>
<rect x="1479.06" y="1693.73" width="46.92" height="44.89" fill="#f5f1f2"/>
<rect x="1525.98" y="1693.73" width="15.64" height="44.89" fill="#e6e8ec"/>
<rect x="1541.62" y="1693.73" width="15.64" height="44.89" fill="#f8e8e6"/>
<rect x="1557.26" y="1693.73" width="15.64" height="44.89" fill="#f5f1f2"/>
<rect x="1572.90" y="1693.73" width="31.28" height="44.89" fill="#f8e8e6"/>
<rect x="1604.18" y="1693.73" width="15.64" height="44.89" fill="#f8d9d5"/>
<rect x="1619.82" y="1693.73" width="15.64" height="44.89" fill="#f8e8e6"/>
<rect x="1635.46" y="1693.73" width="15.64" height="44.89" fill="#f5f1f2"/>
<rect x="1651.10" y="1693.73" width="15.64" height="44.89" fill="#d8e0e4"/>
<rect x="790.90" y="1738.62" width="46.92" height="44.89" fill="#c4d7dc"/>
<rect x="837.82" y="1738.62" width="15.64" height="44.89" fill="#d8e0e4"/>
<rect x="853.46" y="1738.62" width="15.64" height="44.89" fill="#f8e8e6"/>
<rect x="869.10" y="1738.62" width="15.64" height="44.89" fill="#f6c6be"/>
<rect x="884.74" y="1738.62" width="15.64" height="44.89" fill="#f4aea1"/>
<rect x="900.38" y="1738.62" width="15.64" height="44.89" fill="#f29a89"/>
<rect x="916.02" y="1738.62" width="31.28" height="44.89" fill="#e9624d"/>
<rect x="947.30" y="1738.62" width="31.28" height="44.89" fill="#e04a36"/>
<rect x="978.58" y="1738.62" width="62.56" height="44.89" fill="#cf2a25"/>
<rect x="1041.14" y="1738.62" width="93.84" height="44.89" fill="#a8ccd4"/>
<rect x="1134.98" y="1738.62" width="15.64" height="44.89" fill="#c4d7dc"/>
<rect x="1150.62" y="1738.62" width="15.64" height="44.89" fill="#d8e0e4"/>
<rect x="1166.26" y="1738.62" width="15.64" height="44.89" fill="#c4d7dc"/>
<rect x="1181.90" y="1738.62" width="15.64" height="44.89" fill="#d8e0e4"/>
<rect x="1197.54" y="1738.62" width="46.92" height="44.89" fill="#f5f1f2"/>
<rect x="1244.46" y="1738.62" width="15.64" height="44.89" fill="#f8e8e6"/>
<rect x="1260.10" y="1738.62" width="31.28" height="44.89" fill="#f8d9d5"/>
<rect x="1291.38" y="1738.62" width="109.48" height="44.89" fill="#f5f1f2"/>
<rect x="1400.86" y="1738.62" width="15.64" height="44.89" fill="#f8e8e6"/>
<rect x="1416.50" y="1738.62" width="15.64" height="44.89" fill="#d8e0e4"/>
<rect x="1432.14" y="1738.62" width="15.64" height="44.89" fill="#e6e8ec"/>
<rect x="1447.78" y="1738.62" width="15.64" height="44.89" fill="#f8e8e6"/>
<rect x="1463.42" y="1738.62" width="15.64" height="44.89" fill="#f6c6be"/>
<rect x="1479.06" y="1738.62" width="15.64" height="44.89" fill="#f4aea1"/>
<rect x="1494.70" y="1738.62" width="15.64" height="44.89" fill="#f29a89"/>
<rect x="1510.34" y="1738.62" width="15.64" height="44.89" fill="#ee7c67"/>
<rect x="1525.98" y="1738.62" width="15.64" height="44.89" fill="#f29a89"/>
<rect x="1541.62" y="1738.62" width="31.28" height="44.89" fill="#f4aea1"/>
<rect x="1572.90" y="1738.62" width="31.28" height="44.89" fill="#f6c6be"/>
<rect x="1604.18" y="1738.62" width="15.64" height="44.89" fill="#f4aea1"/>
<rect x="1619.82" y="1738.62" width="31.28" height="44.89" fill="#f6c6be"/>
<rect x="1651.10" y="1738.62" width="15.64" height="44.89" fill="#f8d9d5"/>
<rect x="790.90" y="1783.50" width="31.28" height="44.89" fill="#e6e8ec"/>
<rect x="822.18" y="1783.50" width="15.64" height="44.89" fill="#f5f1f2"/>
<rect x="837.82" y="1783.50" width="15.64" height="44.89" fill="#f8d9d5"/>
<rect x="853.46" y="1783.50" width="31.28" height="44.89" fill="#f4aea1"/>
<rect x="884.74" y="1783.50" width="15.64" height="44.89" fill="#f29a89"/>
<rect x="900.38" y="1783.50" width="15.64" height="44.89" fill="#ee7c67"/>
<rect x="916.02" y="1783.50" width="15.64" height="44.89" fill="#f4aea1"/>
<rect x="931.66" y="1783.50" width="31.28" height="44.89" fill="#f29a89"/>
<rect x="962.94" y="1783.50" width="62.56" height="44.89" fill="#ee7c67"/>
<rect x="1025.50" y="1783.50" width="15.64" height="44.89" fill="#e9624d"/>
<rect x="1041.14" y="1783.50" width="78.20" height="44.89" fill="#c4d7dc"/>
<rect x="1119.34" y="1783.50" width="15.64" height="44.89" fill="#d8e0e4"/>
<rect x="1134.98" y="1783.50" width="15.64" height="44.89" fill="#e6e8ec"/>
<rect x="1150.62" y="1783.50" width="15.64" height="44.89" fill="#f5f1f2"/>
<rect x="1166.26" y="1783.50" width="15.64" height="44.89" fill="#7bbaca"/>
<rect x="1181.90" y="1783.50" width="15.64" height="44.89" fill="#45a7c2"/>
<rect x="1197.54" y="1783.50" width="46.92" height="44.89" fill="#7bbaca"/>
<rect x="1244.46" y="1783.50" width="31.28" height="44.89" fill="#a8ccd4"/>
<rect x="1275.74" y="1783.50" width="15.64" height="44.89" fill="#c4d7dc"/>
<rect x="1291.38" y="1783.50" width="78.20" height="44.89" fill="#e6e8ec"/>
<rect x="1369.58" y="1783.50" width="46.92" height="44.89" fill="#f5f1f2"/>
<rect x="1416.50" y="1783.50" width="31.28" height="44.89" fill="#c4d7dc"/>
<rect x="1447.78" y="1783.50" width="15.64" height="44.89" fill="#d8e0e4"/>
<rect x="1463.42" y="1783.50" width="31.28" height="44.89" fill="#f5f1f2"/>
<rect x="1494.70" y="1783.50" width="15.64" height="44.89" fill="#f8d9d5"/>
<rect x="1510.34" y="1783.50" width="31.28" height="44.89" fill="#f6c6be"/>
<rect x="1541.62" y="1783.50" width="31.28" height="44.89" fill="#ee7c67"/>
<rect x="1572.90" y="1783.50" width="15.64" height="44.89" fill="#f29a89"/>
<rect x="1588.54" y="1783.50" width="46.92" height="44.89" fill="#f4aea1"/>
<rect x="1635.46" y="1783.50" width="15.64" height="44.89" fill="#f6c6be"/>
<rect x="1651.10" y="1783.50" width="15.64" height="44.89" fill="#f8d9d5"/>
<rect x="790.90" y="1828.39" width="15.64" height="44.89" fill="#0b80b4"/>
<rect x="806.54" y="1828.39" width="15.64" height="44.89" fill="#1a94bb"/>
<rect x="822.18" y="1828.39" width="15.64" height="44.89" fill="#45a7c2"/>
<rect x="837.82" y="1828.39" width="15.64" height="44.89" fill="#a8ccd4"/>
<rect x="853.46" y="1828.39" width="15.64" height="44.89" fill="#f5f1f2"/>
<rect x="869.10" y="1828.39" width="15.64" height="44.89" fill="#f8e8e6"/>
<rect x="884.74" y="1828.39" width="15.64" height="44.89" fill="#f8d9d5"/>
<rect x="900.38" y="1828.39" width="15.64" height="44.89" fill="#f4aea1"/>
<rect x="916.02" y="1828.39" width="46.92" height="44.89" fill="#f6c6be"/>
<rect x="962.94" y="1828.39" width="15.64" height="44.89" fill="#f4aea1"/>
<rect x="978.58" y="1828.39" width="15.64" height="44.89" fill="#f6c6be"/>
<rect x="994.22" y="1828.39" width="46.92" height="44.89" fill="#f8d9d5"/>
<rect x="1041.14" y="1828.39" width="62.56" height="44.89" fill="#d8e0e4"/>
<rect x="1103.70" y="1828.39" width="62.56" height="44.89" fill="#c4d7dc"/>
<rect x="1166.26" y="1828.39" width="15.64" height="44.89" fill="#7bbaca"/>
<rect x="1181.90" y="1828.39" width="15.64" height="44.89" fill="#a8ccd4"/>
<rect x="1197.54" y="1828.39" width="15.64" height="44.89" fill="#d8e0e4"/>
<rect x="1213.18" y="1828.39" width="15.64" height="44.89" fill="#e6e8ec"/>
<rect x="1228.82" y="1828.39" width="15.64" height="44.89" fill="#f5f1f2"/>
<rect x="1244.46" y="1828.39" width="31.28" height="44.89" fill="#e6e8ec"/>
<rect x="1275.74" y="1828.39" width="15.64" height="44.89" fill="#f8e8e6"/>
<rect x="1291.38" y="1828.39" width="15.64" height="44.89" fill="#f5f1f2"/>
<rect x="1307.02" y="1828.39" width="15.64" height="44.89" fill="#e6e8ec"/>
<rect x="1322.66" y="1828.39" width="15.64" height="44.89" fill="#d8e0e4"/>
<rect x="1338.30" y="1828.39" width="46.92" height="44.89" fill="#c4d7dc"/>
<rect x="1385.22" y="1828.39" width="31.28" height="44.89" fill="#a8ccd4"/>
<rect x="1416.50" y="1828.39" width="31.28" height="44.89" fill="#c4d7dc"/>
<rect x="1447.78" y="1828.39" width="15.64" height="44.89" fill="#d8e0e4"/>
<rect x="1463.42" y="1828.39" width="15.64" height="44.89" fill="#f5f1f2"/>
<rect x="1479.06" y="1828.39" width="31.28" height="44.89" fill="#e6e8ec"/>
<rect x="1510.34" y="1828.39" width="31.28" height="44.89" fill="#f5f1f2"/>
<rect x="1541.62" y="1828.39" width="31.28" height="44.89" fill="#f4aea1"/>
<rect x="1572.90" y="1828.39" width="15.64" height="44.89" fill="#f6c6be"/>
<rect x="1588.54" y="1828.39" width="31.28" height="44.89" fill="#f8d9d5"/>
<rect x="1619.82" y="1828.39" width="31.28" height="44.89" fill="#f8e8e6"/>
<rect x="1651.10" y="1828.39" width="15.64" height="44.89" fill="#f5f1f2"/>
<rect x="790.90" y="1873.28" width="15.64" height="44.89" fill="#7bbaca"/>
<rect x="806.54" y="1873.28" width="15.64" height="44.89" fill="#d8e0e4"/>
<rect x="822.18" y="1873.28" width="15.64" height="44.89" fill="#e6e8ec"/>
<rect x="837.82" y="1873.28" width="15.64" height="44.89" fill="#f5f1f2"/>
<rect x="853.46" y="1873.28" width="15.64" height="44.89" fill="#f6c6be"/>
<rect x="869.10" y="1873.28" width="46.92" height="44.89" fill="#f4aea1"/>
<rect x="916.02" y="1873.28" width="15.64" height="44.89" fill="#f8d9d5"/>
<rect x="931.66" y="1873.28" width="46.92" height="44.89" fill="#f6c6be"/>
<rect x="978.58" y="1873.28" width="62.56" height="44.89" fill="#f4aea1"/>
<rect x="1041.14" y="1873.28" width="15.64" height="44.89" fill="#f8e8e6"/>
<rect x="1056.78" y="1873.28" width="62.56" height="44.89" fill="#f8d9d5"/>
<rect x="1119.34" y="1873.28" width="31.28" height="44.89" fill="#f6c6be"/>
<rect x="1150.62" y="1873.28" width="15.64" height="44.89" fill="#f4aea1"/>
<rect x="1166.26" y="1873.28" width="15.64" height="44.89" fill="#c4d7dc"/>
<rect x="1181.90" y="1873.28" width="15.64" height="44.89" fill="#d8e0e4"/>
<rect x="1197.54" y="1873.28" width="15.64" height="44.89" fill="#e6e8ec"/>
<rect x="1213.18" y="1873.28" width="46.92" height="44.89" fill="#f5f1f2"/>
<rect x="1260.10" y="1873.28" width="15.64" height="44.89" fill="#f8e8e6"/>
<rect x="1275.74" y="1873.28" width="15.64" height="44.89" fill="#f8d9d5"/>
<rect x="1291.38" y="1873.28" width="15.64" height="44.89" fill="#f8e8e6"/>
<rect x="1307.02" y="1873.28" width="62.56" height="44.89" fill="#f5f1f2"/>
<rect x="1369.58" y="1873.28" width="46.92" height="44.89" fill="#f8e8e6"/>
<rect x="1416.50" y="1873.28" width="62.56" height="44.89" fill="#e6e8ec"/>
<rect x="1479.06" y="1873.28" width="31.28" height="44.89" fill="#f5f1f2"/>
<rect x="1510.34" y="1873.28" width="31.28" height="44.89" fill="#f8d9d5"/>
<rect x="1541.62" y="1873.28" width="15.64" height="44.89" fill="#f8e8e6"/>
<rect x="1557.26" y="1873.28" width="15.64" height="44.89" fill="#f8d9d5"/>
<rect x="1572.90" y="1873.28" width="15.64" height="44.89" fill="#f6c6be"/>
<rect x="1588.54" y="1873.28" width="31.28" height="44.89" fill="#f4aea1"/>
<rect x="1619.82" y="1873.28" width="15.64" height="44.89" fill="#f29a89"/>
<rect x="1635.46" y="1873.28" width="15.64" height="44.89" fill="#f4aea1"/>
<rect x="1651.10" y="1873.28" width="15.64" height="44.89" fill="#f6c6be"/>
<rect x="790.90" y="1918.17" width="15.64" height="44.89" fill="#e6e8ec"/>
<rect x="806.54" y="1918.17" width="15.64" height="44.89" fill="#f8e8e6"/>
<rect x="822.18" y="1918.17" width="15.64" height="44.89" fill="#f8d9d5"/>
<rect x="837.82" y="1918.17" width="15.64" height="44.89" fill="#f6c6be"/>
<rect x="853.46" y="1918.17" width="15.64" height="44.89" fill="#f4aea1"/>
<rect x="869.10" y="1918.17" width="46.92" height="44.89" fill="#f29a89"/>
<rect x="916.02" y="1918.17" width="203.32" height="44.89" fill="#ee7c67"/>
<rect x="1119.34" y="1918.17" width="15.64" height="44.89" fill="#f29a89"/>
<rect x="1134.98" y="1918.17" width="15.64" height="44.89" fill="#ee7c67"/>
<rect x="1150.62" y="1918.17" width="15.64" height="44.89" fill="#f29a89"/>
<rect x="1166.26" y="1918.17" width="15.64" height="44.89" fill="#7bbaca"/>
<rect x="1181.90" y="1918.17" width="15.64" height="44.89" fill="#45a7c2"/>
<rect x="1197.54" y="1918.17" width="46.92" height="44.89" fill="#7bbaca"/>
<rect x="1244.46" y="1918.17" width="46.92" height="44.89" fill="#a8ccd4"/>
<rect x="1291.38" y="1918.17" width="46.92" height="44.89" fill="#45a7c2"/>
<rect x="1338.30" y="1918.17" width="78.20" height="44.89" fill="#7bbaca"/>
<rect x="1416.50" y="1918.17" width="15.64" height="44.89" fill="#f5f1f2"/>
<rect x="1432.14" y="1918.17" width="15.64" height="44.89" fill="#e6e8ec"/>
<rect x="1447.78" y="1918.17" width="15.64" height="44.89" fill="#d8e0e4"/>
<rect x="1463.42" y="1918.17" width="31.28" height="44.89" fill="#c4d7dc"/>
<rect x="1494.70" y="1918.17" width="31.28" height="44.89" fill="#d8e0e4"/>
<rect x="1525.98" y="1918.17" width="15.64" height="44.89" fill="#c4d7dc"/>
<rect x="1541.62" y="1918.17" width="31.28" height="44.89" fill="#f8d9d5"/>
<rect x="1572.90" y="1918.17" width="93.84" height="44.89" fill="#f8e8e6"/>
<rect x="790.90" y="1963.06" width="15.64" height="44.89" fill="#f8e8e6"/>
<rect x="806.54" y="1963.06" width="15.64" height="44.89" fill="#f8d9d5"/>
<rect x="822.18" y="1963.06" width="15.64" height="44.89" fill="#f6c6be"/>
<rect x="837.82" y="1963.06" width="31.28" height="44.89" fill="#f4aea1"/>
<rect x="869.10" y="1963.06" width="15.64" height="44.89" fill="#f29a89"/>
<rect x="884.74" y="1963.06" width="31.28" height="44.89" fill="#ee7c67"/>
<rect x="916.02" y="1963.06" width="15.64" height="44.89" fill="#e04a36"/>
<rect x="931.66" y="1963.06" width="109.48" height="44.89" fill="#cf2a25"/>
<rect x="1041.14" y="1963.06" width="15.64" height="44.89" fill="#f8d9d5"/>
<rect x="1056.78" y="1963.06" width="62.56" height="44.89" fill="#f6c6be"/>
<rect x="1119.34" y="1963.06" width="46.92" height="44.89" fill="#f4aea1"/>
<rect x="1166.26" y="1963.06" width="15.64" height="44.89" fill="#f5f1f2"/>
<rect x="1181.90" y="1963.06" width="31.28" height="44.89" fill="#f8d9d5"/>
<rect x="1213.18" y="1963.06" width="31.28" height="44.89" fill="#f6c6be"/>
<rect x="1244.46" y="1963.06" width="46.92" height="44.89" fill="#f4aea1"/>
<rect x="1291.38" y="1963.06" width="15.64" height="44.89" fill="#e6e8ec"/>
<rect x="1307.02" y="1963.06" width="93.84" height="44.89" fill="#f5f1f2"/>
<rect x="1400.86" y="1963.06" width="15.64" height="44.89" fill="#f8e8e6"/>
<rect x="1416.50" y="1963.06" width="31.28" height="44.89" fill="#45a7c2"/>
<rect x="1447.78" y="1963.06" width="46.92" height="44.89" fill="#7bbaca"/>
<rect x="1494.70" y="1963.06" width="15.64" height="44.89" fill="#a8ccd4"/>
<rect x="1510.34" y="1963.06" width="31.28" height="44.89" fill="#c4d7dc"/>
<rect x="1541.62" y="1963.06" width="46.92" height="44.89" fill="#f4aea1"/>
<rect x="1588.54" y="1963.06" width="62.56" height="44.89" fill="#f6c6be"/>
<rect x="1651.10" y="1963.06" width="15.64" height="44.89" fill="#f8d9d5"/>
<rect x="790.90" y="2007.94" width="15.64" height="44.89" fill="#f8d9d5"/>
<rect x="806.54" y="2007.94" width="15.64" height="44.89" fill="#f6c6be"/>
<rect x="822.18" y="2007.94" width="46.92" height="44.89" fill="#f4aea1"/>
<rect x="869.10" y="2007.94" width="31.28" height="44.89" fill="#f29a89"/>
<rect x="900.38" y="2007.94" width="15.64" height="44.89" fill="#ee7c67"/>
<rect x="916.02" y="2007.94" width="15.64" height="44.89" fill="#f4aea1"/>
<rect x="931.66" y="2007.94" width="15.64" height="44.89" fill="#f29a89"/>
<rect x="947.30" y="2007.94" width="62.56" height="44.89" fill="#ee7c67"/>
<rect x="1009.86" y="2007.94" width="31.28" height="44.89" fill="#e9624d"/>
<rect x="1041.14" y="2007.94" width="31.28" height="44.89" fill="#7bbaca"/>
<rect x="1072.42" y="2007.94" width="31.28" height="44.89" fill="#45a7c2"/>
<rect x="1103.70" y="2007.94" width="46.92" height="44.89" fill="#7bbaca"/>
<rect x="1150.62" y="2007.94" width="15.64" height="44.89" fill="#a8ccd4"/>
<rect x="1166.26" y="2007.94" width="15.64" height="44.89" fill="#f5f1f2"/>
<rect x="1181.90" y="2007.94" width="15.64" height="44.89" fill="#f6c6be"/>
<rect x="1197.54" y="2007.94" width="15.64" height="44.89" fill="#f4aea1"/>
<rect x="1213.18" y="2007.94" width="31.28" height="44.89" fill="#f29a89"/>
<rect x="1244.46" y="2007.94" width="31.28" height="44.89" fill="#ee7c67"/>
<rect x="1275.74" y="2007.94" width="15.64" height="44.89" fill="#e9624d"/>
<rect x="1291.38" y="2007.94" width="15.64" height="44.89" fill="#ee7c67"/>
<rect x="1307.02" y="2007.94" width="31.28" height="44.89" fill="#e9624d"/>
<rect x="1338.30" y="2007.94" width="31.28" height="44.89" fill="#ee7c67"/>
<rect x="1369.58" y="2007.94" width="31.28" height="44.89" fill="#f29a89"/>
<rect x="1400.86" y="2007.94" width="15.64" height="44.89" fill="#ee7c67"/>
<rect x="1416.50" y="2007.94" width="31.28" height="44.89" fill="#45a7c2"/>
<rect x="1447.78" y="2007.94" width="31.28" height="44.89" fill="#7bbaca"/>
<rect x="1479.06" y="2007.94" width="31.28" height="44.89" fill="#a8ccd4"/>
<rect x="1510.34" y="2007.94" width="31.28" height="44.89" fill="#c4d7dc"/>
<rect x="1541.62" y="2007.94" width="78.20" height="44.89" fill="#ee7c67"/>
<rect x="1619.82" y="2007.94" width="15.64" height="44.89" fill="#f29a89"/>
<rect x="1635.46" y="2007.94" width="15.64" height="44.89" fill="#ee7c67"/>
<rect x="1651.10" y="2007.94" width="15.64" height="44.89" fill="#f29a89"/>
<rect x="790.90" y="2052.83" width="15.64" height="44.89" fill="#f8e8e6"/>
<rect x="806.54" y="2052.83" width="46.92" height="44.89" fill="#f5f1f2"/>
<rect x="853.46" y="2052.83" width="62.56" height="44.89" fill="#e6e8ec"/>
<rect x="916.02" y="2052.83" width="31.28" height="44.89" fill="#f4aea1"/>
<rect x="947.30" y="2052.83" width="62.56" height="44.89" fill="#f29a89"/>
<rect x="1009.86" y="2052.83" width="31.28" height="44.89" fill="#ee7c67"/>
<rect x="1041.14" y="2052.83" width="31.28" height="44.89" fill="#c4d7dc"/>
<rect x="1072.42" y="2052.83" width="93.84" height="44.89" fill="#a8ccd4"/>
<rect x="1166.26" y="2052.83" width="15.64" height="44.89" fill="#f5f1f2"/>
<rect x="1181.90" y="2052.83" width="15.64" height="44.89" fill="#f6c6be"/>
<rect x="1197.54" y="2052.83" width="15.64" height="44.89" fill="#f4aea1"/>
<rect x="1213.18" y="2052.83" width="62.56" height="44.89" fill="#f29a89"/>
<rect x="1275.74" y="2052.83" width="15.64" height="44.89" fill="#f4aea1"/>
<rect x="1291.38" y="2052.83" width="31.28" height="44.89" fill="#f8e8e6"/>
<rect x="1322.66" y="2052.83" width="31.28" height="44.89" fill="#f5f1f2"/>
<rect x="1353.94" y="2052.83" width="31.28" height="44.89" fill="#e6e8ec"/>
<rect x="1385.22" y="2052.83" width="31.28" height="44.89" fill="#f5f1f2"/>
<rect x="1416.50" y="2052.83" width="62.56" height="44.89" fill="#0b80b4"/>
<rect x="1479.06" y="2052.83" width="31.28" height="44.89" fill="#1a94bb"/>
<rect x="1510.34" y="2052.83" width="31.28" height="44.89" fill="#45a7c2"/>
<rect x="1541.62" y="2052.83" width="15.64" height="44.89" fill="#f8d9d5"/>
<rect x="1557.26" y="2052.83" width="31.28" height="44.89" fill="#f5f1f2"/>
<rect x="1588.54" y="2052.83" width="15.64" height="44.89" fill="#f8e8e6"/>
<rect x="1604.18" y="2052.83" width="31.28" height="44.89" fill="#f5f1f2"/>
<rect x="1635.46" y="2052.83" width="31.28" height="44.89" fill="#f8e8e6"/>
<rect x="790.90" y="2097.72" width="62.56" height="44.89" fill="#f5f1f2"/>
<rect x="853.46" y="2097.72" width="15.64" height="44.89" fill="#e6e8ec"/>
<rect x="869.10" y="2097.72" width="31.28" height="44.89" fill="#f5f1f2"/>
<rect x="900.38" y="2097.72" width="15.64" height="44.89" fill="#f8e8e6"/>
<rect x="916.02" y="2097.72" width="125.12" height="44.89" fill="#ee7c67"/>
<rect x="1041.14" y="2097.72" width="15.64" height="44.89" fill="#f8d9d5"/>
<rect x="1056.78" y="2097.72" width="62.56" height="44.89" fill="#f6c6be"/>
<rect x="1119.34" y="2097.72" width="62.56" height="44.89" fill="#f4aea1"/>
<rect x="1181.90" y="2097.72" width="15.64" height="44.89" fill="#ee7c67"/>
<rect x="1197.54" y="2097.72" width="15.64" height="44.89" fill="#e9624d"/>
<rect x="1213.18" y="2097.72" width="78.20" height="44.89" fill="#ee7c67"/>
<rect x="1291.38" y="2097.72" width="109.48" height="44.89" fill="#f8d9d5"/>
<rect x="1400.86" y="2097.72" width="15.64" height="44.89" fill="#f6c6be"/>
<rect x="1416.50" y="2097.72" width="31.28" height="44.89" fill="#1a94bb"/>
<rect x="1447.78" y="2097.72" width="93.84" height="44.89" fill="#0b80b4"/>
<rect x="1541.62" y="2097.72" width="31.28" height="44.89" fill="#c4d7dc"/>
<rect x="1572.90" y="2097.72" width="62.56" height="44.89" fill="#a8ccd4"/>
<rect x="1635.46" y="2097.72" width="31.28" height="44.89" fill="#c4d7dc"/>
<rect x="790.90" y="2142.61" width="15.64" height="44.89" fill="#f5f1f2"/>
<rect x="806.54" y="2142.61" width="15.64" height="44.89" fill="#f8d9d5"/>
<rect x="822.18" y="2142.61" width="15.64" height="44.89" fill="#f6c6be"/>
<rect x="837.82" y="2142.61" width="31.28" height="44.89" fill="#f4aea1"/>
<rect x="869.10" y="2142.61" width="78.20" height="44.89" fill="#f29a89"/>
<rect x="947.30" y="2142.61" width="31.28" height="44.89" fill="#ee7c67"/>
<rect x="978.58" y="2142.61" width="15.64" height="44.89" fill="#e9624d"/>
<rect x="994.22" y="2142.61" width="46.92" height="44.89" fill="#ee7c67"/>
<rect x="1041.14" y="2142.61" width="15.64" height="44.89" fill="#f8d9d5"/>
<rect x="1056.78" y="2142.61" width="46.92" height="44.89" fill="#f6c6be"/>
<rect x="1103.70" y="2142.61" width="31.28" height="44.89" fill="#f4aea1"/>
<rect x="1134.98" y="2142.61" width="31.28" height="44.89" fill="#f29a89"/>
<rect x="1166.26" y="2142.61" width="15.64" height="44.89" fill="#f8e8e6"/>
<rect x="1181.90" y="2142.61" width="31.28" height="44.89" fill="#f8d9d5"/>
<rect x="1213.18" y="2142.61" width="46.92" height="44.89" fill="#f6c6be"/>
<rect x="1260.10" y="2142.61" width="156.40" height="44.89" fill="#f4aea1"/>
<rect x="1416.50" y="2142.61" width="93.84" height="44.89" fill="#7bbaca"/>
<rect x="1510.34" y="2142.61" width="31.28" height="44.89" fill="#a8ccd4"/>
<rect x="1541.62" y="2142.61" width="31.28" height="44.89" fill="#e6e8ec"/>
<rect x="1572.90" y="2142.61" width="31.28" height="44.89" fill="#d8e0e4"/>
<rect x="1604.18" y="2142.61" width="46.92" height="44.89" fill="#e6e8ec"/>
<rect x="1651.10" y="2142.61" width="15.64" height="44.89" fill="#d8e0e4"/>
<rect x="790.90" y="2187.50" width="31.28" height="44.89" fill="#f29a89"/>
<rect x="822.18" y="2187.50" width="15.64" height="44.89" fill="#f4aea1"/>
<rect x="837.82" y="2187.50" width="15.64" height="44.89" fill="#f6c6be"/>
<rect x="853.46" y="2187.50" width="15.64" height="44.89" fill="#f8d9d5"/>
<rect x="869.10" y="2187.50" width="15.64" height="44.89" fill="#f8e8e6"/>
<rect x="884.74" y="2187.50" width="15.64" height="44.89" fill="#f5f1f2"/>
<rect x="900.38" y="2187.50" width="15.64" height="44.89" fill="#c4d7dc"/>
<rect x="916.02" y="2187.50" width="15.64" height="44.89" fill="#f6c6be"/>
<rect x="931.66" y="2187.50" width="31.28" height="44.89" fill="#f8d9d5"/>
<rect x="962.94" y="2187.50" width="46.92" height="44.89" fill="#f8e8e6"/>
<rect x="1009.86" y="2187.50" width="15.64" height="44.89" fill="#f8d9d5"/>
<rect x="1025.50" y="2187.50" width="15.64" height="44.89" fill="#f8e8e6"/>
<rect x="1041.14" y="2187.50" width="15.64" height="44.89" fill="#f4aea1"/>
<rect x="1056.78" y="2187.50" width="109.48" height="44.89" fill="#f29a89"/>
<rect x="1166.26" y="2187.50" width="15.64" height="44.89" fill="#f4aea1"/>
<rect x="1181.90" y="2187.50" width="15.64" height="44.89" fill="#f29a89"/>
<rect x="1197.54" y="2187.50" width="15.64" height="44.89" fill="#f4aea1"/>
<rect x="1213.18" y="2187.50" width="46.92" height="44.89" fill="#f6c6be"/>
<rect x="1260.10" y="2187.50" width="15.64" height="44.89" fill="#f8d9d5"/>
<rect x="1275.74" y="2187.50" width="15.64" height="44.89" fill="#f8e8e6"/>
<rect x="1291.38" y="2187.50" width="15.64" height="44.89" fill="#f8d9d5"/>
<rect x="1307.02" y="2187.50" width="31.28" height="44.89" fill="#f6c6be"/>
<rect x="1338.30" y="2187.50" width="62.56" height="44.89" fill="#f4aea1"/>
<rect x="1400.86" y="2187.50" width="15.64" height="44.89" fill="#f29a89"/>
<rect x="1416.50" y="2187.50" width="31.28" height="44.89" fill="#45a7c2"/>
<rect x="1447.78" y="2187.50" width="31.28" height="44.89" fill="#1a94bb"/>
<rect x="1479.06" y="2187.50" width="46.92" height="44.89" fill="#0b80b4"/>
<rect x="1525.98" y="2187.50" width="62.56" height="44.89" fill="#1a94bb"/>
<rect x="1588.54" y="2187.50" width="78.20" height="44.89" fill="#45a7c2"/>
<rect x="790.90" y="2232.38" width="31.28" height="44.89" fill="#f5f1f2"/>
<rect x="822.18" y="2232.38" width="15.64" height="44.89" fill="#e6e8ec"/>
<rect x="837.82" y="2232.38" width="15.64" height="44.89" fill="#a8ccd4"/>
<rect x="853.46" y="2232.38" width="31.28" height="44.89" fill="#7bbaca"/>
<rect x="884.74" y="2232.38" width="15.64" height="44.89" fill="#45a7c2"/>
<rect x="900.38" y="2232.38" width="15.64" height="44.89" fill="#7bbaca"/>
<rect x="916.02" y="2232.38" width="46.92" height="44.89" fill="#f29a89"/>
<rect x="962.94" y="2232.38" width="46.92" height="44.89" fill="#f4aea1"/>
<rect x="1009.86" y="2232.38" width="15.64" height="44.89" fill="#f6c6be"/>
<rect x="1025.50" y="2232.38" width="15.64" height="44.89" fill="#f8d9d5"/>
<rect x="1041.14" y="2232.38" width="31.28" height="44.89" fill="#ee7c67"/>
<rect x="1072.42" y="2232.38" width="46.92" height="44.89" fill="#f29a89"/>
<rect x="1119.34" y="2232.38" width="46.92" height="44.89" fill="#f4aea1"/>
<rect x="1166.26" y="2232.38" width="15.64" height="44.89" fill="#d8e0e4"/>
<rect x="1181.90" y="2232.38" width="109.48" height="44.89" fill="#e6e8ec"/>
<rect x="1291.38" y="2232.38" width="109.48" height="44.89" fill="#f5f1f2"/>
<rect x="1400.86" y="2232.38" width="15.64" height="44.89" fill="#e6e8ec"/>
<rect x="1416.50" y="2232.38" width="46.92" height="44.89" fill="#45a7c2"/>
<rect x="1463.42" y="2232.38" width="31.28" height="44.89" fill="#1a94bb"/>
<rect x="1494.70" y="2232.38" width="15.64" height="44.89" fill="#45a7c2"/>
<rect x="1510.34" y="2232.38" width="31.28" height="44.89" fill="#1a94bb"/>
<rect x="1541.62" y="2232.38" width="31.28" height="44.89" fill="#7bbaca"/>
<rect x="1572.90" y="2232.38" width="78.20" height="44.89" fill="#45a7c2"/>
<rect x="1651.10" y="2232.38" width="15.64" height="44.89" fill="#7bbaca"/>
<rect x="790.90" y="2277.27" width="31.28" height="44.89" fill="#e6e8ec"/>
<rect x="822.18" y="2277.27" width="46.92" height="44.89" fill="#f5f1f2"/>
<rect x="869.10" y="2277.27" width="15.64" height="44.89" fill="#e6e8ec"/>
<rect x="884.74" y="2277.27" width="31.28" height="44.89" fill="#c4d7dc"/>
<rect x="916.02" y="2277.27" width="31.28" height="44.89" fill="#f5f1f2"/>
<rect x="947.30" y="2277.27" width="62.56" height="44.89" fill="#e6e8ec"/>
<rect x="1009.86" y="2277.27" width="31.28" height="44.89" fill="#d8e0e4"/>
<rect x="1041.14" y="2277.27" width="31.28" height="44.89" fill="#f8d9d5"/>
<rect x="1072.42" y="2277.27" width="15.64" height="44.89" fill="#f6c6be"/>
<rect x="1088.06" y="2277.27" width="46.92" height="44.89" fill="#f4aea1"/>
<rect x="1134.98" y="2277.27" width="31.28" height="44.89" fill="#f29a89"/>
<rect x="1166.26" y="2277.27" width="62.56" height="44.89" fill="#f5f1f2"/>
<rect x="1228.82" y="2277.27" width="62.56" height="44.89" fill="#e6e8ec"/>
<rect x="1291.38" y="2277.27" width="15.64" height="44.89" fill="#d8e0e4"/>
<rect x="1307.02" y="2277.27" width="46.92" height="44.89" fill="#e6e8ec"/>
<rect x="1353.94" y="2277.27" width="46.92" height="44.89" fill="#f5f1f2"/>
<rect x="1400.86" y="2277.27" width="15.64" height="44.89" fill="#e6e8ec"/>
<rect x="1416.50" y="2277.27" width="31.28" height="44.89" fill="#f6c6be"/>
<rect x="1447.78" y="2277.27" width="31.28" height="44.89" fill="#f8d9d5"/>
<rect x="1479.06" y="2277.27" width="31.28" height="44.89" fill="#f8e8e6"/>
<rect x="1510.34" y="2277.27" width="15.64" height="44.89" fill="#f5f1f2"/>
<rect x="1525.98" y="2277.27" width="15.64" height="44.89" fill="#f8e8e6"/>
<rect x="1541.62" y="2277.27" width="15.64" height="44.89" fill="#a8ccd4"/>
<rect x="1557.26" y="2277.27" width="93.84" height="44.89" fill="#7bbaca"/>
<rect x="1651.10" y="2277.27" width="15.64" height="44.89" fill="#a8ccd4"/>
<rect x="790.90" y="2322.16" width="15.64" height="44.89" fill="#f6c6be"/>
<rect x="806.54" y="2322.16" width="15.64" height="44.89" fill="#f4aea1"/>
<rect x="822.18" y="2322.16" width="46.92" height="44.89" fill="#f29a89"/>
<rect x="869.10" y="2322.16" width="15.64" height="44.89" fill="#f4aea1"/>
<rect x="884.74" y="2322.16" width="15.64" height="44.89" fill="#f6c6be"/>
<rect x="900.38" y="2322.16" width="31.28" height="44.89" fill="#f8d9d5"/>
<rect x="931.66" y="2322.16" width="31.28" height="44.89" fill="#f8e8e6"/>
<rect x="962.94" y="2322.16" width="31.28" height="44.89" fill="#f5f1f2"/>
<rect x="994.22" y="2322.16" width="31.28" height="44.89" fill="#e6e8ec"/>
<rect x="1025.50" y="2322.16" width="15.64" height="44.89" fill="#d8e0e4"/>
<rect x="1041.14" y="2322.16" width="15.64" height="44.89" fill="#ee7c67"/>
<rect x="1056.78" y="2322.16" width="62.56" height="44.89" fill="#e9624d"/>
<rect x="1119.34" y="2322.16" width="31.28" height="44.89" fill="#e04a36"/>
<rect x="1150.62" y="2322.16" width="15.64" height="44.89" fill="#e9624d"/>
<rect x="1166.26" y="2322.16" width="31.28" height="44.89" fill="#f4aea1"/>
<rect x="1197.54" y="2322.16" width="15.64" height="44.89" fill="#f6c6be"/>
<rect x="1213.18" y="2322.16" width="15.64" height="44.89" fill="#f8d9d5"/>
<rect x="1228.82" y="2322.16" width="15.64" height="44.89" fill="#f8e8e6"/>
<rect x="1244.46" y="2322.16" width="15.64" height="44.89" fill="#f5f1f2"/>
<rect x="1260.10" y="2322.16" width="31.28" height="44.89" fill="#e6e8ec"/>
<rect x="1291.38" y="2322.16" width="46.92" height="44.89" fill="#7bbaca"/>
<rect x="1338.30" y="2322.16" width="31.28" height="44.89" fill="#a8ccd4"/>
<rect x="1369.58" y="2322.16" width="46.92" height="44.89" fill="#c4d7dc"/>
<rect x="1416.50" y="2322.16" width="31.28" height="44.89" fill="#f6c6be"/>
<rect x="1447.78" y="2322.16" width="15.64" height="44.89" fill="#f8d9d5"/>
<rect x="1463.42" y="2322.16" width="15.64" height="44.89" fill="#f5f1f2"/>
<rect x="1479.06" y="2322.16" width="15.64" height="44.89" fill="#e6e8ec"/>
<rect x="1494.70" y="2322.16" width="15.64" height="44.89" fill="#d8e0e4"/>
<rect x="1510.34" y="2322.16" width="31.28" height="44.89" fill="#c4d7dc"/>
<rect x="1541.62" y="2322.16" width="46.92" height="44.89" fill="#45a7c2"/>
<rect x="1588.54" y="2322.16" width="31.28" height="44.89" fill="#7bbaca"/>
<rect x="1619.82" y="2322.16" width="46.92" height="44.89" fill="#a8ccd4"/>
<rect x="790.90" y="2367.05" width="31.28" height="44.89" fill="#f4aea1"/>
<rect x="822.18" y="2367.05" width="31.28" height="44.89" fill="#f29a89"/>
<rect x="853.46" y="2367.05" width="31.28" height="44.89" fill="#f4aea1"/>
<rect x="884.74" y="2367.05" width="15.64" height="44.89" fill="#f6c6be"/>
<rect x="900.38" y="2367.05" width="15.64" height="44.89" fill="#f8d9d5"/>
<rect x="916.02" y="2367.05" width="15.64" height="44.89" fill="#f5f1f2"/>
<rect x="931.66" y="2367.05" width="15.64" height="44.89" fill="#e6e8ec"/>
<rect x="947.30" y="2367.05" width="31.28" height="44.89" fill="#c4d7dc"/>
<rect x="978.58" y="2367.05" width="62.56" height="44.89" fill="#a8ccd4"/>
<rect x="1041.14" y="2367.05" width="125.12" height="44.89" fill="#f4aea1"/>
<rect x="1166.26" y="2367.05" width="15.64" height="44.89" fill="#f8d9d5"/>
<rect x="1181.90" y="2367.05" width="15.64" height="44.89" fill="#f5f1f2"/>
<rect x="1197.54" y="2367.05" width="15.64" height="44.89" fill="#c4d7dc"/>
<rect x="1213.18" y="2367.05" width="78.20" height="44.89" fill="#a8ccd4"/>
<rect x="1291.38" y="2367.05" width="15.64" height="44.89" fill="#7bbaca"/>
<rect x="1307.02" y="2367.05" width="46.92" height="44.89" fill="#a8ccd4"/>
<rect x="1353.94" y="2367.05" width="31.28" height="44.89" fill="#c4d7dc"/>
<rect x="1385.22" y="2367.05" width="15.64" height="44.89" fill="#d8e0e4"/>
<rect x="1400.86" y="2367.05" width="15.64" height="44.89" fill="#e6e8ec"/>
<rect x="1416.50" y="2367.05" width="31.28" height="44.89" fill="#f29a89"/>
<rect x="1447.78" y="2367.05" width="46.92" height="44.89" fill="#f4aea1"/>
<rect x="1494.70" y="2367.05" width="15.64" height="44.89" fill="#f6c6be"/>
<rect x="1510.34" y="2367.05" width="31.28" height="44.89" fill="#f8d9d5"/>
<rect x="1541.62" y="2367.05" width="15.64" height="44.89" fill="#a8ccd4"/>
<rect x="1557.26" y="2367.05" width="31.28" height="44.89" fill="#c4d7dc"/>
<rect x="1588.54" y="2367.05" width="15.64" height="44.89" fill="#d8e0e4"/>
<rect x="1604.18" y="2367.05" width="31.28" height="44.89" fill="#e6e8ec"/>
<rect x="1635.46" y="2367.05" width="31.28" height="44.89" fill="#f5f1f2"/>
<rect x="790.90" y="2411.94" width="46.92" height="44.89" fill="#f6c6be"/>
<rect x="837.82" y="2411.94" width="31.28" height="44.89" fill="#f8d9d5"/>
<rect x="869.10" y="2411.94" width="15.64" height="44.89" fill="#f8e8e6"/>
<rect x="884.74" y="2411.94" width="15.64" height="44.89" fill="#e6e8ec"/>
<rect x="900.38" y="2411.94" width="31.28" height="44.89" fill="#c4d7dc"/>
<rect x="931.66" y="2411.94" width="31.28" height="44.89" fill="#a8ccd4"/>
<rect x="962.94" y="2411.94" width="46.92" height="44.89" fill="#7bbaca"/>
<rect x="1009.86" y="2411.94" width="31.28" height="44.89" fill="#45a7c2"/>
<rect x="1041.14" y="2411.94" width="15.64" height="44.89" fill="#e04a36"/>
<rect x="1056.78" y="2411.94" width="62.56" height="44.89" fill="#e9624d"/>
<rect x="1119.34" y="2411.94" width="31.28" height="44.89" fill="#ee7c67"/>
<rect x="1150.62" y="2411.94" width="15.64" height="44.89" fill="#f29a89"/>
<rect x="1166.26" y="2411.94" width="15.64" height="44.89" fill="#f8e8e6"/>
<rect x="1181.90" y="2411.94" width="15.64" height="44.89" fill="#e6e8ec"/>
<rect x="1197.54" y="2411.94" width="15.64" height="44.89" fill="#a8ccd4"/>
<rect x="1213.18" y="2411.94" width="31.28" height="44.89" fill="#7bbaca"/>
<rect x="1244.46" y="2411.94" width="93.84" height="44.89" fill="#45a7c2"/>
<rect x="1338.30" y="2411.94" width="15.64" height="44.89" fill="#7bbaca"/>
<rect x="1353.94" y="2411.94" width="46.92" height="44.89" fill="#a8ccd4"/>
<rect x="1400.86" y="2411.94" width="15.64" height="44.89" fill="#7bbaca"/>
<rect x="1416.50" y="2411.94" width="15.64" height="44.89" fill="#e9624d"/>
<rect x="1432.14" y="2411.94" width="15.64" height="44.89" fill="#e04a36"/>
<rect x="1447.78" y="2411.94" width="15.64" height="44.89" fill="#e9624d"/>
<rect x="1463.42" y="2411.94" width="31.28" height="44.89" fill="#ee7c67"/>
<rect x="1494.70" y="2411.94" width="15.64" height="44.89" fill="#f29a89"/>
<rect x="1510.34" y="2411.94" width="31.28" height="44.89" fill="#f4aea1"/>
<rect x="1541.62" y="2411.94" width="15.64" height="44.89" fill="#7bbaca"/>
<rect x="1557.26" y="2411.94" width="15.64" height="44.89" fill="#a8ccd4"/>
<rect x="1572.90" y="2411.94" width="15.64" height="44.89" fill="#c4d7dc"/>
<rect x="1588.54" y="2411.94" width="15.64" height="44.89" fill="#d8e0e4"/>
<rect x="1604.18" y="2411.94" width="31.28" height="44.89" fill="#e6e8ec"/>
<rect x="1635.46" y="2411.94" width="15.64" height="44.89" fill="#f5f1f2"/>
<rect x="1651.10" y="2411.94" width="15.64" height="44.89" fill="#f8d9d5"/>
<rect x="790.90" y="2456.82" width="31.28" height="44.89" fill="#f8d9d5"/>
<rect x="822.18" y="2456.82" width="15.64" height="44.89" fill="#f8e8e6"/>
<rect x="837.82" y="2456.82" width="31.28" height="44.89" fill="#e6e8ec"/>
<rect x="869.10" y="2456.82" width="31.28" height="44.89" fill="#d8e0e4"/>
<rect x="900.38" y="2456.82" width="15.64" height="44.89" fill="#e6e8ec"/>
<rect x="916.02" y="2456.82" width="31.28" height="44.89" fill="#c4d7dc"/>
<rect x="947.30" y="2456.82" width="93.84" height="44.89" fill="#a8ccd4"/>
<rect x="1041.14" y="2456.82" width="62.56" height="44.89" fill="#ee7c67"/>
<rect x="1103.70" y="2456.82" width="62.56" height="44.89" fill="#f29a89"/>
<rect x="1166.26" y="2456.82" width="15.64" height="44.89" fill="#c4d7dc"/>
<rect x="1181.90" y="2456.82" width="15.64" height="44.89" fill="#a8ccd4"/>
<rect x="1197.54" y="2456.82" width="46.92" height="44.89" fill="#7bbaca"/>
<rect x="1244.46" y="2456.82" width="46.92" height="44.89" fill="#a8ccd4"/>
<rect x="1291.38" y="2456.82" width="15.64" height="44.89" fill="#c4d7dc"/>
<rect x="1307.02" y="2456.82" width="15.64" height="44.89" fill="#d8e0e4"/>
<rect x="1322.66" y="2456.82" width="15.64" height="44.89" fill="#e6e8ec"/>
<rect x="1338.30" y="2456.82" width="15.64" height="44.89" fill="#f5f1f2"/>
<rect x="1353.94" y="2456.82" width="31.28" height="44.89" fill="#f8e8e6"/>
<rect x="1385.22" y="2456.82" width="15.64" height="44.89" fill="#f5f1f2"/>
<rect x="1400.86" y="2456.82" width="15.64" height="44.89" fill="#d8e0e4"/>
<rect x="1416.50" y="2456.82" width="15.64" height="44.89" fill="#f6c6be"/>
<rect x="1432.14" y="2456.82" width="31.28" height="44.89" fill="#f8d9d5"/>
<rect x="1463.42" y="2456.82" width="31.28" height="44.89" fill="#f8e8e6"/>
<rect x="1494.70" y="2456.82" width="15.64" height="44.89" fill="#f5f1f2"/>
<rect x="1510.34" y="2456.82" width="15.64" height="44.89" fill="#e6e8ec"/>
<rect x="1525.98" y="2456.82" width="15.64" height="44.89" fill="#f5f1f2"/>
<rect x="1541.62" y="2456.82" width="15.64" height="44.89" fill="#e6e8ec"/>
<rect x="1557.26" y="2456.82" width="15.64" height="44.89" fill="#f5f1f2"/>
<rect x="1572.90" y="2456.82" width="15.64" height="44.89" fill="#f8e8e6"/>
<rect x="1588.54" y="2456.82" width="15.64" height="44.89" fill="#f8d9d5"/>
<rect x="1604.18" y="2456.82" width="46.92" height="44.89" fill="#f6c6be"/>
<rect x="1651.10" y="2456.82" width="15.64" height="44.89" fill="#f4aea1"/>
<rect x="790.90" y="2501.71" width="15.64" height="44.89" fill="#f4aea1"/>
<rect x="806.54" y="2501.71" width="31.28" height="44.89" fill="#f6c6be"/>
<rect x="837.82" y="2501.71" width="62.56" height="44.89" fill="#f8d9d5"/>
<rect x="900.38" y="2501.71" width="15.64" height="44.89" fill="#f8e8e6"/>
<rect x="916.02" y="2501.71" width="125.12" height="44.89" fill="#0b80b4"/>
<rect x="1041.14" y="2501.71" width="15.64" height="44.89" fill="#f8d9d5"/>
<rect x="1056.78" y="2501.71" width="125.12" height="44.89" fill="#f6c6be"/>
<rect x="1181.90" y="2501.71" width="78.20" height="44.89" fill="#f5f1f2"/>
<rect x="1260.10" y="2501.71" width="31.28" height="44.89" fill="#f8e8e6"/>
<rect x="1291.38" y="2501.71" width="15.64" height="44.89" fill="#c4d7dc"/>
<rect x="1307.02" y="2501.71" width="46.92" height="44.89" fill="#d8e0e4"/>
<rect x="1353.94" y="2501.71" width="62.56" height="44.89" fill="#e6e8ec"/>
<rect x="1416.50" y="2501.71" width="31.28" height="44.89" fill="#e04a36"/>
<rect x="1447.78" y="2501.71" width="62.56" height="44.89" fill="#e9624d"/>
<rect x="1510.34" y="2501.71" width="31.28" height="44.89" fill="#ee7c67"/>
<rect x="1541.62" y="2501.71" width="15.64" height="44.89" fill="#f5f1f2"/>
<rect x="1557.26" y="2501.71" width="15.64" height="44.89" fill="#f6c6be"/>
<rect x="1572.90" y="2501.71" width="15.64" height="44.89" fill="#f4aea1"/>
<rect x="1588.54" y="2501.71" width="31.28" height="44.89" fill="#ee7c67"/>
<rect x="1619.82" y="2501.71" width="46.92" height="44.89" fill="#e9624d"/>
<path d="M790.90 1469.29H1666.74M790.90 1514.18H1666.74M790.90 1559.06H1666.74M790.90 1603.95H1666.74M790.90 1648.84H1666.74M790.90 1693.73H1666.74M790.90 1738.62H1666.74M790.90 1783.50H1666.74M790.90 1828.39H1666.74M790.90 1873.28H1666.74M790.90 1918.17H1666.74M790.90 1963.06H1666.74M790.90 2007.94H1666.74M790.90 2052.83H1666.74M790.90 2097.72H1666.74M790.90 2142.61H1666.74M790.90 2187.50H1666.74M790.90 2232.38H1666.74M790.90 2277.27H1666.74M790.90 2322.16H1666.74M790.90 2367.05H1666.74M790.90 2411.94H1666.74M790.90 2456.82H1666.74M790.90 2501.71H1666.74M806.54 1424.40V2546.60M822.18 1424.40V2546.60M837.82 1424.40V2546.60M853.46 1424.40V2546.60M869.10 1424.40V2546.60M884.74 1424.40V2546.60M900.38 1424.40V2546.60M931.66 1424.40V2546.60M947.30 1424.40V2546.60M962.94 1424.40V2546.60M978.58 1424.40V2546.60M994.22 1424.40V2546.60M1009.86 1424.40V2546.60M1025.50 1424.40V2546.60M1056.78 1424.40V2546.60M1072.42 1424.40V2546.60M1088.06 1424.40V2546.60M1103.70 1424.40V2546.60M1119.34 1424.40V2546.60M1134.98 1424.40V2546.60M1150.62 1424.40V2546.60M1181.90 1424.40V2546.60M1197.54 1424.40V2546.60M1213.18 1424.40V2546.60M1228.82 1424.40V2546.60M1244.46 1424.40V2546.60M1260.10 1424.40V2546.60M1275.74 1424.40V2546.60M1307.02 1424.40V2546.60M1322.66 1424.40V2546.60M1338.30 1424.40V2546.60M1353.94 1424.40V2546.60M1369.58 1424.40V2546.60M1385.22 1424.40V2546.60M1400.86 1424.40V2546.60M1432.14 1424.40V2546.60M1447.78 1424.40V2546.60M1463.42 1424.40V2546.60M1479.06 1424.40V2546.60M1494.70 1424.40V2546.60M1510.34 1424.40V2546.60M1525.98 1424.40V2546.60M1557.26 1424.40V2546.60M1572.90 1424.40V2546.60M1588.54 1424.40V2546.60M1604.18 1424.40V2546.60M1619.82 1424.40V2546.60M1635.46 1424.40V2546.60M1651.10 1424.40V2546.60" stroke="#000" stroke-width="2.00" fill="none"/>
<path d="M916.02 1424.40V2546.60M1041.14 1424.40V2546.60M1166.26 1424.40V2546.60M1291.38 1424.40V2546.60M1416.50 1424.40V2546.60M1541.62 1424.40V2546.60" stroke="#000" stroke-width="3.20" fill="none"/>
<rect x="790.90" y="1424.40" width="875.84" height="1122.20" fill="none" stroke="#000" stroke-width="3.00"/>
<text transform="translate(853.46 1411.90) scale(1 1.040)" font-size="24.40" text-anchor="middle">1</text>
<text transform="translate(978.58 1411.90) scale(1 1.040)" font-size="24.40" text-anchor="middle">2</text>
<text transform="translate(1103.70 1411.90) scale(1 1.040)" font-size="24.40" text-anchor="middle">3</text>
<text transform="translate(1228.82 1411.90) scale(1 1.040)" font-size="24.40" text-anchor="middle">4</text>
<text transform="translate(1353.94 1411.90) scale(1 1.040)" font-size="24.40" text-anchor="middle">5</text>
<text transform="translate(1479.06 1411.90) scale(1 1.040)" font-size="24.40" text-anchor="middle">6</text>
<text transform="translate(1604.18 1411.90) scale(1 1.040)" font-size="24.40" text-anchor="middle">7</text>
<rect x="438.00" y="1424.40" width="23.80" height="44.89" fill="#f76d80" stroke="#000" stroke-width="2.60"/>
<rect x="438.00" y="1469.29" width="23.80" height="44.89" fill="#fbe86b" stroke="#000" stroke-width="2.60"/>
<rect x="438.00" y="1514.18" width="23.80" height="44.89" fill="#f76d80" stroke="#000" stroke-width="2.60"/>
<rect x="438.00" y="1559.06" width="23.80" height="44.89" fill="#fbe86b" stroke="#000" stroke-width="2.60"/>
<rect x="438.00" y="1603.95" width="23.80" height="44.89" fill="#f76d80" stroke="#000" stroke-width="2.60"/>
<rect x="438.00" y="1648.84" width="23.80" height="44.89" fill="#f76d80" stroke="#000" stroke-width="2.60"/>
<rect x="438.00" y="1693.73" width="23.80" height="44.89" fill="#f76d80" stroke="#000" stroke-width="2.60"/>
<rect x="438.00" y="1738.62" width="23.80" height="44.89" fill="#f76d80" stroke="#000" stroke-width="2.60"/>
<rect x="438.00" y="1783.50" width="23.80" height="44.89" fill="#f76d80" stroke="#000" stroke-width="2.60"/>
<rect x="438.00" y="1828.39" width="23.80" height="44.89" fill="#87a3d6" stroke="#000" stroke-width="2.60"/>
<rect x="438.00" y="1873.28" width="23.80" height="44.89" fill="#f76d80" stroke="#000" stroke-width="2.60"/>
<rect x="438.00" y="1918.17" width="23.80" height="44.89" fill="#fbe86b" stroke="#000" stroke-width="2.60"/>
<rect x="438.00" y="1963.06" width="23.80" height="44.89" fill="#fbe86b" stroke="#000" stroke-width="2.60"/>
<rect x="438.00" y="2007.94" width="23.80" height="44.89" fill="#87a3d6" stroke="#000" stroke-width="2.60"/>
<rect x="438.00" y="2052.83" width="23.80" height="44.89" fill="#87a3d6" stroke="#000" stroke-width="2.60"/>
<rect x="438.00" y="2097.72" width="23.80" height="44.89" fill="#87a3d6" stroke="#000" stroke-width="2.60"/>
<rect x="438.00" y="2142.61" width="23.80" height="44.89" fill="#f76d80" stroke="#000" stroke-width="2.60"/>
<rect x="438.00" y="2187.50" width="23.80" height="44.89" fill="#fbe86b" stroke="#000" stroke-width="2.60"/>
<rect x="438.00" y="2232.38" width="23.80" height="44.89" fill="#f76d80" stroke="#000" stroke-width="2.60"/>
<rect x="438.00" y="2277.27" width="23.80" height="44.89" fill="#fbe86b" stroke="#000" stroke-width="2.60"/>
<rect x="438.00" y="2322.16" width="23.80" height="44.89" fill="#f76d80" stroke="#000" stroke-width="2.60"/>
<rect x="438.00" y="2367.05" width="23.80" height="44.89" fill="#f76d80" stroke="#000" stroke-width="2.60"/>
<rect x="438.00" y="2411.94" width="23.80" height="44.89" fill="#f76d80" stroke="#000" stroke-width="2.60"/>
<rect x="438.00" y="2456.82" width="23.80" height="44.89" fill="#f76d80" stroke="#000" stroke-width="2.60"/>
<rect x="438.00" y="2501.71" width="23.80" height="44.89" fill="#87a3d6" stroke="#000" stroke-width="2.60"/>
<text x="470.80" y="1456.40" font-size="24.70">Word Generation</text>
<text x="470.80" y="1501.29" font-size="24.70">Words</text>
<text x="470.80" y="1546.18" font-size="24.70">Calculation</text>
<text x="470.80" y="1591.06" font-size="24.70">Numbers</text>
<text x="470.80" y="1635.95" font-size="24.70">Quantitative Reasoning</text>
<text x="470.80" y="1680.84" font-size="24.70">Logical Reasoning</text>
<text x="470.80" y="1725.73" font-size="24.70">Vocabulary Knowledge</text>
<text x="470.80" y="1770.62" font-size="24.70">Spatial Reasoning</text>
<text x="470.80" y="1815.50" font-size="24.70">Planning</text>
<text x="470.80" y="1860.39" font-size="24.70">User Selected Leveling</text>
<text x="470.80" y="1905.28" font-size="24.70">Multiple Object Monitoring</text>
<text x="470.80" y="1950.17" font-size="24.70">Objects</text>
<text x="470.80" y="1995.06" font-size="24.70">Locations</text>
<text x="470.80" y="2039.94" font-size="24.70">Within Game Adaptivity</text>
<text x="470.80" y="2084.83" font-size="24.70">Algorithmic Leveling</text>
<text x="470.80" y="2129.72" font-size="24.70">Briefly Presented Stimuli</text>
<text x="470.80" y="2174.61" font-size="24.70">Divided Attention</text>
<text x="470.80" y="2219.50" font-size="24.70">Single Digits</text>
<text x="470.80" y="2264.38" font-size="24.70">Memory</text>
<text x="470.80" y="2309.27" font-size="24.70">Single Letters</text>
<text x="470.80" y="2354.16" font-size="24.70">Selective Attention</text>
<text x="470.80" y="2399.05" font-size="24.70">Task Switching</text>
<text x="470.80" y="2443.94" font-size="24.70">Response Inhibition</text>
<text x="470.80" y="2488.82" font-size="24.70">Memory Updating</text>
<text x="470.80" y="2533.71" font-size="24.70">Response Time Pressure</text>
<path d="M438.00 1446.84H393.70V1491.73H438.00M438.00 1536.62H430.20V1581.50H438.00M430.20 1559.06H318.10V1626.39H438.00M438.00 1671.28H365.70V1716.17H438.00M318.10 1592.73H250.80V1693.72H365.70M393.70 1469.28H171.40V1643.22H250.80M438.00 1761.06H381.00V1805.94H438.00M438.00 1850.83H353.00V1895.72H438.00M381.00 1783.50H330.20V1873.28H353.00M438.00 1940.61H322.20V1985.50H438.00M330.20 1828.39H271.40V1963.05H322.20M438.00 2030.38H381.00V2075.27H438.00M438.00 2120.16H397.50V2165.05H438.00M438.00 2209.94H379.40V2254.82H438.00M397.50 2142.60H363.50V2232.38H379.40M381.00 2052.83H233.30V2187.49H363.50M271.40 1895.72H177.10V2120.16H233.30M171.40 1556.25H24.80V2007.94H177.10M438.00 2299.71H364.30V2344.60H438.00M438.00 2389.49H411.50V2434.38H438.00M411.50 2411.93H345.30V2479.26H438.00M345.30 2445.60H297.80V2524.15H438.00M364.30 2322.16H194.50V2484.88H297.80M24.80 1782.10H2.50V2403.52H194.50" stroke="#000" stroke-width="2.60" fill="none" stroke-linejoin="miter" stroke-linecap="square"/>
<rect x="222.40" y="1231.50" width="905.80" height="84.20" fill="none" stroke="#000" stroke-width="1.30"/>
<rect x="367.00" y="1240.20" width="75.20" height="28.60" fill="#f76d80" stroke="#000" stroke-width="2.40"/>
<text stroke="#000" stroke-width="0.35" transform="translate(448.20 1265.20) scale(1 1.075)" font-size="25.50">Attention</text>
<rect x="367.00" y="1278.40" width="75.20" height="28.60" fill="#fbe86b" stroke="#000" stroke-width="2.40"/>
<text stroke="#000" stroke-width="0.35" transform="translate(448.20 1303.40) scale(1 1.075)" font-size="25.50">Flexibility</text>
<rect x="568.40" y="1240.20" width="74.60" height="28.60" fill="#d174b6" stroke="#000" stroke-width="2.40"/>
<text stroke="#000" stroke-width="0.35" transform="translate(649.00 1265.20) scale(1 1.075)" font-size="25.50">Language</text>
<rect x="568.40" y="1278.40" width="74.60" height="28.60" fill="#87a3d6" stroke="#000" stroke-width="2.40"/>
<text stroke="#000" stroke-width="0.35" transform="translate(649.00 1303.40) scale(1 1.075)" font-size="25.50">Math</text>
<rect x="778.90" y="1240.20" width="75.10" height="28.60" fill="#bcbcbc" stroke="#000" stroke-width="2.40"/>
<text stroke="#000" stroke-width="0.35" transform="translate(860.00 1265.20) scale(1 1.075)" font-size="25.50">Memory</text>
<rect x="778.90" y="1278.40" width="75.10" height="28.60" fill="#b3ac7e" stroke="#000" stroke-width="2.40"/>
<text stroke="#000" stroke-width="0.35" transform="translate(860.00 1303.40) scale(1 1.075)" font-size="25.50">Reasoning</text>
<rect x="222.40" y="2625.60" width="905.80" height="83.20" fill="none" stroke="#000" stroke-width="1.30"/>
<rect x="436.50" y="2633.90" width="76.10" height="29.40" fill="#f76d80" stroke="#000" stroke-width="2.40"/>
<text stroke="#000" stroke-width="0.35" transform="translate(518.50 2658.10) scale(1 1.075)" font-size="24.50">PROCESS</text>
<rect x="436.50" y="2672.00" width="76.10" height="29.40" fill="#fbe86b" stroke="#000" stroke-width="2.40"/>
<text stroke="#000" stroke-width="0.35" transform="translate(518.50 2696.20) scale(1 1.075)" font-size="24.50">STIMULUS</text>
<rect x="657.10" y="2633.90" width="76.10" height="29.40" fill="#87a3d6" stroke="#000" stroke-width="2.40"/>
<text stroke="#000" stroke-width="0.35" transform="translate(739.10 2658.10) scale(1 1.075)" font-size="24.50">GAME DESIGN</text>
<defs><linearGradient id="cbt" x1="0" x2="1" y1="0" y2="0">
<stop offset="0.000" stop-color="#262a66"/>
<stop offset="0.025" stop-color="#252f6c"/>
<stop offset="0.050" stop-color="#243471"/>
<stop offset="0.075" stop-color="#233876"/>
<stop offset="0.100" stop-color="#223d7c"/>
<stop offset="0.125" stop-color="#1f4681"/>
<stop offset="0.150" stop-color="#1c4f86"/>
<stop offset="0.175" stop-color="#18588a"/>
<stop offset="0.200" stop-color="#15618f"/>
<stop offset="0.225" stop-color="#126c97"/>
<stop offset="0.250" stop-color="#0f779f"/>
<stop offset="0.275" stop-color="#0c82a6"/>
<stop offset="0.300" stop-color="#1b8eb0"/>
<stop offset="0.325" stop-color="#3099ba"/>
<stop offset="0.350" stop-color="#44a5c4"/>
<stop offset="0.375" stop-color="#5eb3cd"/>
<stop offset="0.400" stop-color="#7bc1d6"/>
<stop offset="0.425" stop-color="#99cfde"/>
<stop offset="0.450" stop-color="#badee8"/>
<stop offset="0.475" stop-color="#dbeef1"/>
<stop offset="0.500" stop-color="#f6f5f1"/>
<stop offset="0.525" stop-color="#f4ede3"/>
<stop offset="0.550" stop-color="#f2e4d3"/>
<stop offset="0.575" stop-color="#efdcc3"/>
<stop offset="0.600" stop-color="#ecd3b2"/>
<stop offset="0.625" stop-color="#e8caa1"/>
<stop offset="0.650" stop-color="#e3bd8b"/>
<stop offset="0.675" stop-color="#deb075"/>
<stop offset="0.700" stop-color="#d9a45f"/>
<stop offset="0.725" stop-color="#d49a50"/>
<stop offset="0.750" stop-color="#cf9041"/>
<stop offset="0.775" stop-color="#ca8632"/>
<stop offset="0.800" stop-color="#c4792a"/>
<stop offset="0.825" stop-color="#bd6b25"/>
<stop offset="0.850" stop-color="#b65e1f"/>
<stop offset="0.875" stop-color="#ae511c"/>
<stop offset="0.900" stop-color="#a5451b"/>
<stop offset="0.925" stop-color="#9d3819"/>
<stop offset="0.950" stop-color="#952f19"/>
<stop offset="0.975" stop-color="#8e2518"/>
<stop offset="1.000" stop-color="#871c18"/>
</linearGradient></defs>
<rect x="1364.20" y="1232.30" width="179.60" height="36.30" fill="url(#cbt)" stroke="#000" stroke-width="1.60"/>
<path d="M1454.00 1268.60V1265.60" stroke="#000" stroke-width="1.2"/>
<text transform="translate(1363.40 1301.20) scale(1 1.040)" font-size="22.00" text-anchor="middle">-0.55</text>
<text transform="translate(1452.50 1301.20) scale(1 1.040)" font-size="22.00" text-anchor="middle">0</text>
<text transform="translate(1541.80 1301.20) scale(1 1.040)" font-size="22.00" text-anchor="middle">0.55</text>
<defs><linearGradient id="cbb" x1="0" x2="1" y1="0" y2="0">
<stop offset="0.000" stop-color="#24204c"/>
<stop offset="0.025" stop-color="#26265e"/>
<stop offset="0.050" stop-color="#282c71"/>
<stop offset="0.075" stop-color="#2b3284"/>
<stop offset="0.100" stop-color="#2d3896"/>
<stop offset="0.125" stop-color="#28419a"/>
<stop offset="0.150" stop-color="#244a9f"/>
<stop offset="0.175" stop-color="#1f53a4"/>
<stop offset="0.200" stop-color="#1a5ca8"/>
<stop offset="0.225" stop-color="#1668aa"/>
<stop offset="0.250" stop-color="#1274ad"/>
<stop offset="0.275" stop-color="#0e80b0"/>
<stop offset="0.300" stop-color="#0a8cb2"/>
<stop offset="0.325" stop-color="#2899b8"/>
<stop offset="0.350" stop-color="#46a6bd"/>
<stop offset="0.375" stop-color="#64b2c2"/>
<stop offset="0.400" stop-color="#82bfc8"/>
<stop offset="0.425" stop-color="#a2cdd3"/>
<stop offset="0.450" stop-color="#c2dade"/>
<stop offset="0.475" stop-color="#dde7ea"/>
<stop offset="0.500" stop-color="#f4f2f6"/>
<stop offset="0.525" stop-color="#f6e8e8"/>
<stop offset="0.550" stop-color="#f9dedb"/>
<stop offset="0.575" stop-color="#f8cec8"/>
<stop offset="0.600" stop-color="#f6beb4"/>
<stop offset="0.625" stop-color="#f5aea1"/>
<stop offset="0.650" stop-color="#f39f8e"/>
<stop offset="0.675" stop-color="#f1907e"/>
<stop offset="0.700" stop-color="#f0816d"/>
<stop offset="0.725" stop-color="#ed715c"/>
<stop offset="0.750" stop-color="#e75f4a"/>
<stop offset="0.775" stop-color="#e24c38"/>
<stop offset="0.800" stop-color="#dc3a26"/>
<stop offset="0.825" stop-color="#d13427"/>
<stop offset="0.850" stop-color="#c62d28"/>
<stop offset="0.875" stop-color="#bb272a"/>
<stop offset="0.900" stop-color="#b0202b"/>
<stop offset="0.925" stop-color="#961c28"/>
<stop offset="0.950" stop-color="#7d1826"/>
<stop offset="0.975" stop-color="#641423"/>
<stop offset="1.000" stop-color="#4a1020"/>
</linearGradient></defs>
<rect x="1364.20" y="2626.50" width="179.60" height="37.00" fill="url(#cbb)" stroke="#000" stroke-width="1.60"/>
<path d="M1454.00 2663.50V2660.50" stroke="#000" stroke-width="1.2"/>
<text transform="translate(1363.40 2695.60) scale(1 1.040)" font-size="22.00" text-anchor="middle">-1.00</text>
<text transform="translate(1452.50 2695.60) scale(1 1.040)" font-size="22.00" text-anchor="middle">0</text>
<text transform="translate(1541.80 2695.60) scale(1 1.040)" font-size="22.00" text-anchor="middle">1.00</text>
</svg></body></html>
